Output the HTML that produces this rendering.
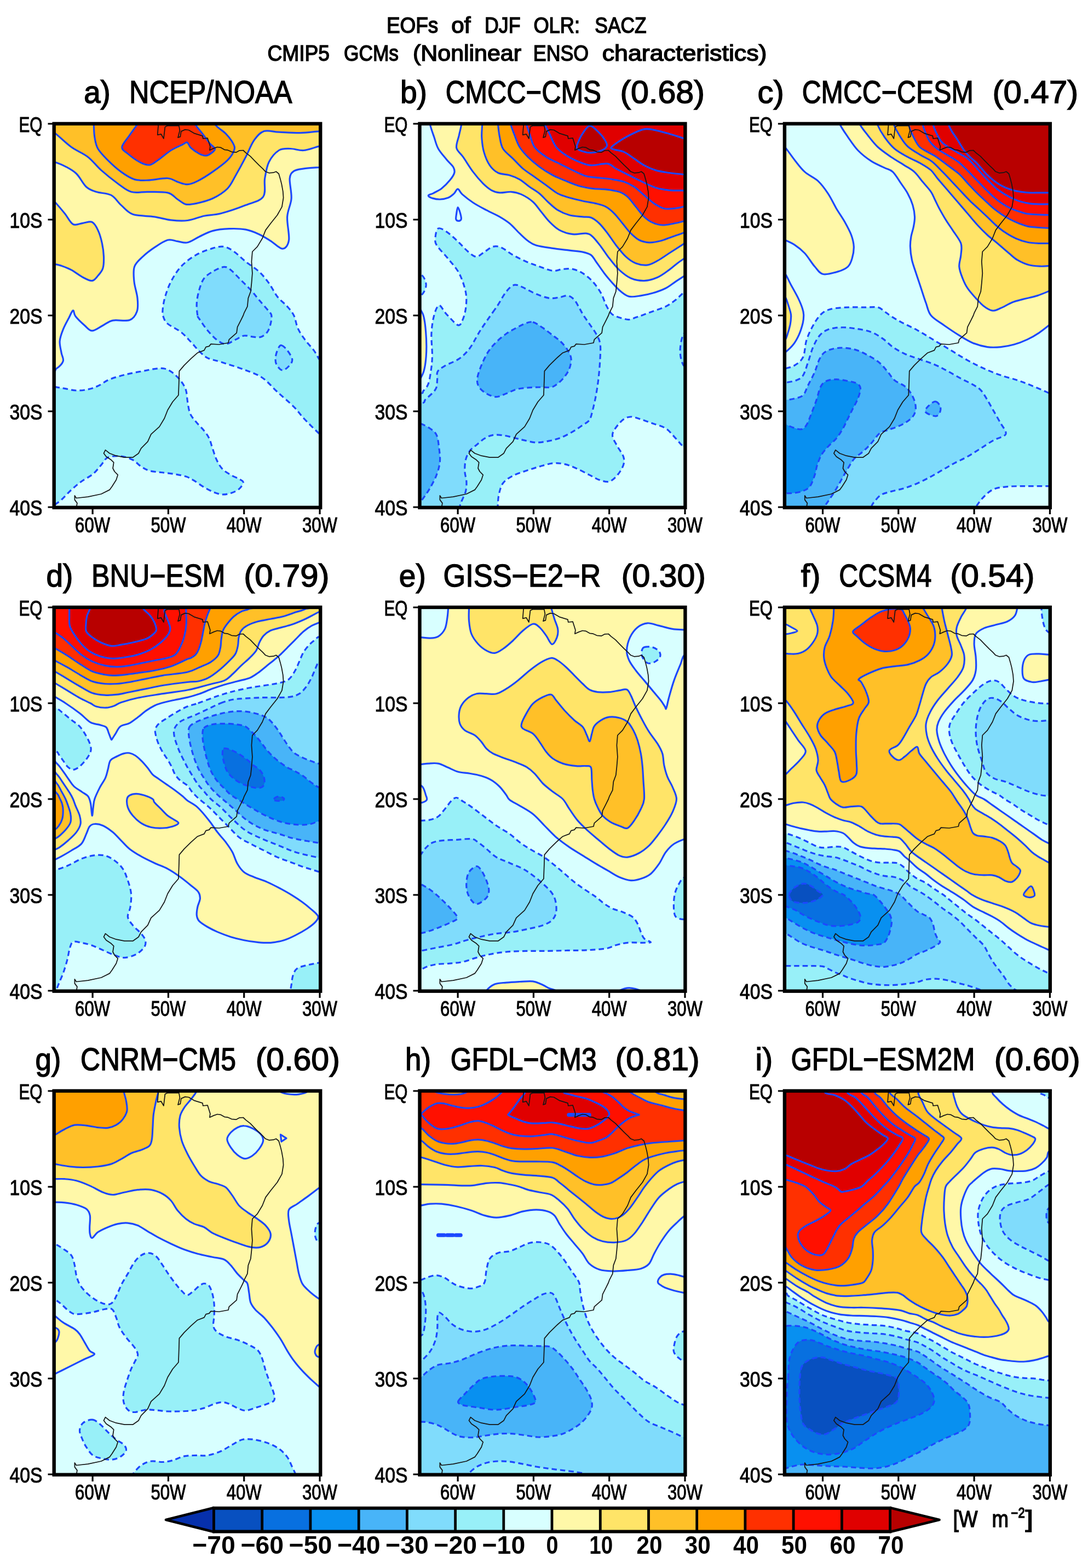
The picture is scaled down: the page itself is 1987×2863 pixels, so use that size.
<!DOCTYPE html>
<html><head><meta charset="utf-8"><title>EOFs of DJF OLR: SACZ</title>
<style>html,body{margin:0;padding:0;background:#fff}svg{display:block}text{font-family:"Liberation Sans",sans-serif;fill:#000}</style></head>
<body>
<svg width="1987" height="2863" viewBox="0 0 1987 2863">
<rect width="1987" height="2863" fill="#fff"/>
<g id="panel-a">
<clipPath id="c0"><rect x="98.5" y="225.5" width="487" height="701.5"/></clipPath>
<rect x="98.5" y="225.5" width="487" height="701.5" fill="#d8ffff"/>
<g clip-path="url(#c0)" stroke-linejoin="round">
<path d="M615.5 303.3C605.2 326.7 594.1 304.7 584 305.5C573.9 306.2 562.8 306.7 554.9 307.9C547 309 541 309.4 536.7 312.4C532.4 315.5 529.9 317.7 529.1 326.1C528.4 334.4 532.9 350.8 532.1 362.5C531.4 374.1 525.3 383.2 524.6 395.8C523.8 408.5 529 428.6 527.6 438.3C526.2 448 521.6 453.8 516.1 454.1C510.5 454.3 501.4 444.2 494.2 439.8C487.1 435.4 480.6 431.1 473 427.7C465.4 424.2 457.8 420.8 448.7 419.2C439.7 417.5 428.5 417.3 418.4 417.7C408.3 418.1 397.2 419.2 388.1 421.6C379 424 371.4 428.7 363.8 432.2C356.3 435.8 349.2 441.4 342.6 442.8C336 444.2 330.5 441.5 324.4 440.7C318.3 439.9 313.3 436.4 306.2 438.3C299.1 440.2 289.5 446.9 282 451.9C274.4 457 266.8 462.8 260.7 468.6C254.7 474.4 248.2 479.2 245.6 486.8C242.9 494.4 244 504.5 245 514.1C245.9 523.7 250.2 535.3 251 544.4C251.9 553.5 252.5 562 250.1 568.7C247.7 575.4 243.8 581.7 236.5 584.5C229.1 587.2 214.2 583.4 206.1 585.1C198.1 586.7 194.3 591 187.9 594.2C181.6 597.3 173.8 603.9 168.2 603.9C162.7 603.9 159.6 598.6 154.6 594.2C149.5 589.8 141.4 582 137.9 577.5C134.4 572.9 135.4 566.4 133.4 566.9C131.3 567.4 128.8 574.7 125.8 580.5C122.7 586.3 117.9 594.7 115.2 601.7C112.4 608.8 109.6 615.9 109.1 623C108.6 630 111.1 638.1 112.1 644.2C113.1 650.3 116.7 654.6 115.2 659.4C113.6 664.2 108.6 669.2 103 673C97.5 676.8 92.4 726.3 81.8 682.1C71.2 637.9 46.4 494.1 39.3 408C32.3 321.8 -61.7 205.8 39.3 165.3C140.4 124.9 549.8 142.4 645.9 165.3C741.9 188.3 625.9 280 615.5 303.3Z" fill="#fff8a8" stroke="#1c48ff" stroke-width="3.2"/>
<path d="M615.5 262.4C605.2 279.3 594.1 264.9 584 266.9C573.9 269 563.8 273.8 554.9 274.5C546 275.3 538.2 271.5 530.6 271.5C523 271.5 516 270.5 509.4 274.5C502.8 278.6 495.5 287.2 491.2 295.7C486.9 304.3 485.4 315.5 483.6 326.1C481.9 336.7 486.4 351.3 480.6 359.4C474.8 367.5 461.6 369.5 448.7 374.6C435.9 379.7 415.9 386.5 403.3 389.8C390.6 393 383 392.2 372.9 394.3C362.8 396.4 352.7 401.2 342.6 402.5C332.5 403.8 322.4 403 312.3 401.9C302.2 400.8 293.6 397.6 282 395.8C270.3 394.1 252.6 394.8 242.5 391.3C232.4 387.7 227.9 380.4 221.3 374.6C214.7 368.8 210.7 360.4 203.1 356.4C195.5 352.4 183.4 352.9 175.8 350.3C168.2 347.8 163.7 346.8 157.6 341.2C151.6 335.7 146 323.3 139.4 317C132.9 310.7 124.8 306.9 118.2 303.3C111.6 299.8 107.1 298.5 100 295.7C92.9 293 85.8 308.4 75.7 286.7C65.6 264.9 -55.7 185.6 39.3 165.3C134.4 145.1 549.8 149.2 645.9 165.3C741.9 181.5 625.9 245.5 615.5 262.4Z" fill="#ffe468" stroke="#1c48ff" stroke-width="3.2"/>
<path d="M81.8 350.3C91.9 341.7 93.9 362 100 368.5C106.1 375.1 112.6 382.9 118.2 389.8C123.8 396.6 127.8 406.5 133.4 409.5C138.9 412.4 145.7 408 151.6 407.3C157.4 406.7 163.7 403.4 168.2 405.5C172.8 407.7 175.8 413.6 178.8 420.1C181.9 426.6 184.7 436.3 186.4 444.3C188.2 452.4 189.2 461 189.5 468.6C189.7 476.2 189.7 484 187.9 489.8C186.2 495.6 182.1 499.7 178.8 503.5C175.6 507.3 172.8 512.1 168.2 512.6C163.7 513.1 157.9 509.8 151.6 506.5C145.2 503.2 136.9 496.4 130.3 492.9C123.8 489.3 117.2 487.1 112.1 485.3C107.1 483.5 106.1 483 100 482.3C93.9 481.5 85.8 491.1 75.7 480.7C65.6 470.4 38.3 441.8 39.3 420.1C40.4 398.4 71.7 358.9 81.8 350.3Z" fill="#ffe468" stroke="#1c48ff" stroke-width="3.2"/>
<path d="M615.5 238.1C605.2 250.5 595.1 238.9 584 239.6C572.9 240.4 561.3 242.4 548.8 242.7C536.4 242.9 520.5 241.7 509.4 241.2C498.3 240.7 489.7 237.1 482.1 239.6C474.5 242.2 469.5 248.5 463.9 256.3C458.4 264.2 454.3 276 448.7 286.7C443.2 297.3 436.1 310.4 430.6 320C425 329.6 422.5 337.2 415.4 344.3C408.3 351.3 397.7 357.9 388.1 362.5C378.5 367 365.9 369.8 357.8 371.6C349.7 373.3 345.1 374.3 339.6 373.1C334 371.8 330 367.5 324.4 364C318.9 360.4 315.3 354.1 306.2 351.9C297.1 349.6 280.9 350.6 269.8 350.3C258.7 350.1 248.6 352.9 239.5 350.3C230.4 347.8 224.3 341.7 215.2 335.2C206.1 328.6 194 319 184.9 310.9C175.8 302.8 169.7 293.7 160.7 286.7C151.6 279.6 140.4 275.8 130.3 268.5C120.2 261.1 109.1 249.8 100 242.7C90.9 235.6 85.8 238.9 75.7 226C65.6 213.1 -55.7 175.5 39.3 165.3C134.4 155.2 549.8 153.2 645.9 165.3C741.9 177.5 625.9 225.7 615.5 238.1Z" fill="#ffc028" stroke="#1c48ff" stroke-width="3.2"/>
<path d="M171.3 207.8C152.8 217.9 171 218.9 171.3 226C171.5 233.1 171.5 242.7 172.8 250.3C174 257.8 174.8 264.4 178.8 271.5C182.9 278.6 190 285.6 197 292.7C204.1 299.8 213.2 308.1 221.3 313.9C229.4 319.8 237.5 325.1 245.6 327.6C253.7 330.1 259.7 329.5 269.8 329.1C279.9 328.8 297.1 325 306.2 325.5C315.3 326 318.3 330.3 324.4 332.1C330.5 334 336.5 336.9 342.6 336.7C348.7 336.4 353.2 334.4 360.8 330.6C368.4 326.8 379 320.3 388.1 313.9C397.2 307.6 408.8 299.3 415.4 292.7C422 286.1 425.8 279.6 427.5 274.5C429.3 269.5 428.5 267.4 426 262.4C423.5 257.3 417.7 249.8 412.4 244.2C407.1 238.6 399.7 235.1 394.2 229C388.6 223 397.7 218.4 379 207.8C360.3 197.2 316.6 165.3 282 165.3C247.3 165.3 189.7 197.7 171.3 207.8Z" fill="#ffa000" stroke="#1c48ff" stroke-width="3.2"/>
<path d="M263.8 207.8C254.7 217.9 256.2 219.4 251.6 226C247.1 232.6 241.3 240.2 236.5 247.2C231.7 254.3 223.3 262.9 222.8 268.5C222.3 274 228.1 276 233.4 280.6C238.7 285.1 248.1 292.3 254.7 295.7C261.2 299.2 267.3 301.7 272.9 301.2C278.4 300.7 281.5 297.2 288 292.7C294.6 288.3 304.7 279.3 312.3 274.5C319.9 269.7 328.6 266.3 333.5 263.9C338.4 261.5 339.2 259 341.7 260C344.2 261 345 266.5 348.7 270C352.4 273.4 359.3 278.2 363.8 280.6C368.4 283 372.2 284.5 376 284.2C379.8 284 383.8 281.2 386.6 279.1C389.4 276.9 393.2 274.3 392.6 271.5C392.1 268.7 387.3 266.9 383.5 262.4C379.8 257.8 374.2 249.8 369.9 244.2C365.6 238.6 361.8 235.1 357.8 229C353.7 223 354.2 218.4 345.6 207.8C337 197.2 319.9 165.3 306.2 165.3C292.6 165.3 272.9 197.7 263.8 207.8Z" fill="#ff3000" stroke="#1c48ff" stroke-width="3.2"/>
<path d="M615.5 711.2C610.3 684.1 591.1 669.8 584 657.8C576.9 645.9 577.4 645.7 573.1 639.6C568.7 633.6 562.7 628 557.9 621.5C553.1 614.9 547.8 607.8 544.3 600.2C540.7 592.6 540 582.7 536.7 576C533.4 569.2 529.6 565.3 524.6 559.6C519.5 553.8 511.9 548.5 506.4 541.4C500.8 534.3 496.8 524.7 491.2 517.1C485.6 509.5 480.1 502.5 473 495.9C465.9 489.3 456.3 483.8 448.7 477.7C441.2 471.6 434.1 464.1 427.5 459.5C421 455 415.9 451.4 409.3 450.4C402.8 449.4 396.7 450.9 388.1 453.4C379.5 456 367.4 460 357.8 465.6C348.2 471.1 338.1 478.7 330.5 486.8C322.9 494.9 317.1 505 312.3 514.1C307.5 523.2 304.2 532.8 301.7 541.4C299.1 550 297.6 559.3 297.1 565.7C296.6 572 297.1 575.1 298.6 579.3C300.2 583.5 300.9 586.6 306.2 591.1C311.5 595.6 323.4 600.7 330.5 606.3C337.6 611.8 343.1 618.7 348.7 624.5C354.2 630.3 358.8 636.3 363.8 641.2C368.9 646 372.4 650.3 379 653.6C385.6 656.9 391.6 657.1 403.3 660.9C414.9 664.6 436.1 671.2 448.7 676C461.4 680.8 469.5 683.1 479.1 689.7C488.7 696.3 496.8 706.6 506.4 715.5C516 724.3 528.6 734.7 536.7 742.8C544.8 750.8 547 755.6 554.9 764C562.8 772.3 573.9 783.4 584 792.8C594.1 802.2 610.3 834 615.5 820.4C620.8 806.8 620.8 738.3 615.5 711.2Z" fill="#98f0f8" stroke="#1c48ff" stroke-width="3.2" stroke-dasharray="9.5 6"/>
<path d="M360.8 576C360 571.2 358.8 561.3 359.3 553.5C359.8 545.7 361.6 536.8 363.8 529.3C366.1 521.7 368.4 513.8 372.9 508C377.5 502.2 385.1 497.8 391.1 494.4C397.2 490.9 404.3 487.7 409.3 487.4C414.4 487.2 416.4 488.9 421.5 492.9C426.5 496.8 433.6 505 439.7 511.1C445.7 517.1 452.3 523.2 457.8 529.3C463.4 535.3 467.5 540.9 473 547.5C478.6 554 487.4 563.9 491.2 568.7C495 573.4 495.2 572.2 495.8 576C496.3 579.7 495.5 586.1 494.2 591.1C493 596.2 491.2 602.2 488.2 606.3C485.1 610.3 480.6 614 476 615.4C471.5 616.8 465.9 615.2 460.9 614.8C455.8 614.4 450.8 612.1 445.7 613C440.7 613.8 436.1 617.4 430.6 619.9C425 622.5 417.9 627.9 412.4 628.1C406.8 628.4 402.8 625.6 397.2 621.5C391.6 617.3 384.6 609.8 379 603.3C373.4 596.7 366.9 586.6 363.8 582C360.8 577.5 361.6 580.7 360.8 576Z" fill="#80dcfc" stroke="#1c48ff" stroke-width="3.2" stroke-dasharray="9.5 6"/>
<path d="M513.9 630.5C516.7 631.1 521.3 635.4 524.6 639.6C527.8 643.9 533.2 651.5 533.7 656.3C534.2 661.1 530.6 665.2 527.6 668.5C524.6 671.7 519.3 676.5 515.5 676C511.7 675.5 506.9 669.5 504.9 665.4C502.8 661.4 502.8 656.6 503.3 651.8C503.8 647 506.1 640.2 507.9 636.6C509.7 633.1 511.2 630 513.9 630.5Z" fill="#80dcfc" stroke="#1c48ff" stroke-width="3.2" stroke-dasharray="9.5 6"/>
<path d="M75.7 703.3C85.8 684.6 92.9 705.4 100 706.4C107.1 707.4 111.6 708.3 118.2 709.4C124.8 710.5 132.3 712.8 139.4 713C146.5 713.3 154.1 712.3 160.7 710.9C167.2 709.5 172.3 707.9 178.8 704.8C185.4 701.8 191.5 696.3 200.1 692.7C208.7 689.2 220.3 686.1 230.4 683.6C240.5 681.1 252.1 679.2 260.7 677.6C269.3 675.9 275.4 674.4 282 673.6C288.5 672.9 294.6 671.8 300.2 673C305.7 674.2 310.3 676.8 315.3 680.6C320.4 684.4 326.4 690.4 330.5 695.7C334.5 701.1 337.6 706.1 339.6 712.4C341.6 718.7 341.3 726.6 342.6 733.7C343.9 740.7 344.6 748.8 347.2 754.9C349.7 761 353.5 764.7 357.8 770C362.1 775.4 368.9 781.7 372.9 786.7C377 791.8 379.5 795.1 382 800.4C384.6 805.7 385.8 812 388.1 818.6C390.4 825.1 392.6 833.5 395.7 839.8C398.7 846.1 402 851.9 406.3 856.5C410.6 861 416.4 864.1 421.5 867.1C426.5 870.1 432.8 872.4 436.6 874.7C440.4 876.9 444.2 877.7 444.2 880.7C444.2 883.8 440.4 889.6 436.6 892.9C432.8 896.2 426.5 898.8 421.5 900.5C416.4 902.1 411.3 903.1 406.3 902.9C401.2 902.6 396.7 901.1 391.1 898.9C385.6 896.8 379 893.4 372.9 889.8C366.9 886.3 360.3 881 354.7 877.7C349.2 874.4 345.6 872.1 339.6 870.1C333.5 868.1 325.9 866.8 318.3 865.6C310.8 864.3 301.7 863.6 294.1 862.5C286.5 861.5 278.9 861.3 272.9 859.5C266.8 857.7 262.7 855.2 257.7 851.9C252.6 848.6 248.6 842.9 242.5 839.8C236.5 836.7 228.9 833.9 221.3 833.1C213.7 832.4 203.1 832.6 197 835.2C191 837.9 189.5 843.8 184.9 848.9C180.4 854 175.8 860.5 169.7 865.6C163.7 870.6 155.1 874.4 148.5 879.2C142 884 136.4 888.8 130.3 894.4C124.3 899.9 117.2 908 112.1 912.6C107.1 917.1 106.1 917.1 100 921.7C93.9 926.2 85.8 957.1 75.7 939.9C65.6 922.7 39.3 858 39.3 818.6C39.3 779.1 65.6 722 75.7 703.3Z" fill="#98f0f8" stroke="#1c48ff" stroke-width="3.2" stroke-dasharray="9.5 6"/>
<path d="M289.2 227.5L287.7 246.3L294.1 244.8L298.9 253L301.4 231.8L305.6 229.6L326.8 229.6L328.4 238.1L325 251.2L329.3 249.7L330.8 239.9L338.1 236.6L344.7 237.5L354.4 243.3L364.1 246.3L369.9 248.1L370.8 253L379 252.1L381.4 259.4L383.9 267.5L382.9 274.2L390.2 270.9L396.9 268.5L403.3 269.4L409.9 273.3L416.3 274.2L423 277.3L431.2 278.2L437.5 274.8L444.2 274.5L449.1 279.1L457.2 285.4L465.1 293.6L473.3 301.8L480 308.2L484.8 313.3L491.2 315.8L499.4 315.2L504.2 313.3L509.1 317.3L511.8 326.4L514.3 336.1L516.7 349.1L517.6 361L514.9 377.6L506.4 392.8L494.2 408L485.1 420.1L479.1 435.2L470 450.4L460.9 459.5L459.4 477.7L460.9 498.9L459.4 517.1L457.8 532.3L453.3 544.4L451.8 559.6L445.7 571.7L444.2 576L439.7 585.1L433.6 597.2L432.1 607.8L418.4 619.9L416.9 626L400.2 629L385.1 628.1L382 632.1L376 633.6L372.9 639.6L360.8 644.2L348.7 654.8L336.5 666.9L327.4 677.6L326.8 697.3L325.9 721.5L315.3 733.7L306.2 748.8L300.2 764L291.1 779.1L275.9 792.8L269.8 806.4L257.7 818.6L253.1 827.7L242.5 835.2L227.4 835.2L212.2 832.2L200.1 827.7L192.5 821.6L189.5 827.7L194 833.7L203.1 839.8L207.7 844.3L206.1 855L209.2 861L215.2 867.1L212.2 876.2L204.6 888.3L200.1 894.4L184.9 902L160.7 907.1L139.4 909.5L136.4 905L136.4 912.6L140.9 918.6L139.4 927.7" fill="none" stroke="#161616" stroke-width="1.75" stroke-linejoin="round"/>
</g>
<rect x="98.7" y="225.9" width="486.5" height="700.8" fill="none" stroke="#000" stroke-width="6.4"/>
<path d="M87.5 226H100" stroke="#000" stroke-width="3" fill="none"/>
<text y="241" font-size="39" font-weight="normal" stroke="#000" stroke-width="1.0"><tspan x="34.5" textLength="43" lengthAdjust="spacingAndGlyphs">EQ</tspan></text>
<path d="M87.5 401H100" stroke="#000" stroke-width="3" fill="none"/>
<text y="416" font-size="39" font-weight="normal" stroke="#000" stroke-width="1.0"><tspan x="17.5" textLength="60" lengthAdjust="spacingAndGlyphs">10S</tspan></text>
<path d="M87.5 576H100" stroke="#000" stroke-width="3" fill="none"/>
<text y="591" font-size="39" font-weight="normal" stroke="#000" stroke-width="1.0"><tspan x="17.5" textLength="60" lengthAdjust="spacingAndGlyphs">20S</tspan></text>
<path d="M87.5 751H100" stroke="#000" stroke-width="3" fill="none"/>
<text y="766" font-size="39" font-weight="normal" stroke="#000" stroke-width="1.0"><tspan x="17.5" textLength="60" lengthAdjust="spacingAndGlyphs">30S</tspan></text>
<path d="M87.5 926H100" stroke="#000" stroke-width="3" fill="none"/>
<text y="941" font-size="39" font-weight="normal" stroke="#000" stroke-width="1.0"><tspan x="17.5" textLength="60" lengthAdjust="spacingAndGlyphs">40S</tspan></text>
<path d="M169.1 926V939" stroke="#000" stroke-width="3.2" fill="none"/>
<text y="972.3" font-size="39" font-weight="normal" stroke="#000" stroke-width="1.0"><tspan x="137.1" textLength="64" lengthAdjust="spacingAndGlyphs">60W</tspan></text>
<path d="M307.4 926V939" stroke="#000" stroke-width="3.2" fill="none"/>
<text y="972.3" font-size="39" font-weight="normal" stroke="#000" stroke-width="1.0"><tspan x="275.4" textLength="64" lengthAdjust="spacingAndGlyphs">50W</tspan></text>
<path d="M445.7 926V939" stroke="#000" stroke-width="3.2" fill="none"/>
<text y="972.3" font-size="39" font-weight="normal" stroke="#000" stroke-width="1.0"><tspan x="413.7" textLength="64" lengthAdjust="spacingAndGlyphs">40W</tspan></text>
<path d="M584 926V939" stroke="#000" stroke-width="3.2" fill="none"/>
<text y="972.3" font-size="39" font-weight="normal" stroke="#000" stroke-width="1.0"><tspan x="552" textLength="64" lengthAdjust="spacingAndGlyphs">30W</tspan></text>
</g>
<g id="panel-b">
<clipPath id="c1"><rect x="765.5" y="225.5" width="487" height="701.5"/></clipPath>
<rect x="765.5" y="225.5" width="487" height="701.5" fill="#d8ffff"/>
<g clip-path="url(#c1)" stroke-linejoin="round">
<path d="M800.4 417.1C803.7 415.5 809.5 419.1 815.5 423.1C821.6 427.2 830.2 435.2 836.7 441.3C843.3 447.4 849.4 455 854.9 459.5C860.5 464.1 865.1 468.6 870.1 468.6C875.2 468.6 880.2 462.5 885.3 459.5C890.3 456.5 895.4 451.7 900.4 450.4C905.5 449.1 909.5 449.4 915.6 451.9C921.7 454.5 929.2 461.3 936.8 465.6C944.4 469.9 953 474.2 961.1 477.7C969.2 481.2 977.3 484 985.3 486.8C993.4 489.6 1002.5 493.6 1009.6 494.4C1016.7 495.1 1021.7 491.9 1027.8 491.4C1033.9 490.8 1039.9 490.1 1046 491.4C1052.1 492.6 1058.1 495.1 1064.2 498.9C1070.3 502.7 1076.8 508 1082.4 514.1C1088 520.2 1093.5 528.2 1097.6 535.3C1101.6 542.4 1103.6 550.5 1106.7 556.6C1109.7 562.6 1112.7 568.2 1115.7 571.7C1118.8 575.2 1121.3 575.9 1124.8 577.5C1128.4 579.1 1132.9 580.4 1137 581.4C1141 582.4 1145.1 583.8 1149.1 583.5C1153.2 583.2 1157.2 581 1161.2 579.6C1165.3 578.2 1168.3 577.2 1173.4 575.4C1178.4 573.5 1184.5 571.3 1191.6 568.7C1198.6 566.1 1208.7 563.1 1215.8 559.6C1222.9 556 1228.2 552 1234 547.5C1239.9 542.9 1242.9 538.4 1251 532.3C1259.1 526.2 1277.3 459.3 1282.5 511.1C1287.8 562.8 1287.8 791.6 1282.5 842.8C1277.3 894.1 1259.1 825.6 1251 818.6C1242.9 811.5 1239.9 806.4 1234 800.4C1228.2 794.3 1222.9 786.7 1215.8 782.2C1208.7 777.6 1199.1 775.9 1191.6 773.1C1184 770.3 1176.9 767.5 1170.3 765.5C1163.8 763.5 1157.7 760.7 1152.1 761C1146.6 761.2 1142 763 1137 767C1131.9 771.1 1124.8 780.2 1121.8 785.2C1118.8 790.3 1117.8 792.3 1118.8 797.3C1119.8 802.4 1124.6 809.5 1127.9 815.5C1131.2 821.6 1136.7 828.2 1138.5 833.7C1140.3 839.3 1140.3 843.3 1138.5 848.9C1136.7 854.5 1132.2 862 1127.9 867.1C1123.6 872.1 1118.3 877.7 1112.7 879.2C1107.2 880.7 1100.6 878.2 1094.5 876.2C1088.5 874.2 1083.4 870.6 1076.3 867.1C1069.2 863.6 1059.6 858.2 1052.1 855C1044.5 851.7 1037.9 848.9 1030.8 847.4C1023.8 845.9 1017.2 845.1 1009.6 845.9C1002 846.6 993.4 849.7 985.3 851.9C977.3 854.2 969.2 856.7 961.1 859.5C953 862.3 943.9 864.8 936.8 868.6C929.7 872.4 922.9 876.4 918.6 882.3C914.3 888.1 912.7 896.2 911 903.5C909.4 910.8 909.7 916.8 908.9 925.9C908.2 935 937.7 950.7 906.5 958.1C875.3 965.4 752.3 1009.6 721.5 970.2C690.7 930.8 713.9 763.5 721.5 721.5C729.1 679.6 758.4 719.8 767 718.5C775.6 717.2 770.5 716.9 773.1 713.9C775.6 711 779.8 707.4 782.2 700.9C784.5 694.4 786.1 683.5 787.3 674.8C788.5 666.1 789.3 659.6 789.4 648.7C789.5 637.9 787.4 621.6 787.9 609.6C788.4 597.6 790.2 585.6 792.5 576.9C794.7 568.2 798.2 558.6 801.6 557.5C804.9 556.4 809.7 567 812.5 570.2C815.3 573.4 814.5 572.9 818.6 576.9C822.6 580.8 832.5 593.2 837.1 593.9C841.7 594.5 843.8 586.9 846.2 580.8C848.5 574.7 850.6 565.7 851.3 557.5C852 549.2 852.3 541.2 850.1 531.4C847.9 521.6 843.5 508.4 838.3 498.6C833 488.8 825.4 481.1 818.6 472.6C811.7 464 801.2 454.1 797.3 447.4C793.4 440.7 794.7 437.3 795.2 432.2C795.7 427.2 797 418.6 800.4 417.1Z" fill="#98f0f8" stroke="#1c48ff" stroke-width="3.2" stroke-dasharray="9.5 6"/>
<path d="M757.9 498.9C760.2 492.6 768.2 499.9 771.5 503.5C774.9 507 778.2 514.6 778.2 520.2C778.2 525.7 774.9 533.3 771.5 536.8C768.2 540.4 760.2 547.7 757.9 541.4C755.6 535.1 755.6 505.3 757.9 498.9Z" fill="#98f0f8" stroke="#1c48ff" stroke-width="3.2" stroke-dasharray="9.5 6"/>
<path d="M899.8 570.5C905.2 562.8 905.4 562.9 909.5 556.6C913.7 550.2 919.6 538.4 924.7 532.3C929.7 526.2 934.3 521.2 939.9 520.2C945.4 519.2 951.5 523.4 958.1 526.2C964.6 529 971.7 533.8 979.3 536.8C986.9 539.9 996.5 543.4 1003.5 544.4C1010.6 545.4 1016.2 543.7 1021.7 542.9C1027.3 542.1 1032.4 539.1 1036.9 539.9C1041.5 540.6 1045.5 543.7 1049 547.5C1052.6 551.2 1055.3 557.9 1058.1 562.6C1060.9 567.4 1062.7 571.2 1065.7 576C1068.7 580.7 1072.5 585.6 1076.3 591.1C1080.1 596.7 1085.2 603.3 1088.5 609.3C1091.7 615.4 1094.8 619.9 1096 627.5C1097.3 635.1 1096.5 644.2 1096 654.8C1095.5 665.4 1094.3 680.1 1093 691.2C1091.7 702.3 1090.2 711.9 1088.5 721.5C1086.7 731.1 1084.4 741.2 1082.4 748.8C1080.4 756.4 1079.4 762.5 1076.3 767C1073.3 771.6 1069.2 772.6 1064.2 776.1C1059.1 779.7 1052.6 784.5 1046 788.2C1039.4 792 1031.8 796.1 1024.8 798.9C1017.7 801.6 1011.1 803.4 1003.5 804.9C996 806.4 987.4 808.2 979.3 808C971.2 807.7 962.1 804.9 955 803.4C947.9 801.9 942.9 800.3 936.8 798.9C930.8 797.4 924.7 795.7 918.6 794.9C912.6 794.2 906 793.4 900.4 794.3C894.9 795.2 890.3 797.3 885.3 800.4C880.2 803.4 874.7 808.7 870.1 812.5C865.6 816.3 861.3 818.6 858 823.1C854.7 827.7 851.9 833.5 850.4 839.8C848.9 846.1 848.6 854.5 848.9 861C849.1 867.6 851.7 873.2 851.9 879.2C852.2 885.3 851.9 891.4 850.4 897.4C848.9 903.5 844.6 910.9 842.8 915.6C841 920.4 840.8 918.8 839.8 925.9C838.8 933 856.5 952.7 836.7 958.1C817 963.4 740.7 994.5 721.5 958.1C702.3 921.7 713.5 776.7 721.5 739.7C729.5 702.7 760.5 737.8 769.7 736.1C779 734.4 772.8 733.6 777 729.4C781.3 725.3 791.6 717.1 795.2 711.2C798.8 705.4 797.9 699.6 798.5 694.2C799.2 688.8 796.9 683.1 799.1 678.8C801.4 674.4 805.7 672.1 812.2 668.2C818.7 664.2 830.6 660.5 838.3 655.1C845.9 649.7 851.5 644.4 858 635.7C864.5 627 870.4 613.8 877.4 603C884.4 592.1 894.5 578.2 899.8 570.5Z" fill="#80dcfc" stroke="#1c48ff" stroke-width="3.2" stroke-dasharray="9.5 6"/>
<path d="M1267.4 603.3C1264.3 592.6 1253.3 604.3 1249.2 609.3C1245 614.4 1243.4 626 1242.5 633.6C1241.6 641.2 1242.3 648.7 1243.7 654.8C1245.1 660.9 1247.1 666.9 1251 670C1254.9 673 1264.6 684.1 1267.4 673C1270.1 661.9 1270.4 613.9 1267.4 603.3Z" fill="#80dcfc" stroke="#1c48ff" stroke-width="3.2" stroke-dasharray="9.5 6"/>
<path d="M973.2 588.1C978.8 589.4 985.3 594.7 991.4 598.7C997.5 602.8 1004 608.1 1009.6 612.4C1015.2 616.6 1020.2 619.9 1024.8 624.5C1029.3 629 1033.9 634.6 1036.9 639.6C1039.9 644.7 1042.5 649.2 1043 654.8C1043.5 660.4 1042 667.4 1039.9 673C1037.9 678.6 1034.4 683.6 1030.8 688.2C1027.3 692.7 1022.7 697.2 1018.7 700.3C1014.7 703.4 1012.1 705.9 1006.6 707C1001 708.1 992.4 706.8 985.3 707C978.3 707.1 971.2 707.2 964.1 707.9C957 708.5 949.5 709.1 942.9 710.9C936.3 712.7 930.8 716.2 924.7 718.5C918.6 720.8 912.6 724.6 906.5 724.6C900.4 724.6 893.6 721.5 888.3 718.5C883 715.5 877.4 710.9 874.7 706.4C871.9 701.8 870.9 697.8 871.6 691.2C872.4 684.6 875.9 675 879.2 666.9C882.5 658.9 886.8 649.8 891.3 642.7C895.9 635.6 900.9 630 906.5 624.5C912.1 618.9 918.6 613.6 924.7 609.3C930.8 605 937.3 601.7 942.9 598.7C948.5 595.7 953 592.9 958.1 591.1C963.1 589.4 967.7 586.8 973.2 588.1Z" fill="#48b4f8" stroke="#1c48ff" stroke-width="3.2" stroke-dasharray="9.5 6"/>
<path d="M751.8 770C754.4 744.8 761.4 771.1 767 773.1C772.6 775.1 780.1 778.6 785.2 782.2C790.2 785.7 794.5 788.2 797.3 794.3C800.1 800.4 800.9 810.5 801.9 818.6C802.9 826.7 804.1 834.7 803.4 842.8C802.6 850.9 800.4 859 797.3 867.1C794.3 875.2 789.2 884.3 785.2 891.4C781.2 898.4 776.1 905.5 773.1 909.5C770 913.6 770.5 913.1 767 915.6C763.5 918.1 754.4 949 751.8 924.7C749.3 900.5 749.3 795.3 751.8 770Z" fill="#48b4f8" stroke="#1c48ff" stroke-width="3.2" stroke-dasharray="9.5 6"/>
<path d="M785.2 207.8C788.2 217.9 783.9 218.9 785.2 226C786.5 233.1 790.2 242.7 792.8 250.3C795.3 257.8 796.6 264.7 800.4 271.5C804.1 278.3 811 285.6 815.5 291.2C820.1 296.8 825.3 300.8 827.7 304.8C830 308.9 830.8 311.4 829.8 315.5C828.8 319.5 825.5 324.3 821.6 329.1C817.7 333.9 811.5 340.3 806.4 344.3C801.4 348.2 795.3 350.6 791.3 352.8C787.2 354.9 782.4 355.5 782.2 357C781.9 358.5 786.2 360.7 789.7 361.9C793.3 363 798.6 364.1 803.4 364C808.2 363.8 814.3 362.7 818.6 361C822.9 359.2 826.2 356 829.2 353.4C832.1 350.7 833.6 344.9 836.1 345.2C838.7 345.4 839.7 350.7 844.3 354.9C849 359 856.7 365.2 864 370C871.4 374.9 880.2 379.4 888.3 383.7C896.4 388 905.5 391.8 912.6 395.8C919.6 399.9 924.7 402.9 930.8 408C936.8 413 943.4 420.8 949 426.2C954.5 431.5 959.1 436.2 964.1 439.8C969.2 443.4 971.7 445.7 979.3 448C986.9 450.3 999.5 451.9 1009.6 453.4C1019.7 455 1030.8 456 1039.9 457.1C1049 458.2 1057.6 458.7 1064.2 460.1C1070.8 461.5 1075.3 462.6 1079.4 465.6C1083.4 468.5 1084.4 472.1 1088.5 477.7C1092.5 483.3 1098.6 492.4 1103.6 498.9C1108.7 505.5 1113.7 511.6 1118.8 517.1C1123.8 522.7 1128.9 528.2 1133.9 532.3C1139 536.3 1143 540.1 1149.1 541.4C1155.2 542.7 1163.3 540.9 1170.3 539.9C1177.4 538.9 1184 537.6 1191.6 535.3C1199.1 533.1 1208.7 529.8 1215.8 526.2C1222.9 522.7 1228.2 517.9 1234 514.1C1239.9 510.3 1242.9 508.2 1251 503.2C1259.1 498.1 1274.8 540.1 1282.5 483.8C1290.3 427.5 1383.6 218.4 1297.7 165.3C1211.8 112.3 852.4 158.3 767 165.3C681.6 172.4 782.2 197.7 785.2 207.8Z" fill="#fff8a8" stroke="#1c48ff" stroke-width="3.2"/>
<path d="M757.9 568.7C760.2 549 768.3 565.7 771.5 571.7C774.8 577.8 776.5 591.9 777.6 605.1C778.7 618.2 779.2 637.4 778.2 650.6C777.2 663.7 774.9 677.4 771.5 683.9C768.2 690.5 760.2 709.2 757.9 690C755.6 670.8 755.6 588.4 757.9 568.7Z" fill="#fff8a8" stroke="#1c48ff" stroke-width="3.2"/>
<path d="M836.1 378.5C837.3 378.5 839.7 386.1 840.7 389.8C841.7 393.4 842.8 398.1 842.2 400.4C841.7 402.6 838.9 403.4 837.4 403.4C835.8 403.4 833.4 402.6 832.8 400.4C832.2 398.1 833.2 393.4 833.7 389.8C834.3 386.1 835 378.5 836.1 378.5Z" fill="none" stroke="#1c48ff" stroke-width="3.2"/>
<path d="M842.8 207.8C842.8 217.9 843.6 219.4 842.8 226C842.1 232.6 839.8 239.9 838.3 247.2C836.7 254.6 832.5 263.4 833.7 270C835 276.5 840.8 279.3 845.8 286.7C850.9 294 858 305.9 864 313.9C870.1 322 876.7 329.6 882.2 335.2C887.8 340.7 892.3 344.5 897.4 347.3C902.5 350.1 906.5 351.3 912.6 351.9C918.6 352.4 927.2 349.8 933.8 350.3C940.4 350.8 945.4 351.9 952 354.9C958.6 357.9 967.2 363.2 973.2 368.5C979.3 373.8 983.3 380.7 988.4 386.7C993.4 392.8 998 399.4 1003.5 404.9C1009.1 410.5 1014.7 416.3 1021.7 420.1C1028.8 423.9 1037.9 426.7 1046 427.7C1054.1 428.7 1064.2 425.4 1070.3 426.2C1076.3 426.9 1077.8 428.2 1082.4 432.2C1086.9 436.3 1092.5 443.8 1097.6 450.4C1102.6 457 1107.2 464.6 1112.7 471.6C1118.3 478.7 1124.3 486.8 1130.9 492.9C1137.5 498.9 1144.6 504.7 1152.1 508C1159.7 511.3 1168.3 512.8 1176.4 512.6C1184.5 512.3 1193.1 509.8 1200.7 506.5C1208.2 503.2 1215.8 497.2 1221.9 492.9C1228 488.6 1232.2 484.4 1237.1 480.7C1241.9 477.1 1243.4 476.1 1251 471C1258.6 466 1274.8 501.4 1282.5 450.4C1290.3 399.5 1371 212.9 1297.7 165.3C1224.4 117.8 918.6 158.3 842.8 165.3C767 172.4 842.8 197.7 842.8 207.8Z" fill="#ffe468" stroke="#1c48ff" stroke-width="3.2"/>
<path d="M880.7 207.8C880.7 217.9 880.9 218.9 880.7 226C880.6 233.1 879.3 241.7 879.8 250.3C880.3 258.9 881.3 269 883.8 277.6C886.2 286.1 890.1 295.5 894.4 301.8C898.7 308.1 903.5 312.4 909.5 315.5C915.6 318.5 924.2 318 930.8 320C937.3 322 942.9 324.1 949 327.6C955 331.1 961.1 336.9 967.2 341.2C973.2 345.5 979.8 348.8 985.3 353.4C990.9 357.9 995 363.5 1000.5 368.5C1006.1 373.6 1012.1 379.7 1018.7 383.7C1025.3 387.7 1032.4 390.8 1039.9 392.8C1047.5 394.8 1057.6 395.1 1064.2 395.8C1070.8 396.6 1074.3 395.3 1079.4 397.3C1084.4 399.4 1089.5 403.2 1094.5 408C1099.6 412.8 1104.6 419.6 1109.7 426.2C1114.7 432.7 1119.3 440.3 1124.8 447.4C1130.4 454.5 1137 463 1143 468.6C1149.1 474.2 1154.7 478.2 1161.2 480.7C1167.8 483.3 1175.9 484.5 1182.5 483.8C1189 483 1194.1 479.7 1200.7 476.2C1207.2 472.7 1213.5 468 1221.9 462.5C1230.3 457.1 1240.9 450.3 1251 443.7C1261.1 437.2 1274.8 469.5 1282.5 423.1C1290.3 376.7 1364.7 208.3 1297.7 165.3C1230.7 122.4 950.2 158.3 880.7 165.3C811.2 172.4 880.7 197.7 880.7 207.8Z" fill="#ffc028" stroke="#1c48ff" stroke-width="3.2"/>
<path d="M909.5 207.8C909.5 217.9 909 218.9 909.5 226C910 233.1 911 242.7 912.6 250.3C914.1 257.8 914.6 264.9 918.6 271.5C922.7 278.1 930.8 283.6 936.8 289.7C942.9 295.7 948.5 302.3 955 307.9C961.6 313.4 969.2 318 976.2 323C983.3 328.1 990.4 333.2 997.5 338.2C1004.6 343.3 1011.6 349.6 1018.7 353.4C1025.8 357.2 1032.4 358.7 1039.9 361C1047.5 363.2 1056.1 365.2 1064.2 367C1072.3 368.8 1081.4 369.8 1088.5 371.6C1095.5 373.3 1101.1 374.6 1106.7 377.6C1112.2 380.7 1116.8 384.7 1121.8 389.8C1126.9 394.8 1131.9 401.9 1137 408C1142 414 1147.1 421.1 1152.1 426.2C1157.2 431.2 1161.7 435.5 1167.3 438.3C1172.9 441.1 1178.9 442.6 1185.5 442.8C1192.1 443.1 1199.7 441.6 1206.7 439.8C1213.8 438 1220.6 434.8 1228 432.2C1235.3 429.6 1241.9 427.6 1251 424C1260.1 420.5 1274.8 454.1 1282.5 411C1290.3 367.9 1359.9 206.3 1297.7 165.3C1235.5 124.4 974.2 158.3 909.5 165.3C844.8 172.4 909.5 197.7 909.5 207.8Z" fill="#ffa000" stroke="#1c48ff" stroke-width="3.2"/>
<path d="M927.7 207.8C928.5 217.9 930.3 219.4 932.3 226C934.3 232.6 937.1 240.2 939.9 247.2C942.6 254.3 944.9 261.9 949 268.5C953 275 958.1 280.6 964.1 286.7C970.2 292.7 977.8 299.3 985.3 304.8C992.9 310.4 1001.5 315.7 1009.6 320C1017.7 324.3 1025.8 327.3 1033.9 330.6C1042 333.9 1050 337.4 1058.1 339.7C1066.2 342 1074.3 343.3 1082.4 344.3C1090.5 345.3 1098.6 344.8 1106.7 345.8C1114.7 346.8 1124.3 348.1 1130.9 350.3C1137.5 352.6 1141 354.9 1146.1 359.4C1151.1 364 1156.2 371.6 1161.2 377.6C1166.3 383.7 1171.3 391 1176.4 395.8C1181.5 400.6 1186 403.9 1191.6 406.4C1197.1 409 1203.2 410.7 1209.8 411C1216.3 411.2 1224.1 409.2 1231 408C1237.9 406.7 1242.4 405.4 1251 403.4C1259.6 401.4 1274.8 435.5 1282.5 395.8C1290.3 356.1 1356.8 203.8 1297.7 165.3C1238.6 126.9 989.4 158.3 927.7 165.3C866.1 172.4 927 197.7 927.7 207.8Z" fill="#ff3000" stroke="#1c48ff" stroke-width="3.2"/>
<path d="M956.5 207.8C957.3 217.9 959.3 219.9 961.1 226C962.9 232.1 964.6 237.1 967.2 244.2C969.7 251.3 971.2 261.4 976.2 268.5C981.3 275.5 989.9 281.6 997.5 286.7C1005.1 291.7 1013.7 294.7 1021.7 298.8C1029.8 302.8 1037.9 307.1 1046 310.9C1054.1 314.7 1062.2 319.3 1070.3 321.5C1078.3 323.8 1086.4 323.5 1094.5 324.6C1102.6 325.6 1111.2 326.3 1118.8 327.6C1126.4 328.9 1133.4 329.9 1140 332.1C1146.6 334.4 1152.1 337.2 1158.2 341.2C1164.3 345.3 1170.3 351.3 1176.4 356.4C1182.5 361.5 1188.5 367.5 1194.6 371.6C1200.7 375.6 1206.7 379.1 1212.8 380.7C1218.9 382.2 1224.6 381.3 1231 380.7C1237.4 380 1242.4 378.7 1251 376.7C1259.6 374.7 1274.8 403.8 1282.5 368.5C1290.3 333.3 1352 199.2 1297.7 165.3C1243.4 131.5 1013.4 158.3 956.5 165.3C899.7 172.4 955.8 197.7 956.5 207.8Z" fill="#ff1000" stroke="#1c48ff" stroke-width="3.2"/>
<path d="M988.4 207.8C989.4 217.9 991.9 219.9 994.4 226C997 232.1 1000 237.1 1003.5 244.2C1007.1 251.3 1010.6 261.9 1015.7 268.5C1020.7 275 1026.8 279.1 1033.9 283.6C1040.9 288.2 1050.5 292.7 1058.1 295.7C1065.7 298.8 1070.8 301.3 1079.4 301.8C1088 302.3 1102.1 297.8 1109.7 298.8C1117.3 299.8 1118.3 304.3 1124.8 307.9C1131.4 311.4 1141 316 1149.1 320C1157.2 324.1 1165.3 328.4 1173.4 332.1C1181.5 335.9 1189.5 340.2 1197.6 342.8C1205.7 345.3 1213 346.4 1221.9 347.3C1230.8 348.2 1240.9 347.9 1251 347.9C1261.1 347.9 1274.8 377.7 1282.5 347.3C1290.3 316.9 1346.7 195.7 1297.7 165.3C1248.7 135 1039.9 158.3 988.4 165.3C936.8 172.4 987.4 197.7 988.4 207.8Z" fill="#e00000" stroke="#1c48ff" stroke-width="3.2"/>
<path d="M1282.5 262.4C1277.3 251 1261.1 256.3 1251 253.3C1240.9 250.3 1231.8 247 1221.9 244.2C1212 241.4 1199.7 237.9 1191.6 236.6C1183.5 235.4 1180.4 234.8 1173.4 236.6C1166.3 238.4 1156.2 243.7 1149.1 247.2C1142 250.8 1136.4 254.2 1130.9 257.8C1125.5 261.5 1117.9 266.5 1116.4 269.1C1114.8 271.6 1117.9 271.6 1121.8 273C1125.8 274.4 1133.9 274.8 1140 277.6C1146.1 280.3 1152.1 285.6 1158.2 289.7C1164.3 293.7 1169.8 298.3 1176.4 301.8C1183 305.4 1190 308.6 1197.6 310.9C1205.2 313.2 1213 314.1 1221.9 315.5C1230.8 316.8 1240.9 317.8 1251 318.8C1261.1 319.8 1277.3 330.9 1282.5 321.5C1287.8 312.1 1287.8 273.8 1282.5 262.4Z" fill="#b80000" stroke="#1c48ff" stroke-width="3.2"/>
<path d="M1077.5 229.6C1082.1 229.6 1088.4 236.7 1093 241.2C1097.6 245.6 1102.6 252 1105.1 256.3C1107.7 260.6 1109.4 263.8 1108.2 266.9C1106.9 270.1 1102.4 273.2 1097.6 275.1C1092.8 277.1 1085.2 278.6 1079.4 278.8C1073.5 278.9 1067 277.5 1062.7 276C1058.4 274.6 1054.6 273 1053.6 270C1052.6 266.9 1054.6 262.6 1056.6 257.8C1058.6 253 1062.2 245.9 1065.7 241.2C1069.2 236.5 1073 229.6 1077.5 229.6Z" fill="#b80000" stroke="#1c48ff" stroke-width="3.2"/>
<path d="M956.2 227.5L954.7 246.3L961.1 244.8L965.9 253L968.4 231.8L972.6 229.6L993.8 229.6L995.4 238.1L992 251.2L996.3 249.7L997.8 239.9L1005.1 236.6L1011.7 237.5L1021.4 243.3L1031.1 246.3L1036.9 248.1L1037.8 253L1046 252.1L1048.4 259.4L1050.9 267.5L1049.9 274.2L1057.2 270.9L1063.9 268.5L1070.3 269.4L1076.9 273.3L1083.3 274.2L1090 277.3L1098.2 278.2L1104.5 274.8L1111.2 274.5L1116.1 279.1L1124.2 285.4L1132.1 293.6L1140.3 301.8L1147 308.2L1151.8 313.3L1158.2 315.8L1166.4 315.2L1171.2 313.3L1176.1 317.3L1178.8 326.4L1181.3 336.1L1183.7 349.1L1184.6 361L1181.9 377.6L1173.4 392.8L1161.2 408L1152.1 420.1L1146.1 435.2L1137 450.4L1127.9 459.5L1126.4 477.7L1127.9 498.9L1126.4 517.1L1124.8 532.3L1120.3 544.4L1118.8 559.6L1112.7 571.7L1111.2 576L1106.7 585.1L1100.6 597.2L1099.1 607.8L1085.4 619.9L1083.9 626L1067.2 629L1052.1 628.1L1049 632.1L1043 633.6L1039.9 639.6L1027.8 644.2L1015.7 654.8L1003.5 666.9L994.4 677.6L993.8 697.3L992.9 721.5L982.3 733.7L973.2 748.8L967.2 764L958.1 779.1L942.9 792.8L936.8 806.4L924.7 818.6L920.1 827.7L909.5 835.2L894.4 835.2L879.2 832.2L867.1 827.7L859.5 821.6L856.5 827.7L861 833.7L870.1 839.8L874.7 844.3L873.1 855L876.2 861L882.2 867.1L879.2 876.2L871.6 888.3L867.1 894.4L851.9 902L827.7 907.1L806.4 909.5L803.4 905L803.4 912.6L807.9 918.6L806.4 927.7" fill="none" stroke="#161616" stroke-width="1.75" stroke-linejoin="round"/>
</g>
<rect x="766.5" y="225.9" width="484.9" height="700.8" fill="none" stroke="#000" stroke-width="6.4"/>
<path d="M754.5 226H767" stroke="#000" stroke-width="3" fill="none"/>
<text y="241" font-size="39" font-weight="normal" stroke="#000" stroke-width="1.0"><tspan x="701.5" textLength="43" lengthAdjust="spacingAndGlyphs">EQ</tspan></text>
<path d="M754.5 401H767" stroke="#000" stroke-width="3" fill="none"/>
<text y="416" font-size="39" font-weight="normal" stroke="#000" stroke-width="1.0"><tspan x="684.5" textLength="60" lengthAdjust="spacingAndGlyphs">10S</tspan></text>
<path d="M754.5 576H767" stroke="#000" stroke-width="3" fill="none"/>
<text y="591" font-size="39" font-weight="normal" stroke="#000" stroke-width="1.0"><tspan x="684.5" textLength="60" lengthAdjust="spacingAndGlyphs">20S</tspan></text>
<path d="M754.5 751H767" stroke="#000" stroke-width="3" fill="none"/>
<text y="766" font-size="39" font-weight="normal" stroke="#000" stroke-width="1.0"><tspan x="684.5" textLength="60" lengthAdjust="spacingAndGlyphs">30S</tspan></text>
<path d="M754.5 926H767" stroke="#000" stroke-width="3" fill="none"/>
<text y="941" font-size="39" font-weight="normal" stroke="#000" stroke-width="1.0"><tspan x="684.5" textLength="60" lengthAdjust="spacingAndGlyphs">40S</tspan></text>
<path d="M836.1 926V939" stroke="#000" stroke-width="3.2" fill="none"/>
<text y="972.3" font-size="39" font-weight="normal" stroke="#000" stroke-width="1.0"><tspan x="804.1" textLength="64" lengthAdjust="spacingAndGlyphs">60W</tspan></text>
<path d="M974.4 926V939" stroke="#000" stroke-width="3.2" fill="none"/>
<text y="972.3" font-size="39" font-weight="normal" stroke="#000" stroke-width="1.0"><tspan x="942.4" textLength="64" lengthAdjust="spacingAndGlyphs">50W</tspan></text>
<path d="M1112.7 926V939" stroke="#000" stroke-width="3.2" fill="none"/>
<text y="972.3" font-size="39" font-weight="normal" stroke="#000" stroke-width="1.0"><tspan x="1080.7" textLength="64" lengthAdjust="spacingAndGlyphs">40W</tspan></text>
<path d="M1251 926V939" stroke="#000" stroke-width="3.2" fill="none"/>
<text y="972.3" font-size="39" font-weight="normal" stroke="#000" stroke-width="1.0"><tspan x="1219" textLength="64" lengthAdjust="spacingAndGlyphs">30W</tspan></text>
</g>
<g id="panel-c">
<clipPath id="c2"><rect x="1431.9" y="225.5" width="487" height="701.5"/></clipPath>
<rect x="1431.9" y="225.5" width="487" height="701.5" fill="#d8ffff"/>
<g clip-path="url(#c2)" stroke-linejoin="round">
<path d="M1415.2 250.3C1425.3 237.1 1427.3 261.4 1433.4 268.5C1439.5 275.5 1445.5 285.1 1451.6 292.7C1457.7 300.3 1462.7 307.6 1469.8 313.9C1476.9 320.3 1487 324.1 1494.1 330.6C1501.1 337.2 1506.7 345 1512.2 353.4C1517.8 361.7 1522.4 372.1 1527.4 380.7C1532.5 389.3 1538 396.8 1542.6 404.9C1547.1 413 1551.9 421.6 1554.7 429.2C1557.5 436.8 1559 443.3 1559.3 450.4C1559.5 457.5 1558 465.6 1556.2 471.6C1554.5 477.7 1552.9 482.8 1548.6 486.8C1544.3 490.8 1538 493.6 1530.4 495.9C1522.9 498.2 1510.2 502 1503.1 500.5C1496.1 498.9 1493.5 493.1 1488 486.8C1482.4 480.5 1475.9 469.1 1469.8 462.5C1463.7 456 1457.7 451.4 1451.6 447.4C1445.5 443.3 1439.5 440.8 1433.4 438.3C1427.3 435.8 1425.3 447.4 1415.2 432.2C1405.1 417.1 1372.7 377.6 1372.7 347.3C1372.7 317 1405.1 263.4 1415.2 250.3Z" fill="#fff8a8" stroke="#1c48ff" stroke-width="3.2"/>
<path d="M1418.2 480.7C1428.3 470.6 1429 492.4 1433.4 498.9C1437.8 505.5 1440.6 512.6 1444.6 520.2C1448.7 527.7 1454.2 537.3 1457.7 544.4C1461.1 551.5 1463.6 557.6 1465.2 562.6C1466.9 567.7 1467.5 570.2 1467.7 574.7C1467.8 579.3 1467.6 583.8 1466.2 589.9C1464.7 596 1462.1 604.6 1459.2 611.1C1456.2 617.7 1452.9 623.9 1448.6 629.3C1444.3 634.8 1438.5 639.8 1433.4 643.9C1428.3 647.9 1428.3 667.6 1418.2 653.6C1408.1 639.5 1372.7 588.4 1372.7 559.6C1372.7 530.8 1408.1 490.8 1418.2 480.7Z" fill="#fff8a8" stroke="#1c48ff" stroke-width="3.2"/>
<path d="M1418.2 526.2C1428.3 519.6 1429.9 536 1433.4 541.1C1436.9 546.1 1437.7 551.4 1439.5 556.6C1441.2 561.7 1443.2 567.9 1444 571.7C1444.9 575.5 1444.8 575.8 1444.6 579.3C1444.5 582.8 1444.1 588.1 1443.1 592.9C1442.1 597.7 1440.5 603.3 1438.9 608.1C1437.2 612.9 1436.8 617.2 1433.4 621.8C1430 626.3 1428.3 642.2 1418.2 635.4C1408.1 628.6 1372.7 599 1372.7 580.8C1372.7 562.6 1408.1 532.8 1418.2 526.2Z" fill="#ffe468" stroke="#1c48ff" stroke-width="3.2"/>
<path d="M1530.4 207.8C1530.9 217.9 1530.4 218.9 1533.5 226C1536.5 233.1 1543.1 242.2 1548.6 250.3C1554.2 258.3 1559.8 267.2 1566.8 274.5C1573.9 281.9 1583 288.9 1591.1 294.2C1599.2 299.5 1608.8 303.1 1615.4 306.4C1621.9 309.6 1625.5 309.1 1630.5 313.9C1635.6 318.7 1641.1 328.6 1645.7 335.2C1650.2 341.7 1654.3 346.8 1657.8 353.4C1661.4 359.9 1664.8 367.5 1666.9 374.6C1669 381.7 1670.3 389.3 1670.5 395.8C1670.8 402.4 1669.5 408 1668.4 414C1667.3 420.1 1664.9 426.2 1663.9 432.2C1662.9 438.3 1662.1 443.3 1662.4 450.4C1662.6 457.5 1663.6 466.6 1665.4 474.7C1667.2 482.8 1670.2 490.3 1673 498.9C1675.8 507.5 1679 517.1 1682.1 526.2C1685.1 535.3 1688.1 545.2 1691.2 553.5C1694.2 561.8 1694.7 569.2 1700.3 576C1705.8 582.7 1715.9 588.1 1724.5 594.2C1733.1 600.2 1743.2 607 1751.8 612.4C1760.4 617.7 1767.5 622.5 1776.1 626C1784.7 629.5 1794.8 632.3 1803.4 633.6C1812 634.8 1819.6 634.3 1827.6 633.6C1835.7 632.8 1843.8 631.3 1851.9 629C1860 626.8 1868.6 623.5 1876.2 619.9C1883.7 616.4 1890.5 612.4 1897.4 607.8C1904.3 603.3 1908.8 599.5 1917.4 592.6C1926 585.8 1941.2 638.1 1948.9 566.9C1956.7 495.6 2033.9 232.3 1964.1 165.3C1894.4 98.4 1602.7 158.3 1530.4 165.3C1458.2 172.4 1529.9 197.7 1530.4 207.8Z" fill="#fff8a8" stroke="#1c48ff" stroke-width="3.2"/>
<path d="M1566.8 207.8C1567.3 217.9 1566.8 219.4 1569.9 226C1572.9 232.6 1579.5 240.2 1585 247.2C1590.6 254.3 1596.1 261.9 1603.2 268.5C1610.3 275 1619.4 281.1 1627.5 286.7C1635.6 292.2 1644.7 297.3 1651.7 301.8C1658.8 306.4 1664.4 308.9 1669.9 313.9C1675.5 319 1680.1 326.1 1685.1 332.1C1690.2 338.2 1696.5 344.8 1700.3 350.3C1704.1 355.9 1705.3 360.4 1707.9 365.5C1710.4 370.6 1712.1 374.6 1715.4 380.7C1718.7 386.7 1723.5 395.3 1727.6 401.9C1731.6 408.5 1735.1 413 1739.7 420.1C1744.2 427.2 1752.3 436.8 1754.9 444.3C1757.4 451.9 1755.4 458.5 1754.9 465.6C1754.4 472.7 1751.3 479.7 1751.8 486.8C1752.3 493.9 1755.4 501.5 1757.9 508C1760.4 514.6 1762.9 520.2 1767 526.2C1771 532.3 1777.1 538.9 1782.1 544.4C1787.2 550 1792.3 555.8 1797.3 559.6C1802.4 563.4 1807.4 566.7 1812.5 567.2C1817.5 567.7 1821.6 565.1 1827.6 562.6C1833.7 560.1 1841.8 554.8 1848.9 552C1855.9 549.2 1862.5 548 1870.1 545.9C1877.7 543.9 1886.5 542.4 1894.4 539.9C1902.2 537.3 1908.3 534.6 1917.4 530.8C1926.5 527 1941.2 578 1948.9 517.1C1956.7 456.2 2027.8 224 1964.1 165.3C1900.4 106.7 1633 158.3 1566.8 165.3C1500.6 172.4 1566.3 197.7 1566.8 207.8Z" fill="#ffe468" stroke="#1c48ff" stroke-width="3.2"/>
<path d="M1597.2 207.8C1597.9 217.9 1598.7 218.9 1601.7 226C1604.7 233.1 1610 242.7 1615.4 250.3C1620.7 257.8 1626.5 265.4 1633.6 271.5C1640.6 277.6 1649.7 282.1 1657.8 286.7C1665.9 291.2 1675 294.7 1682.1 298.8C1689.1 302.8 1695.2 306.4 1700.3 310.9C1705.3 315.5 1707.3 320 1712.4 326.1C1717.5 332.1 1724.5 340.2 1730.6 347.3C1736.7 354.4 1742.7 361.5 1748.8 368.5C1754.9 375.6 1760.9 382.7 1767 389.8C1773.1 396.8 1779.1 404.4 1785.2 411C1791.2 417.6 1797.3 423.6 1803.4 429.2C1809.4 434.7 1815 438.8 1821.6 444.3C1828.1 449.9 1836.7 457.5 1842.8 462.5C1848.9 467.6 1851.9 471.1 1858 474.7C1864 478.2 1872.1 481.9 1879.2 483.8C1886.3 485.7 1894.1 485.9 1900.4 486.2C1906.8 486.4 1909.3 485.7 1917.4 485.3C1925.5 484.9 1941.2 537.1 1948.9 483.8C1956.7 430.4 2022.7 218.4 1964.1 165.3C1905.5 112.3 1658.3 158.3 1597.2 165.3C1536 172.4 1596.4 197.7 1597.2 207.8Z" fill="#ffc028" stroke="#1c48ff" stroke-width="3.2"/>
<path d="M1627.5 207.8C1628.2 217.9 1629.2 219.4 1631.7 226C1634.3 232.6 1638.3 240.3 1642.6 247.2C1647 254.2 1651.2 261.5 1657.8 267.5C1664.4 273.6 1674.8 279.1 1682.1 283.6C1689.4 288.1 1694.9 289.5 1701.5 294.5C1708.1 299.6 1714.9 307.3 1721.5 313.9C1728.1 320.6 1735.1 328.1 1740.9 334.3C1746.7 340.4 1751.2 345.4 1756.4 350.9C1761.6 356.5 1766.8 362.1 1772.1 367.3C1777.4 372.5 1783 377.3 1788.2 382.2C1793.4 387 1798.3 391.6 1803.4 396.4C1808.4 401.2 1813.3 406.4 1818.5 411C1823.7 415.5 1828.5 419.7 1834.6 423.7C1840.7 427.8 1848 432.2 1854.9 435.2C1861.9 438.3 1869.1 440.7 1876.2 442.2C1883.2 443.7 1890.5 444 1897.4 444.3C1904.3 444.7 1908.8 444.3 1917.4 444.3C1926 444.3 1941.2 490.8 1948.9 444.3C1956.7 397.8 2017.7 211.8 1964.1 165.3C1910.5 118.8 1683.6 158.3 1627.5 165.3C1571.4 172.4 1626.8 197.7 1627.5 207.8Z" fill="#ffa000" stroke="#1c48ff" stroke-width="3.2"/>
<path d="M1654.8 207.8C1655.4 217.9 1656.7 219.4 1658.7 226C1660.7 232.6 1663.6 240.3 1666.9 247.2C1670.2 254.2 1674.2 262.5 1678.7 267.5C1683.3 272.6 1689 274.4 1694.2 277.6C1699.4 280.7 1703.9 282.3 1710 286.3C1716 290.4 1723.7 296.6 1730.6 301.8C1737.5 307 1745.5 312.2 1751.5 317.6C1757.6 323 1761.8 328.7 1767 334.3C1772.2 339.8 1777.4 345.6 1782.8 350.9C1788.1 356.3 1793.6 361.3 1798.8 366.1C1804 371 1808.9 375.9 1814 380.1C1819 384.3 1824 387.8 1829.2 391.3C1834.3 394.7 1839.6 397.9 1844.9 400.7C1850.2 403.5 1855.8 405.9 1861 408C1866.2 410 1870.1 411.8 1876.2 413.1C1882.2 414.4 1890.5 415 1897.4 415.5C1904.3 416.1 1908.8 416.2 1917.4 416.4C1926 416.7 1941.2 458.9 1948.9 417.1C1956.7 375.2 2013.1 207.3 1964.1 165.3C1915.1 123.4 1706.3 158.3 1654.8 165.3C1603.2 172.4 1654.1 197.7 1654.8 207.8Z" fill="#ff3000" stroke="#1c48ff" stroke-width="3.2"/>
<path d="M1680.6 207.8C1681.3 217.9 1683.3 220.4 1684.8 226C1686.3 231.6 1687.6 236 1689.7 241.2C1691.7 246.4 1694.5 252.8 1697.2 257.2C1700 261.6 1702.8 264.4 1706.3 267.5C1709.8 270.7 1713.4 273 1718.2 276C1723 279.1 1729.6 282.6 1735.1 286C1740.7 289.5 1746.2 292.4 1751.5 296.7C1756.8 300.9 1761.8 306.3 1767 311.5C1772.2 316.7 1777.4 322.4 1782.8 327.9C1788.1 333.4 1793.6 339.1 1798.8 344.3C1804 349.5 1808.9 354.7 1814 359.1C1819 363.6 1824 367.5 1829.2 371C1834.3 374.4 1839.6 377.5 1844.9 380.1C1850.2 382.6 1855.8 384.4 1861 386.1C1866.2 387.8 1870.1 389.4 1876.2 390.4C1882.2 391.3 1890.5 391.5 1897.4 391.9C1904.3 392.2 1908.8 392.3 1917.4 392.5C1926 392.6 1941.2 430.6 1948.9 392.8C1956.7 354.9 2008.8 203.3 1964.1 165.3C1919.4 127.4 1727.8 158.3 1680.6 165.3C1633.3 172.4 1679.8 197.7 1680.6 207.8Z" fill="#ff1000" stroke="#1c48ff" stroke-width="3.2"/>
<path d="M1700.3 207.8C1700.8 217.9 1702.1 220.4 1703.6 226C1705.1 231.6 1706.9 236 1709.4 241.2C1711.8 246.4 1714.9 252.9 1718.2 257.2C1721.4 261.5 1725.3 264.2 1729.1 266.9C1732.9 269.7 1736.6 271.4 1740.9 273.9C1745.2 276.4 1750.3 279.3 1754.9 282.1C1759.4 284.9 1763.9 287.1 1768.2 290.6C1772.5 294.1 1776.5 298.8 1780.6 303.3C1784.8 307.8 1788.8 312.9 1793.1 317.6C1797.4 322.3 1801.9 327 1806.4 331.5C1810.9 336 1815.3 340.7 1820.1 344.6C1824.9 348.5 1830 351.8 1835.2 354.9C1840.4 358 1846.2 361.1 1851.3 363.4C1856.3 365.7 1860.7 367.2 1865.5 368.5C1870.4 369.9 1875.1 370.9 1880.4 371.6C1885.7 372.3 1891.2 372.6 1897.4 372.8C1903.6 373 1908.8 372.8 1917.4 372.8C1926 372.8 1941.2 407.3 1948.9 372.8C1956.7 338.2 2005.6 199.9 1964.1 165.3C1922.7 130.8 1744.2 158.3 1700.3 165.3C1656.3 172.4 1699.7 197.7 1700.3 207.8Z" fill="#e00000" stroke="#1c48ff" stroke-width="3.2"/>
<path d="M1727.6 207.8C1728.3 217.9 1730 220.7 1731.8 226C1733.6 231.3 1735.6 235.1 1738.2 239.6C1740.8 244.1 1744.5 248.7 1747.3 253C1750.1 257.3 1752.4 261.6 1754.9 265.4C1757.3 269.3 1759.1 272.5 1761.8 276C1764.6 279.6 1768 283.2 1771.5 286.7C1775 290.1 1779.2 293.1 1782.8 296.7C1786.3 300.2 1789.3 304 1792.8 307.9C1796.2 311.7 1799.8 316.2 1803.4 319.7C1806.9 323.2 1810.5 326.3 1814 329.1C1817.5 331.9 1820.5 334.1 1824.3 336.4C1828.1 338.7 1832.2 340.9 1836.7 342.8C1841.2 344.6 1846.5 346.3 1851.3 347.6C1856.1 348.9 1860.7 349.6 1865.5 350.3C1870.4 351 1875.1 351.6 1880.4 351.9C1885.7 352.1 1891.2 351.9 1897.4 351.9C1903.6 351.9 1908.8 351.9 1917.4 351.9C1926 351.9 1941.2 382.9 1948.9 351.9C1956.7 320.8 2001 196.4 1964.1 165.3C1927.2 134.3 1767 158.3 1727.6 165.3C1688.1 172.4 1726.9 197.7 1727.6 207.8Z" fill="#b80000" stroke="#1c48ff" stroke-width="3.2"/>
<path d="M1415.2 676C1425.3 629 1427.3 674.5 1433.4 673C1439.5 671.5 1446 670.5 1451.6 666.9C1457.2 663.4 1463.2 659.4 1466.8 651.8C1470.3 644.2 1469.8 631.1 1472.8 621.5C1475.9 611.8 1480.4 602.2 1485 594.2C1489.5 586.1 1494.6 578.2 1500.1 573.2C1505.7 568.2 1510.2 566.2 1518.3 564.1C1526.4 562.1 1538.5 561.6 1548.6 561.1C1558.7 560.6 1569.9 561.1 1579 561.1C1588.1 561.1 1597.2 559.8 1603.2 561.1C1609.3 562.4 1611.3 566 1615.4 568.7C1619.4 571.4 1622.4 574.2 1627.5 577.5C1632.5 580.7 1637.6 583.8 1645.7 588.1C1653.8 592.4 1665.9 597.7 1676 603.3C1686.1 608.8 1696.2 615.4 1706.3 621.5C1716.4 627.5 1726.6 633.6 1736.7 639.6C1746.8 645.7 1756.9 652.3 1767 657.8C1777.1 663.4 1787.2 668.5 1797.3 673C1807.4 677.6 1817.5 681.6 1827.6 685.1C1837.7 688.7 1848.9 691.2 1858 694.2C1867.1 697.3 1872.3 699.3 1882.2 703.3C1892.1 707.4 1906.3 713.4 1917.4 718.5C1928.5 723.5 1943.7 705.5 1948.9 733.7C1954.2 761.9 1954.2 862 1948.9 887.7C1943.7 913.4 1930 887.7 1917.4 887.7C1904.8 887.7 1885.6 887.6 1873.1 887.7C1860.7 887.8 1852.4 887.5 1842.8 888.3C1833.2 889.2 1823.1 889.8 1815.5 892.9C1807.9 895.9 1802.9 901 1797.3 906.5C1791.8 912 1787.2 917.8 1782.1 925.9C1777.1 934 1835.2 950.2 1767 955C1698.8 959.9 1431.4 1001.5 1372.7 955C1314.1 908.5 1405.1 723 1415.2 676Z" fill="#98f0f8" stroke="#1c48ff" stroke-width="3.2" stroke-dasharray="9.5 6"/>
<path d="M1415.2 700.3C1425.3 657.6 1426.8 699.8 1433.4 698.8C1440 697.8 1449.1 696.5 1454.6 694.2C1460.2 692 1463.2 690.7 1466.8 685.1C1470.3 679.6 1472.8 669.5 1475.9 660.9C1478.9 652.3 1481.4 641.7 1485 633.6C1488.5 625.5 1492.5 617.7 1497.1 612.4C1501.6 607 1505.7 604.2 1512.2 601.7C1518.8 599.3 1527.9 598 1536.5 597.8C1545.1 597.5 1554.7 598.8 1563.8 600.2C1572.9 601.6 1583 603.3 1591.1 606.3C1599.2 609.3 1605.8 613.9 1612.3 618.4C1618.9 623 1623.9 629 1630.5 633.6C1637.1 638.1 1644.2 642.2 1651.7 645.7C1659.3 649.2 1666.9 651.5 1676 654.8C1685.1 658.1 1697.2 661.6 1706.3 665.4C1715.4 669.2 1722.5 673.3 1730.6 677.6C1738.7 681.9 1747.3 687.2 1754.9 691.2C1762.4 695.2 1770 698.3 1776.1 701.8C1782.1 705.4 1786.7 707.6 1791.2 712.4C1795.8 717.2 1799.3 724.1 1803.4 730.6C1807.4 737.2 1811.5 744.8 1815.5 751.9C1819.6 758.9 1824.1 767 1827.6 773.1C1831.2 779.1 1835.7 784.5 1836.7 788.2C1837.7 792 1837.2 793.3 1833.7 795.8C1830.2 798.4 1822.6 799.6 1815.5 803.4C1808.4 807.2 1799.3 813.5 1791.2 818.6C1783.2 823.6 1775.1 829.2 1767 833.7C1758.9 838.3 1750.3 841.8 1742.7 845.9C1735.1 849.9 1728.6 854 1721.5 858C1714.4 862 1707.9 866.1 1700.3 870.1C1692.7 874.2 1684.1 878.7 1676 882.3C1667.9 885.8 1659.8 888.8 1651.7 891.4C1643.7 893.9 1634.6 895.4 1627.5 897.4C1620.4 899.4 1614.3 900.5 1609.3 903.5C1604.2 906.5 1600.2 911.9 1597.2 915.6C1594.1 919.4 1593.1 919.4 1591.1 925.9C1589.1 932.5 1621.4 950.2 1585 955C1548.6 959.9 1401.1 997.5 1372.7 955C1344.4 912.6 1405.1 743 1415.2 700.3Z" fill="#80dcfc" stroke="#1c48ff" stroke-width="3.2" stroke-dasharray="9.5 6"/>
<path d="M1415.2 732.1C1425.3 694.7 1427.3 731.4 1433.4 730.6C1439.5 729.9 1446 729.1 1451.6 727.6C1457.2 726.1 1462.7 725.6 1466.8 721.5C1470.8 717.5 1472.3 710.4 1475.9 703.3C1479.4 696.3 1484.4 687.2 1488 679.1C1491.5 671 1493.5 661.1 1497.1 654.8C1500.6 648.5 1503.1 644.4 1509.2 641.2C1515.3 637.9 1524.9 635.6 1533.5 635.1C1542.1 634.6 1552.2 635.9 1560.8 638.1C1569.4 640.4 1577.4 644.7 1585 648.7C1592.6 652.8 1600.2 657.3 1606.3 662.4C1612.3 667.4 1616.9 673.8 1621.4 679.1C1626 684.4 1628.5 689.9 1633.6 694.2C1638.6 698.5 1646.7 700.8 1651.7 704.8C1656.8 708.9 1660.6 713.2 1663.9 718.5C1667.2 723.8 1670.2 731.1 1671.5 736.7C1672.7 742.2 1672.7 747.3 1671.5 751.9C1670.2 756.4 1668.2 759.9 1663.9 764C1659.6 768 1652.8 772.6 1645.7 776.1C1638.6 779.7 1628 782.7 1621.4 785.2C1614.9 787.7 1611.3 787.2 1606.3 791.3C1601.2 795.3 1596.1 803.9 1591.1 809.5C1586 815 1581 820.1 1575.9 824.6C1570.9 829.2 1565.3 831.7 1560.8 836.8C1556.2 841.8 1552.7 848.4 1548.6 855C1544.6 861.5 1540.6 869.1 1536.5 876.2C1532.5 883.3 1528.4 890.8 1524.4 897.4C1520.3 904 1515.3 910.9 1512.2 915.6C1509.2 920.4 1508.7 919.4 1506.2 925.9C1503.7 932.5 1519.3 950.2 1497.1 955C1474.8 959.9 1386.4 992.2 1372.7 955C1359.1 917.9 1405.1 769.5 1415.2 732.1Z" fill="#48b4f8" stroke="#1c48ff" stroke-width="3.2" stroke-dasharray="9.5 6"/>
<path d="M1707.9 733.1C1711.4 733.1 1715.4 738.1 1716.9 741.2C1718.5 744.4 1718 748.8 1716.9 751.9C1715.9 754.9 1713.7 758.4 1710.9 759.4C1708.1 760.4 1703.8 759.3 1700.3 757.9C1696.7 756.6 1690.4 754 1689.7 751.2C1688.9 748.5 1692.7 744.3 1695.7 741.2C1698.8 738.2 1704.3 733.1 1707.9 733.1Z" fill="#48b4f8" stroke="#1c48ff" stroke-width="3.2" stroke-dasharray="9.5 6"/>
<path d="M1415.2 770C1425.3 760.2 1427.8 772.8 1433.4 774.6C1439 776.4 1443.5 779.1 1448.6 780.7C1453.6 782.2 1459.7 784.5 1463.7 783.7C1467.8 782.9 1469.8 780.9 1472.8 776.1C1475.9 771.3 1478.9 762.5 1481.9 754.9C1485 747.3 1488.2 738.7 1491 730.6C1493.8 722.5 1495.6 712.2 1498.6 706.4C1501.6 700.6 1504.4 698 1509.2 695.7C1514 693.5 1520.8 692.7 1527.4 692.7C1534 692.7 1542.3 694.5 1548.6 695.7C1555 697 1561.5 698 1565.3 700.3C1569.1 702.6 1571.1 704.8 1571.4 709.4C1571.6 713.9 1569.1 721.5 1566.8 727.6C1564.6 733.7 1560.8 739.7 1557.7 745.8C1554.7 751.9 1551.7 757.9 1548.6 764C1545.6 770 1543.1 776.1 1539.5 782.2C1536 788.2 1532 794.8 1527.4 800.4C1522.9 805.9 1516.8 810.5 1512.2 815.5C1507.7 820.6 1503.4 825.1 1500.1 830.7C1496.8 836.3 1494.6 842.8 1492.5 848.9C1490.5 855 1490.3 860.5 1488 867.1C1485.7 873.7 1482.9 883.3 1478.9 888.3C1474.8 893.4 1469.3 895.4 1463.7 897.4C1458.2 899.4 1450.6 899.9 1445.5 900.5C1440.5 901 1438.5 900.5 1433.4 900.5C1428.3 900.5 1425.3 911.6 1415.2 900.5C1405.1 889.3 1372.7 855.5 1372.7 833.7C1372.7 812 1405.1 779.9 1415.2 770Z" fill="#0890f0" stroke="#1c48ff" stroke-width="3.2" stroke-dasharray="9.5 6"/>
<path d="M1622.6 227.5L1621.1 246.3L1627.5 244.8L1632.3 253L1634.8 231.8L1639 229.6L1660.2 229.6L1661.8 238.1L1658.4 251.2L1662.7 249.7L1664.2 239.9L1671.5 236.6L1678.1 237.5L1687.8 243.3L1697.5 246.3L1703.3 248.1L1704.2 253L1712.4 252.1L1714.8 259.4L1717.3 267.5L1716.3 274.2L1723.6 270.9L1730.3 268.5L1736.7 269.4L1743.3 273.3L1749.7 274.2L1756.4 277.3L1764.6 278.2L1770.9 274.8L1777.6 274.5L1782.5 279.1L1790.6 285.4L1798.5 293.6L1806.7 301.8L1813.4 308.2L1818.2 313.3L1824.6 315.8L1832.8 315.2L1837.6 313.3L1842.5 317.3L1845.2 326.4L1847.7 336.1L1850.1 349.1L1851 361L1848.3 377.6L1839.8 392.8L1827.6 408L1818.5 420.1L1812.5 435.2L1803.4 450.4L1794.3 459.5L1792.8 477.7L1794.3 498.9L1792.8 517.1L1791.2 532.3L1786.7 544.4L1785.2 559.6L1779.1 571.7L1777.6 576L1773.1 585.1L1767 597.2L1765.5 607.8L1751.8 619.9L1750.3 626L1733.6 629L1718.5 628.1L1715.4 632.1L1709.4 633.6L1706.3 639.6L1694.2 644.2L1682.1 654.8L1669.9 666.9L1660.8 677.6L1660.2 697.3L1659.3 721.5L1648.7 733.7L1639.6 748.8L1633.6 764L1624.5 779.1L1609.3 792.8L1603.2 806.4L1591.1 818.6L1586.5 827.7L1575.9 835.2L1560.8 835.2L1545.6 832.2L1533.5 827.7L1525.9 821.6L1522.9 827.7L1527.4 833.7L1536.5 839.8L1541.1 844.3L1539.5 855L1542.6 861L1548.6 867.1L1545.6 876.2L1538 888.3L1533.5 894.4L1518.3 902L1494.1 907.1L1472.8 909.5L1469.8 905L1469.8 912.6L1474.3 918.6L1472.8 927.7" fill="none" stroke="#161616" stroke-width="1.75" stroke-linejoin="round"/>
</g>
<rect x="1432.9" y="225.9" width="484.9" height="700.8" fill="none" stroke="#000" stroke-width="6.4"/>
<path d="M1420.9 226H1433.4" stroke="#000" stroke-width="3" fill="none"/>
<text y="241" font-size="39" font-weight="normal" stroke="#000" stroke-width="1.0"><tspan x="1367.9" textLength="43" lengthAdjust="spacingAndGlyphs">EQ</tspan></text>
<path d="M1420.9 401H1433.4" stroke="#000" stroke-width="3" fill="none"/>
<text y="416" font-size="39" font-weight="normal" stroke="#000" stroke-width="1.0"><tspan x="1350.9" textLength="60" lengthAdjust="spacingAndGlyphs">10S</tspan></text>
<path d="M1420.9 576H1433.4" stroke="#000" stroke-width="3" fill="none"/>
<text y="591" font-size="39" font-weight="normal" stroke="#000" stroke-width="1.0"><tspan x="1350.9" textLength="60" lengthAdjust="spacingAndGlyphs">20S</tspan></text>
<path d="M1420.9 751H1433.4" stroke="#000" stroke-width="3" fill="none"/>
<text y="766" font-size="39" font-weight="normal" stroke="#000" stroke-width="1.0"><tspan x="1350.9" textLength="60" lengthAdjust="spacingAndGlyphs">30S</tspan></text>
<path d="M1420.9 926H1433.4" stroke="#000" stroke-width="3" fill="none"/>
<text y="941" font-size="39" font-weight="normal" stroke="#000" stroke-width="1.0"><tspan x="1350.9" textLength="60" lengthAdjust="spacingAndGlyphs">40S</tspan></text>
<path d="M1502.5 926V939" stroke="#000" stroke-width="3.2" fill="none"/>
<text y="972.3" font-size="39" font-weight="normal" stroke="#000" stroke-width="1.0"><tspan x="1470.5" textLength="64" lengthAdjust="spacingAndGlyphs">60W</tspan></text>
<path d="M1640.8 926V939" stroke="#000" stroke-width="3.2" fill="none"/>
<text y="972.3" font-size="39" font-weight="normal" stroke="#000" stroke-width="1.0"><tspan x="1608.8" textLength="64" lengthAdjust="spacingAndGlyphs">50W</tspan></text>
<path d="M1779.1 926V939" stroke="#000" stroke-width="3.2" fill="none"/>
<text y="972.3" font-size="39" font-weight="normal" stroke="#000" stroke-width="1.0"><tspan x="1747.1" textLength="64" lengthAdjust="spacingAndGlyphs">40W</tspan></text>
<path d="M1917.4 926V939" stroke="#000" stroke-width="3.2" fill="none"/>
<text y="972.3" font-size="39" font-weight="normal" stroke="#000" stroke-width="1.0"><tspan x="1885.4" textLength="64" lengthAdjust="spacingAndGlyphs">30W</tspan></text>
</g>
<g id="panel-d">
<clipPath id="c3"><rect x="98.5" y="1108.5" width="487" height="701.5"/></clipPath>
<rect x="98.5" y="1108.5" width="487" height="701.5" fill="#d8ffff"/>
<g clip-path="url(#c3)" stroke-linejoin="round">
<path d="M81.8 1260.6C91.9 1297.9 93.7 1268.3 100 1272.2C106.3 1276 112.1 1279 119.7 1284C127.3 1289 137.9 1296.4 145.5 1302.2C153.1 1308 159.1 1315.3 165.2 1318.9C171.3 1322.4 177.1 1321.9 181.9 1323.4C186.7 1324.9 191.2 1325.4 194 1328C196.8 1330.5 197.1 1335.1 198.6 1338.6C200 1342 201.6 1346.6 202.5 1348.6C203.4 1350.6 203.3 1350.7 203.7 1350.7C204.2 1350.7 204.1 1350.3 205.2 1348.6C206.4 1346.8 208.3 1343.8 210.7 1340.1C213.1 1336.4 215.5 1329.7 219.8 1326.4C224.1 1323.2 231.2 1323.2 236.5 1320.4C241.8 1317.6 246.6 1313.5 251.6 1309.8C256.7 1306 261.7 1301.2 266.8 1297.6C271.8 1294.1 277.4 1290.8 282 1288.5C286.5 1286.3 288 1285.7 294.1 1284C300.2 1282.3 310.4 1280 318.3 1278.2C326.3 1276.5 334.3 1275.3 342 1273.4C349.7 1271.4 357.2 1269.3 364.7 1266.7C372.3 1264.1 379.9 1260.4 387.5 1257.6C395.1 1254.8 402.7 1252.3 410.2 1250C417.8 1247.7 425.4 1246 433 1244C440.6 1241.9 449.4 1240.4 455.7 1237.9C462 1235.4 465.8 1232.3 470.9 1228.8C475.9 1225.2 481 1220.7 486.1 1216.7C491.1 1212.6 496.9 1208.1 501.2 1204.5C505.5 1201 508 1199 511.8 1195.4C515.6 1191.9 519.4 1187.8 524 1183.3C528.5 1178.7 534.1 1173.2 539.1 1168.1C544.2 1163.1 549.2 1157.3 554.3 1153C559.3 1148.7 564.5 1145.1 569.4 1142.4C574.4 1139.6 576.3 1139.3 584 1136.3C591.7 1133.3 607.8 1138.8 615.5 1124.2C623.3 1109.5 726.7 1061 630.7 1048.3C534.7 1035.7 130.8 1013 39.3 1048.3C-52.1 1083.7 71.7 1223.3 81.8 1260.6Z" fill="#fff8a8" stroke="#1c48ff" stroke-width="3.2"/>
<path d="M168.2 1489.3C169 1490.3 169.6 1478 170.4 1472.9C171.1 1467.9 170.9 1464.7 172.8 1459C174.7 1453.3 178.6 1445.1 181.9 1438.6C185.2 1432.2 190 1426 192.5 1420.4C195 1414.9 195.5 1410.6 197 1405.3C198.6 1400 198.8 1392.6 201.6 1388.6C204.4 1384.6 209.7 1383.1 213.7 1381C217.8 1378.9 222.1 1376.9 225.9 1375.9C229.6 1374.9 232.9 1374.4 236.5 1375C240 1375.6 243.3 1377 247.1 1379.5C250.9 1382 255.4 1386.3 259.2 1390.1C263 1393.9 266.5 1398.2 269.8 1402.3C273.1 1406.3 275.6 1411.1 278.9 1414.4C282.2 1417.7 285.2 1418.9 289.5 1422C293.8 1425 299.6 1429 304.7 1432.6C309.8 1436.1 315.1 1439.7 319.9 1443.2C324.7 1446.7 329.7 1450.7 333.5 1453.8C337.3 1456.9 338.1 1458.6 342.6 1462C347.2 1465.4 354.2 1468.1 360.8 1474.1C367.4 1480.2 376 1490.8 382 1498.4C388.1 1506 392.1 1513 397.2 1519.6C402.2 1526.2 407.8 1531.7 412.4 1537.8C416.9 1543.9 421 1549.4 424.5 1556C428 1562.6 430 1571.2 433.6 1577.2C437.1 1583.3 440.7 1588.4 445.7 1592.4C450.8 1596.4 456.8 1598.5 463.9 1601.5C471 1604.5 480.1 1607.1 488.2 1610.6C496.3 1614.1 504.9 1618.7 512.4 1622.7C520 1626.8 527.1 1630.8 533.7 1634.9C540.2 1638.9 546.3 1642.9 551.9 1647C557.4 1651 562.2 1654.8 567 1659.1C571.8 1663.4 579.2 1668.7 580.7 1672.8C582.2 1676.8 579.4 1679.6 576.1 1683.4C572.8 1687.2 567 1691.5 561 1695.5C554.9 1699.5 546.8 1704.1 539.7 1707.6C532.7 1711.2 526.1 1714.5 518.5 1716.7C510.9 1719 502.3 1720.7 494.2 1721.3C486.2 1721.9 478.1 1721.1 470 1720.4C461.9 1719.6 453.8 1718.4 445.7 1716.7C437.6 1715.1 429.5 1713.2 421.5 1710.7C413.4 1708.1 404.3 1704.6 397.2 1701.6C390.1 1698.5 384.6 1695.8 379 1692.5C373.4 1689.2 367.1 1685.4 363.8 1681.9C360.6 1678.3 359.8 1675.5 359.3 1671.2C358.8 1666.9 359.8 1661.1 360.8 1656.1C361.8 1651 365.1 1645.5 365.4 1640.9C365.6 1636.4 365.1 1632.8 362.3 1628.8C359.5 1624.7 354.5 1621.5 348.7 1616.7C342.9 1611.9 334.5 1605 327.4 1600C320.4 1594.9 313.8 1590.4 306.2 1586.3C298.6 1582.3 290 1579.5 282 1575.7C273.9 1571.9 265.3 1567.9 257.7 1563.6C250.1 1559.3 242.5 1554.7 236.5 1549.9C230.4 1545.1 226.4 1539.8 221.3 1534.8C216.2 1529.7 211.7 1524.2 206.1 1519.6C200.6 1515.1 193.5 1510 187.9 1507.5C182.4 1505 176.8 1504.2 172.8 1504.5C168.7 1504.7 166.2 1506 163.7 1509C161.2 1512 160.1 1517.3 157.6 1522.6C155.1 1528 153.1 1535.8 148.5 1540.8C144 1545.9 136.4 1549.2 130.3 1553C124.3 1556.8 117.2 1560.8 112.1 1563.6C107.1 1566.4 105.1 1567.4 100 1569.7C94.9 1571.9 91.9 1588.3 81.8 1577.2C71.7 1566.2 39.3 1536.3 39.3 1503.2C39.3 1470.2 71.2 1397.2 81.8 1378.9C92.4 1360.6 97.5 1388.3 103 1393.2C108.6 1398.1 111.4 1403.3 115.2 1408.3C119 1413.4 122.5 1418.9 125.8 1423.5C129.1 1428 130.8 1431.8 134.9 1435.6C138.9 1439.4 145.7 1443.2 150 1446.2C154.3 1449.3 158.1 1450.4 160.7 1453.8C163.2 1457.2 164.2 1460.9 165.5 1466.8C166.8 1472.8 167.4 1488.3 168.2 1489.3Z" fill="#fff8a8" stroke="#1c48ff" stroke-width="3.2"/>
<path d="M81.8 1397.1C92.4 1382 97.5 1407.5 103 1412.9C108.6 1418.3 111.1 1423.7 115.2 1429.5C119.2 1435.4 124.3 1442.8 127.3 1447.7C130.3 1452.6 131.6 1455.1 133.4 1459C135.1 1462.9 135.9 1466 137.9 1471.1C139.9 1476.1 144 1483.7 145.5 1489.3C147 1494.8 148 1499.4 147 1504.5C146 1509.5 143.2 1514.6 139.4 1519.6C135.6 1524.7 129.3 1530.2 124.3 1534.8C119.2 1539.3 113.1 1544.1 109.1 1546.9C105.1 1549.7 104.5 1549.4 100 1551.5C95.5 1553.5 91.9 1567.1 81.8 1559C71.7 1551 39.3 1530.2 39.3 1503.2C39.3 1476.2 71.2 1412.2 81.8 1397.1Z" fill="#ffe468" stroke="#1c48ff" stroke-width="3.2"/>
<path d="M81.8 1412.3C92.4 1400 98 1424.1 103 1429.5C108.1 1435 109.4 1439.8 112.1 1444.7C114.9 1449.6 117.7 1454.6 119.7 1459C121.7 1463.4 122.7 1466.5 124.3 1471.1C125.8 1475.6 128.1 1481.2 128.8 1486.3C129.6 1491.3 130.1 1496.9 128.8 1501.4C127.5 1506 124.5 1509.5 121.2 1513.5C117.9 1517.6 112.6 1522.6 109.1 1525.7C105.6 1528.7 104.5 1529.2 100 1531.7C95.5 1534.3 91.9 1545.6 81.8 1540.8C71.7 1536.1 39.3 1524.7 39.3 1503.2C39.3 1481.8 71.2 1424.5 81.8 1412.3Z" fill="#ffc028" stroke="#1c48ff" stroke-width="3.2"/>
<path d="M81.8 1433.5C92.4 1424.2 98.5 1443.7 103 1447.7C107.6 1451.8 107.3 1454.4 109.1 1457.7C110.9 1461.1 112.6 1464.3 113.6 1468.1C114.7 1471.8 115.2 1475.6 115.2 1480.2C115.2 1484.7 114.9 1490.8 113.6 1495.4C112.4 1499.9 109.9 1504.2 107.6 1507.5C105.3 1510.8 104.3 1512.5 100 1515.1C95.7 1517.6 91.9 1524.6 81.8 1522.6C71.7 1520.7 39.3 1518.1 39.3 1503.2C39.3 1488.4 71.2 1442.7 81.8 1433.5Z" fill="#ffa000" stroke="#1c48ff" stroke-width="3.2"/>
<path d="M231.9 1459C232.4 1455.3 233.7 1453.9 236.5 1452.3C239.2 1450.7 244 1449.3 248.6 1449.3C253.1 1449.3 258.7 1450.7 263.8 1452.3C268.8 1453.9 275.9 1456.8 278.9 1459C282 1461.1 279.4 1462 282 1465C284.5 1468.1 290 1473.1 294.1 1477.2C298.1 1481.2 302.2 1486 306.2 1489.3C310.3 1492.6 315.1 1494.6 318.3 1496.9C321.6 1499.1 326.4 1500.9 325.9 1502.9C325.4 1505 320.1 1507.5 315.3 1509C310.5 1510.5 303.7 1511.8 297.1 1512C290.5 1512.3 282.5 1512 275.9 1510.5C269.3 1509 263.3 1506.5 257.7 1502.9C252.1 1499.4 246.6 1494.1 242.5 1489.3C238.5 1484.5 235.2 1479.2 233.4 1474.1C231.7 1469.1 231.4 1462.6 231.9 1459Z" fill="#ffe468" stroke="#1c48ff" stroke-width="3.2"/>
<path d="M81.8 1236.4C91.9 1269.5 93.2 1242.9 100 1247C106.8 1251 115.2 1256.1 122.7 1260.6C130.3 1265.2 138.4 1270.4 145.5 1274.3C152.6 1278.2 160.1 1281.4 165.2 1284C170.3 1286.6 171 1288.7 175.8 1290C180.6 1291.4 188.5 1292.4 194 1292.2C199.6 1291.9 204.6 1290.1 209.2 1288.5C213.7 1286.9 214.2 1284.8 221.3 1282.5C228.4 1280.1 239 1276.9 251.6 1274.3C264.3 1271.6 282.1 1269.1 297.1 1266.7C312.2 1264.3 330.7 1262 342 1260C353.3 1258 357.2 1256.5 364.7 1254.6C372.3 1252.6 379.9 1250.5 387.5 1248.5C395.1 1246.5 403.9 1245.5 410.2 1242.4C416.6 1239.4 420.3 1234.9 425.4 1230.3C430.5 1225.8 435.5 1219.9 440.6 1215.1C445.6 1210.3 451.2 1206 455.7 1201.5C460.3 1196.9 464.8 1192.6 467.9 1187.8C470.9 1183 471.6 1177.2 473.9 1172.7C476.2 1168.1 478.2 1164.1 481.5 1160.6C484.8 1157 489.1 1153.7 493.6 1151.5C498.2 1149.2 502.5 1148.7 508.8 1146.9C515.1 1145.1 524 1143.4 531.5 1140.8C539.1 1138.3 548 1134.5 554.3 1131.7C560.6 1129 564.5 1126.7 569.4 1124.2C574.4 1121.6 576.3 1120.1 584 1116.6C591.7 1113 607.8 1114.3 615.5 1102.9C623.3 1091.6 726.7 1057.4 630.7 1048.3C534.7 1039.3 130.8 1017 39.3 1048.3C-52.1 1079.7 71.7 1203.3 81.8 1236.4Z" fill="#ffe468" stroke="#1c48ff" stroke-width="3.2"/>
<path d="M81.8 1215.1C91.9 1244.7 93.2 1221.7 100 1225.8C106.8 1229.8 115.2 1234.9 122.7 1239.4C130.3 1244 137.9 1248.8 145.5 1253C153.1 1257.3 160.7 1262.5 168.2 1265.2C175.8 1267.9 183.4 1268.6 191 1269.1C198.6 1269.6 206.1 1269.1 213.7 1268.2C221.3 1267.3 227.6 1265.4 236.5 1263.7C245.3 1261.9 256.7 1259.6 266.8 1257.6C276.9 1255.6 284.6 1253.6 297.1 1251.5C309.7 1249.5 331.2 1246.7 342 1245.5C352.8 1244.2 355.4 1245.2 361.7 1244C368 1242.7 373.6 1241.2 379.9 1237.9C386.2 1234.6 393.3 1229.3 399.6 1224.2C405.9 1219.2 412.8 1212.6 417.8 1207.6C422.9 1202.5 427.2 1198.7 429.9 1193.9C432.7 1189.1 433.5 1183.8 434.5 1178.7C435.5 1173.7 435 1168.1 436 1163.6C437 1159 438 1155 440.6 1151.5C443.1 1147.9 446.1 1145.1 451.2 1142.4C456.2 1139.6 463.8 1136.8 470.9 1134.8C478 1132.8 486.1 1131.7 493.6 1130.2C501.2 1128.7 508.8 1127.7 516.4 1125.7C524 1123.7 532.3 1120.4 539.1 1118.1C545.9 1115.8 551.7 1115.1 557.3 1112C563 1109 598.8 1110.5 573.1 1099.9C547.4 1089.3 492.2 1056.9 403.3 1048.3C314.3 1039.8 92.9 1020.5 39.3 1048.3C-14.2 1076.1 71.7 1185.6 81.8 1215.1Z" fill="#ffc028" stroke="#1c48ff" stroke-width="3.2"/>
<path d="M81.8 1196.9C91.9 1223.2 93.2 1202.5 100 1206C106.8 1209.6 115.2 1213.9 122.7 1218.2C130.3 1222.5 137.9 1227.5 145.5 1231.8C153.1 1236.1 160.7 1241.2 168.2 1244C175.8 1246.7 183.4 1247.7 191 1248.5C198.6 1249.3 206.1 1249 213.7 1248.5C221.3 1248 227.6 1247 236.5 1245.5C245.3 1244 256.7 1241.4 266.8 1239.4C276.9 1237.4 284.6 1235.4 297.1 1233.3C309.7 1231.3 330.7 1229.8 342 1227.3C353.3 1224.7 357.7 1221.2 364.7 1218.2C371.8 1215.1 378.9 1212.6 384.5 1209.1C390 1205.5 395.1 1201.5 398.1 1196.9C401.1 1192.4 401.6 1186.8 402.7 1181.8C403.7 1176.7 403.4 1171.7 404.2 1166.6C404.9 1161.6 405.4 1156 407.2 1151.5C409 1146.9 411.5 1143.6 414.8 1139.3C418.1 1135 422.6 1129.5 426.9 1125.7C431.2 1121.9 436 1118.9 440.6 1116.6C445.1 1114.3 448.8 1114.8 454.2 1112C459.6 1109.3 491.6 1110.5 473 1099.9C454.4 1089.3 414.9 1056.9 342.6 1048.3C270.3 1039.8 82.8 1023.6 39.3 1048.3C-4.1 1073.1 71.7 1170.7 81.8 1196.9Z" fill="#ffa000" stroke="#1c48ff" stroke-width="3.2"/>
<path d="M81.8 1172.7C91.9 1195.2 93.2 1179.3 100 1183.3C106.8 1187.3 115.2 1192.1 122.7 1196.9C130.3 1201.7 137.9 1207.3 145.5 1212.1C153.1 1216.9 160.7 1222.5 168.2 1225.8C175.8 1229 184.7 1230.6 191 1231.8C197.3 1233.1 199.8 1233.3 206.1 1233.3C212.5 1233.3 221.3 1232.6 228.9 1231.8C236.5 1231.1 242.8 1230.1 251.6 1228.8C260.5 1227.5 271.8 1226.3 282 1224.2C292.1 1222.2 302.3 1220.1 312.3 1216.7C322.3 1213.2 336 1206.1 342 1203.6C348 1201.1 345.5 1202.9 348.1 1201.5C350.6 1200.1 354.6 1198.2 357.2 1195.4C359.7 1192.6 361.5 1189.1 363.2 1184.8C365 1180.5 366.5 1174.7 367.8 1169.7C369 1164.6 369.8 1159.5 370.8 1154.5C371.8 1149.4 372.6 1144.4 373.8 1139.3C375.1 1134.3 376.6 1129.2 378.4 1124.2C380.2 1119.1 382.6 1114.1 384.5 1109C386.3 1103.9 406.7 1103.9 389.6 1093.8C372.5 1083.7 340.3 1055.9 282 1048.3C223.6 1040.8 72.7 1027.6 39.3 1048.3C6 1069.1 71.7 1150.2 81.8 1172.7Z" fill="#ff3000" stroke="#1c48ff" stroke-width="3.2"/>
<path d="M81.8 1142.4C91.9 1160 94.4 1150.7 100 1154.5C105.6 1158.3 110.1 1161.1 115.2 1165.1C120.2 1169.1 124.8 1173.7 130.3 1178.7C135.9 1183.8 142.2 1190.6 148.5 1195.4C154.8 1200.2 161.2 1204.3 168.2 1207.6C175.3 1210.8 183.4 1213.5 191 1215.1C198.6 1216.8 206.1 1217.6 213.7 1217.6C221.3 1217.6 228.9 1216.3 236.5 1215.1C244 1214 251.6 1212.1 259.2 1210.6C266.8 1209.1 274.4 1207.6 282 1206C289.5 1204.5 298.4 1203.3 304.7 1201.5C311 1199.7 315.8 1198.7 319.9 1195.4C323.9 1192.1 326.2 1187.3 329 1181.8C331.7 1176.2 334.7 1169.1 336.5 1162.1C338.4 1155 339.7 1148.2 340.2 1139.3C340.7 1130.5 339.7 1116.6 339.6 1109C339.5 1101.4 354.2 1103.9 339.6 1093.8C324.9 1083.7 301.7 1055.9 251.6 1048.3C201.6 1040.8 67.7 1032.7 39.3 1048.3C11 1064 71.7 1124.7 81.8 1142.4Z" fill="#ff1000" stroke="#1c48ff" stroke-width="3.2"/>
<path d="M126.7 1093.8C110.9 1103.9 126.7 1103.9 126.7 1109C126.7 1114.1 126.6 1118.6 126.7 1124.2C126.8 1129.7 125.9 1136.8 127.3 1142.4C128.7 1147.9 131.3 1152 134.9 1157.5C138.4 1163.1 143.7 1170.4 148.5 1175.7C153.3 1181 157.9 1185.6 163.7 1189.4C169.5 1193.2 176.3 1196.3 183.4 1198.5C190.5 1200.6 198.6 1202.2 206.1 1202.4C213.7 1202.7 221.3 1201.1 228.9 1200C236.5 1198.8 244 1197.7 251.6 1195.4C259.2 1193.2 267.3 1190.1 274.4 1186.3C281.5 1182.5 288.5 1177.5 294.1 1172.7C299.6 1167.9 305 1161.8 307.7 1157.5C310.5 1153.2 311 1151.2 310.8 1146.9C310.5 1142.6 308 1136.8 306.2 1131.7C304.4 1126.7 301.8 1122.9 300.2 1116.6C298.5 1110.3 309.7 1105.2 296.5 1093.8C283.4 1082.5 249.6 1048.3 221.3 1048.3C193 1048.3 142.5 1083.7 126.7 1093.8Z" fill="#e00000" stroke="#1c48ff" stroke-width="3.2"/>
<path d="M167.3 1093.8C160.5 1103.9 166.6 1103.9 165.2 1109C163.8 1114.1 160.5 1119.1 159.1 1124.2C157.8 1129.2 157.3 1134.5 157 1139.3C156.8 1144.1 155.7 1148.9 157.6 1153C159.5 1157 163.9 1160.3 168.2 1163.6C172.5 1166.9 177.6 1170.1 183.4 1172.7C189.2 1175.3 196.8 1178.6 203.1 1179.4C209.4 1180.1 214.5 1178.3 221.3 1177.2C228.1 1176.1 236.5 1174.5 244 1172.7C251.6 1170.9 260.7 1169.1 266.8 1166.6C272.9 1164.1 277.3 1160.3 280.4 1157.5C283.6 1154.7 285.3 1153.5 285.6 1149.9C285.8 1146.4 283.8 1140.6 282 1136.3C280.1 1132 277.9 1128.5 274.4 1124.2C270.8 1119.9 264.5 1115.6 260.7 1110.5C256.9 1105.5 260.7 1104.2 251.6 1093.8C242.5 1083.5 220.2 1048.3 206.1 1048.3C192.1 1048.3 174.1 1083.7 167.3 1093.8Z" fill="#b80000" stroke="#1c48ff" stroke-width="3.2"/>
<path d="M361.7 1284C369.3 1281.4 379.4 1277.2 387.5 1274.3C395.6 1271.4 402.7 1269 410.2 1266.7C417.8 1264.4 424.1 1262.7 433 1260.6C441.8 1258.6 453.2 1256.3 463.3 1254.6C473.4 1252.8 484.8 1251.5 493.6 1250C502.5 1248.5 510.6 1247.2 516.4 1245.5C522.2 1243.7 524.7 1242.9 528.5 1239.4C532.3 1235.9 536.1 1229.5 539.1 1224.2C542.2 1218.9 544.2 1213.1 546.7 1207.6C549.2 1202 551.3 1195.9 554.3 1190.9C557.3 1185.8 561.4 1181 564.9 1177.2C568.4 1173.4 572.3 1170.7 575.5 1168.1C578.7 1165.6 577.3 1164.3 584 1162.1C590.7 1159.8 610.3 1080.7 615.5 1154.5C620.8 1228.2 620.8 1531.5 615.5 1604.5C610.3 1677.5 594.1 1595.9 584 1592.4C573.9 1588.9 563.8 1586.3 554.9 1583.3C546 1580.3 538.7 1577.2 530.6 1574.2C522.5 1571.2 514.5 1568.6 506.4 1565.1C498.3 1561.6 490.2 1557 482.1 1553C474 1548.9 465.4 1544.9 457.8 1540.8C450.3 1536.8 443.2 1533.8 436.6 1528.7C430 1523.7 424.5 1516.6 418.4 1510.5C412.4 1504.5 406.3 1498.4 400.2 1492.3C394.2 1486.3 388.1 1479.7 382 1474.1C376 1468.6 369 1463.6 363.8 1459C358.7 1454.3 354.7 1450.4 351.1 1446.2C347.5 1442.1 345.7 1437.6 342 1434.1C338.3 1430.6 332.7 1428.3 329 1425C325.3 1421.7 322.4 1418.4 319.9 1414.4C317.3 1410.3 316.1 1405.3 313.8 1400.7C311.5 1396.2 309 1391.6 306.2 1387.1C303.4 1382.5 299.9 1378.2 297.1 1373.4C294.3 1368.6 291.6 1363.1 289.5 1358.3C287.5 1353.5 286 1348.9 285 1344.6C284 1340.3 282.7 1336.3 283.5 1332.5C284.2 1328.7 286 1325.4 289.5 1321.9C293.1 1318.4 298.9 1315.1 304.7 1311.3C310.5 1307.5 318.2 1302.7 324.4 1299.1C330.6 1295.6 335.8 1292.6 342 1290C348.2 1287.5 354.1 1286.6 361.7 1284Z" fill="#98f0f8" stroke="#1c48ff" stroke-width="3.2" stroke-dasharray="9.5 6"/>
<path d="M402.7 1284C410.2 1281.1 417.8 1278.8 425.4 1277.3C433 1275.8 439.3 1275.8 448.1 1275.2C457 1274.6 468.4 1273.9 478.5 1273.7C488.6 1273.4 499.9 1273.9 508.8 1273.7C517.6 1273.4 525.2 1273.3 531.5 1272.2C537.9 1271 542.2 1269.6 546.7 1266.7C551.3 1263.8 555.3 1259.1 558.8 1254.6C562.4 1250 565.4 1244.2 567.9 1239.4C570.5 1234.6 572.2 1229.8 574 1225.8C575.8 1221.7 576.9 1218.2 578.5 1215.1C580.2 1212.1 577.8 1210.6 584 1207.6C590.2 1204.5 610.3 1135.8 615.5 1196.9C620.8 1258.1 620.8 1512.6 615.5 1574.2C610.3 1635.8 596.6 1569.7 584 1566.6C571.4 1563.6 552.2 1559.8 539.7 1556C527.3 1552.2 519.5 1547.9 509.4 1543.9C499.3 1539.8 489.2 1536.3 479.1 1531.7C469 1527.2 457.8 1522.6 448.7 1516.6C439.7 1510.5 432.1 1502.4 424.5 1495.4C416.9 1488.3 409.8 1480.2 403.3 1474.1C396.7 1468.1 390.2 1463.9 385.1 1459C379.9 1454.1 376.2 1449.1 372.3 1444.7C368.4 1440.3 365.3 1437.4 361.7 1432.6C358.2 1427.8 354.4 1421.2 351.1 1415.9C347.8 1410.6 344.4 1405 342 1400.7C339.6 1396.4 338.7 1394.4 336.5 1390.1C334.4 1385.8 331.2 1380 329 1375C326.7 1369.9 324.7 1364.9 322.9 1359.8C321.1 1354.7 319.1 1349.4 318.3 1344.6C317.6 1339.8 316.8 1335.3 318.3 1331C319.9 1326.7 323.5 1322.1 327.4 1318.9C331.4 1315.6 337 1313.5 342 1311.3C347 1309 350.8 1308 357.2 1305.2C363.5 1302.4 372.3 1298.1 379.9 1294.6C387.5 1291.1 395.1 1286.9 402.7 1284Z" fill="#80dcfc" stroke="#1c48ff" stroke-width="3.2" stroke-dasharray="9.5 6"/>
<path d="M345.6 1328C347.7 1323.7 351.5 1321.9 357.2 1318.9C362.9 1315.8 372.3 1312.4 379.9 1309.8C387.5 1307.1 395.1 1304.9 402.7 1303.1C410.2 1301.3 417.8 1299.8 425.4 1299.1C433 1298.5 440.6 1298.4 448.1 1299.1C455.7 1299.9 464.8 1302 470.9 1303.7C477 1305.4 480.7 1307.1 484.5 1309.2C488.3 1311.2 490.6 1312.9 493.6 1315.8C496.7 1318.7 499.9 1322.9 502.7 1326.4C505.5 1330 507.8 1333.3 510.3 1337.1C512.8 1340.8 515.1 1344.9 517.9 1349.2C520.7 1353.5 523.7 1358.5 527 1362.8C530.3 1367.1 533.1 1371.4 537.6 1375C542.2 1378.5 549 1381.5 554.3 1384.1C559.6 1386.6 564.5 1388.4 569.4 1390.1C574.4 1391.9 576.3 1393 584 1394.7C591.7 1396.3 610.3 1375.3 615.5 1400.1C620.8 1425 620.8 1520.7 615.5 1543.9C610.3 1567.1 596.6 1541.3 584 1539.3C571.4 1537.3 552.2 1534.5 539.7 1531.7C527.3 1529 519.5 1525.7 509.4 1522.6C499.3 1519.6 488.7 1517.6 479.1 1513.5C469.5 1509.5 460.4 1504.5 451.8 1498.4C443.2 1492.3 435.1 1483.7 427.5 1477.2C419.9 1470.6 412 1463.9 406.3 1459C400.6 1454.1 397.7 1451.9 393.6 1447.7C389.4 1443.6 385 1438.6 381.4 1434.1C377.9 1429.5 375.4 1425.2 372.3 1420.4C369.3 1415.6 366 1410.8 363.2 1405.3C360.4 1399.7 357.9 1393.4 355.6 1387.1C353.4 1380.8 351.4 1374.5 349.6 1367.4C347.8 1360.3 345.7 1351.2 345 1344.6C344.4 1338.1 343.6 1332.2 345.6 1328Z" fill="#48b4f8" stroke="#1c48ff" stroke-width="3.2" stroke-dasharray="9.5 6"/>
<path d="M372.3 1329.5C375.3 1325.8 381.2 1324.2 387.5 1322.8C393.8 1321.4 402.7 1321.3 410.2 1321.3C417.8 1321.3 426.7 1321.9 433 1322.8C439.3 1323.7 444.1 1324.6 448.1 1326.4C452.2 1328.3 454.2 1331.2 457.2 1334C460.3 1336.8 463.3 1339.8 466.3 1343.1C469.4 1346.4 472.4 1349.9 475.4 1353.7C478.5 1357.5 481.2 1361.8 484.5 1365.9C487.8 1369.9 491.1 1373.9 495.1 1378C499.2 1382 504 1386.3 508.8 1390.1C513.6 1393.9 518.9 1397.7 524 1400.7C529 1403.8 534.1 1405.5 539.1 1408.3C544.2 1411.1 549.2 1413.9 554.3 1417.4C559.3 1421 564.5 1426 569.4 1429.5C574.4 1433.1 576.3 1435 584 1438.6C591.7 1442.3 610.3 1443.2 615.5 1451.7C620.8 1460.1 620.8 1481.5 615.5 1489.3C610.3 1497.1 592.1 1495.9 584 1498.4C575.9 1500.9 573.4 1503.2 567 1504.5C560.7 1505.7 554.4 1506.5 545.8 1506C537.2 1505.5 525.6 1504.2 515.5 1501.4C505.4 1498.6 494.7 1493.8 485.1 1489.3C475.5 1484.7 466.4 1479.2 457.8 1474.1C449.3 1469.1 439.8 1462.9 433.6 1459C427.4 1455.1 424.7 1453.9 420.8 1450.8C417 1447.6 413.8 1443.7 410.2 1440.2C406.7 1436.6 402.9 1433.3 399.6 1429.5C396.3 1425.8 393.3 1422 390.5 1417.4C387.7 1412.9 385.2 1408.1 382.9 1402.3C380.7 1396.4 378.6 1389.1 376.9 1382.5C375.1 1376 373.5 1369.1 372.3 1362.8C371.2 1356.5 369.9 1350.2 369.9 1344.6C369.9 1339.1 369.4 1333.1 372.3 1329.5Z" fill="#0890f0" stroke="#1c48ff" stroke-width="3.2" stroke-dasharray="9.5 6"/>
<path d="M408.7 1366.8C411.1 1365.3 416.3 1367.3 420.8 1368.9C425.4 1370.5 431 1373.4 436 1376.5C441.1 1379.5 446.6 1383.6 451.2 1387.1C455.7 1390.6 459.5 1394.7 463.3 1397.7C467.1 1400.7 470.9 1402 473.9 1405.3C477 1408.6 480 1413.4 481.5 1417.4C483 1421.5 483.5 1426.3 483 1429.5C482.5 1432.8 481 1435.6 478.5 1437.1C475.9 1438.6 471.9 1438.9 467.9 1438.6C463.8 1438.4 459 1437.1 454.2 1435.6C449.4 1434.1 443.8 1432.1 439 1429.5C434.2 1427 429.4 1424 425.4 1420.4C421.4 1416.9 417.5 1412.9 414.8 1408.3C412.1 1403.8 410.7 1398.2 409.3 1393.2C407.9 1388.1 406.4 1382.4 406.3 1378C406.2 1373.6 406.3 1368.3 408.7 1366.8Z" fill="#0870e0" stroke="#1c48ff" stroke-width="3.2" stroke-dasharray="9.5 6"/>
<path d="M500.3 1459C500.8 1458 502.8 1456 504.9 1455.3C506.9 1454.6 510.2 1454.3 512.4 1454.7C514.7 1455.1 517.7 1456.6 518.5 1457.7C519.3 1458.9 518.5 1460.6 517 1461.4C515.5 1462.1 511.9 1462.3 509.4 1462.3C506.9 1462.3 503.3 1461.9 501.8 1461.4C500.3 1460.8 499.8 1460 500.3 1459Z" fill="#0870e0" stroke="#1c48ff" stroke-width="3.2" stroke-dasharray="9.5 6"/>
<path d="M81.8 1284.9C85.3 1273.6 97.5 1290.2 103 1293.1C108.6 1296 110.6 1298.6 115.2 1302.2C119.7 1305.7 125.3 1310.3 130.3 1314.3C135.4 1318.4 141.2 1321.9 145.5 1326.4C149.8 1331 153.1 1336.5 156.1 1341.6C159.1 1346.7 162 1352.2 163.7 1356.8C165.4 1361.3 166.4 1365.1 166.1 1368.9C165.9 1372.7 164.1 1376 162.2 1379.5C160.2 1383 157.6 1386.6 154.6 1390.1C151.6 1393.7 147.5 1398.2 144 1400.7C140.4 1403.3 136.6 1405.3 133.4 1405.3C130.1 1405.3 127.3 1403.5 124.3 1400.7C121.2 1398 117.9 1392.4 115.2 1388.6C112.4 1384.8 109.6 1380.8 107.6 1378C105.6 1375.2 107.3 1374.8 103 1371.9C98.7 1369 85.3 1375.2 81.8 1360.7C78.3 1346.2 78.3 1296.2 81.8 1284.9Z" fill="#98f0f8" stroke="#1c48ff" stroke-width="3.2" stroke-dasharray="9.5 6"/>
<path d="M81.8 1595.4C91.9 1554 92.9 1591.9 100 1589.4C107.1 1586.8 116.2 1583.8 124.3 1580.3C132.3 1576.7 140.9 1571.2 148.5 1568.1C156.1 1565.1 162.7 1563.1 169.7 1562.1C176.8 1561.1 184.4 1560.6 191 1562.1C197.5 1563.6 203.6 1567.1 209.2 1571.2C214.7 1575.2 220.3 1580.3 224.3 1586.3C228.4 1592.4 230.9 1600 233.4 1607.6C236 1615.1 238.7 1623.7 239.5 1631.8C240.3 1639.9 239 1649 238 1656.1C237 1663.2 232.7 1668.7 233.4 1674.3C234.2 1679.8 238.5 1684.4 242.5 1689.4C246.6 1694.5 253.9 1700.1 257.7 1704.6C261.5 1709.2 264.3 1712.7 265.3 1716.7C266.3 1720.8 266.5 1724.6 263.8 1728.9C261 1733.2 254.7 1739.2 248.6 1742.5C242.5 1745.8 233.9 1748.3 227.4 1748.6C220.8 1748.8 215.7 1746.3 209.2 1744C202.6 1741.8 195 1738 187.9 1734.9C180.9 1731.9 173.3 1728.1 166.7 1725.8C160.1 1723.6 154.1 1722.3 148.5 1721.3C143 1720.3 136.9 1718 133.4 1719.8C129.8 1721.5 129.1 1726.3 127.3 1731.9C125.5 1737.5 124.8 1745.5 122.7 1753.1C120.7 1760.7 117.7 1770.3 115.2 1777.4C112.6 1784.5 109.6 1790.3 107.6 1795.6C105.6 1800.8 104.8 1801.8 103 1808.9C101.3 1816 107.6 1833.2 97 1838C86.4 1842.9 41.9 1878.5 39.3 1838C36.8 1797.6 71.7 1636.9 81.8 1595.4Z" fill="#98f0f8" stroke="#1c48ff" stroke-width="3.2" stroke-dasharray="9.5 6"/>
<path d="M615.5 1753.1C610.3 1739.7 593.1 1756.2 584 1757.7C574.9 1759.2 567.8 1760.5 561 1762.2C554.1 1764 547.1 1765.3 542.8 1768.3C538.5 1771.3 536.9 1775.4 535.2 1780.4C533.4 1785.5 532.9 1793.9 532.1 1798.6C531.4 1803.4 531.1 1802.4 530.6 1808.9C530.1 1815.5 515 1833.2 529.1 1838C543.3 1842.9 601.1 1852.2 615.5 1838C629.9 1823.9 620.8 1766.5 615.5 1753.1Z" fill="#98f0f8" stroke="#1c48ff" stroke-width="3.2" stroke-dasharray="9.5 6"/>
<path d="M289.2 1110.5L287.7 1129.3L294.1 1127.8L298.9 1136L301.4 1114.8L305.6 1112.6L326.8 1112.6L328.4 1121.1L325 1134.2L329.3 1132.7L330.8 1122.9L338.1 1119.6L344.7 1120.5L354.4 1126.3L364.1 1129.3L369.9 1131.1L370.8 1136L379 1135.1L381.4 1142.4L383.9 1150.5L382.9 1157.2L390.2 1153.9L396.9 1151.5L403.3 1152.4L409.9 1156.3L416.3 1157.2L423 1160.3L431.2 1161.2L437.5 1157.8L444.2 1157.5L449.1 1162.1L457.2 1168.4L465.1 1176.6L473.3 1184.8L480 1191.2L484.8 1196.3L491.2 1198.8L499.4 1198.2L504.2 1196.3L509.1 1200.3L511.8 1209.4L514.3 1219.1L516.7 1232.1L517.6 1244L514.9 1260.6L506.4 1275.8L494.2 1291L485.1 1303.1L479.1 1318.2L470 1333.4L460.9 1342.5L459.4 1360.7L460.9 1381.9L459.4 1400.1L457.8 1415.3L453.3 1427.4L451.8 1442.6L445.7 1454.7L444.2 1459L439.7 1468.1L433.6 1480.2L432.1 1490.8L418.4 1502.9L416.9 1509L400.2 1512L385.1 1511.1L382 1515.1L376 1516.6L372.9 1522.6L360.8 1527.2L348.7 1537.8L336.5 1549.9L327.4 1560.6L326.8 1580.3L325.9 1604.5L315.3 1616.7L306.2 1631.8L300.2 1647L291.1 1662.1L275.9 1675.8L269.8 1689.4L257.7 1701.6L253.1 1710.7L242.5 1718.2L227.4 1718.2L212.2 1715.2L200.1 1710.7L192.5 1704.6L189.5 1710.7L194 1716.7L203.1 1722.8L207.7 1727.3L206.1 1738L209.2 1744L215.2 1750.1L212.2 1759.2L204.6 1771.3L200.1 1777.4L184.9 1785L160.7 1790.1L139.4 1792.5L136.4 1788L136.4 1795.6L140.9 1801.6L139.4 1810.7" fill="none" stroke="#161616" stroke-width="1.75" stroke-linejoin="round"/>
</g>
<rect x="98.7" y="1108.9" width="486.5" height="700.8" fill="none" stroke="#000" stroke-width="6.4"/>
<path d="M87.5 1109H100" stroke="#000" stroke-width="3" fill="none"/>
<text y="1124" font-size="39" font-weight="normal" stroke="#000" stroke-width="1.0"><tspan x="34.5" textLength="43" lengthAdjust="spacingAndGlyphs">EQ</tspan></text>
<path d="M87.5 1284H100" stroke="#000" stroke-width="3" fill="none"/>
<text y="1299" font-size="39" font-weight="normal" stroke="#000" stroke-width="1.0"><tspan x="17.5" textLength="60" lengthAdjust="spacingAndGlyphs">10S</tspan></text>
<path d="M87.5 1459H100" stroke="#000" stroke-width="3" fill="none"/>
<text y="1474" font-size="39" font-weight="normal" stroke="#000" stroke-width="1.0"><tspan x="17.5" textLength="60" lengthAdjust="spacingAndGlyphs">20S</tspan></text>
<path d="M87.5 1634H100" stroke="#000" stroke-width="3" fill="none"/>
<text y="1649" font-size="39" font-weight="normal" stroke="#000" stroke-width="1.0"><tspan x="17.5" textLength="60" lengthAdjust="spacingAndGlyphs">30S</tspan></text>
<path d="M87.5 1809H100" stroke="#000" stroke-width="3" fill="none"/>
<text y="1824" font-size="39" font-weight="normal" stroke="#000" stroke-width="1.0"><tspan x="17.5" textLength="60" lengthAdjust="spacingAndGlyphs">40S</tspan></text>
<path d="M169.1 1809V1822" stroke="#000" stroke-width="3.2" fill="none"/>
<text y="1855.3" font-size="39" font-weight="normal" stroke="#000" stroke-width="1.0"><tspan x="137.1" textLength="64" lengthAdjust="spacingAndGlyphs">60W</tspan></text>
<path d="M307.4 1809V1822" stroke="#000" stroke-width="3.2" fill="none"/>
<text y="1855.3" font-size="39" font-weight="normal" stroke="#000" stroke-width="1.0"><tspan x="275.4" textLength="64" lengthAdjust="spacingAndGlyphs">50W</tspan></text>
<path d="M445.7 1809V1822" stroke="#000" stroke-width="3.2" fill="none"/>
<text y="1855.3" font-size="39" font-weight="normal" stroke="#000" stroke-width="1.0"><tspan x="413.7" textLength="64" lengthAdjust="spacingAndGlyphs">40W</tspan></text>
<path d="M584 1809V1822" stroke="#000" stroke-width="3.2" fill="none"/>
<text y="1855.3" font-size="39" font-weight="normal" stroke="#000" stroke-width="1.0"><tspan x="552" textLength="64" lengthAdjust="spacingAndGlyphs">30W</tspan></text>
</g>
<g id="panel-e">
<clipPath id="c4"><rect x="765.5" y="1108.5" width="487" height="701.5"/></clipPath>
<rect x="765.5" y="1108.5" width="487" height="701.5" fill="#fff8a8"/>
<g clip-path="url(#c4)" stroke-linejoin="round">
<path d="M818.6 1090.8C837.3 1100.9 818.8 1102.9 818.6 1109C818.3 1115.1 818 1120.6 817 1127.2C816 1133.8 815.3 1142.6 812.5 1148.4C809.7 1154.2 804.9 1159.3 800.4 1162.1C795.8 1164.9 790.8 1164.9 785.2 1165.1C779.6 1165.4 773.1 1163.9 767 1163.6C760.9 1163.2 758.9 1182.2 748.8 1163C738.7 1143.8 694.7 1060.4 706.3 1048.3C718 1036.3 799.9 1080.7 818.6 1090.8Z" fill="#d8ffff" stroke="#1c48ff" stroke-width="3.2"/>
<path d="M1282.5 1151.5C1277.3 1149.2 1260.1 1150.4 1251 1149.9C1241.9 1149.4 1235.8 1149.7 1228 1148.4C1220.1 1147.2 1211.3 1144.1 1203.7 1142.4C1196.1 1140.6 1189 1137.3 1182.5 1137.8C1175.9 1138.3 1169.6 1141.1 1164.3 1145.4C1159 1149.7 1153.9 1156.5 1150.6 1163.6C1147.3 1170.7 1144.8 1180.8 1144.6 1187.8C1144.3 1194.9 1146.3 1200 1149.1 1206C1151.9 1212.1 1156.7 1218.2 1161.2 1224.2C1165.8 1230.3 1171.3 1236.4 1176.4 1242.4C1181.5 1248.5 1186.5 1254.6 1191.6 1260.6C1196.6 1266.7 1202.9 1273.9 1206.7 1278.8C1210.5 1283.8 1212.7 1287.7 1214.3 1290.3C1215.9 1293 1215.5 1294.7 1216.1 1294.6C1216.7 1294.4 1217 1293.1 1217.9 1289.4C1218.9 1285.8 1219.7 1280.6 1221.9 1272.8C1224.1 1264.9 1227.4 1252.5 1231 1242.4C1234.5 1232.3 1239.8 1220.2 1243.1 1212.1C1246.5 1204 1244.4 1202 1251 1193.9C1257.6 1185.8 1277.3 1170.7 1282.5 1163.6C1287.8 1156.5 1287.8 1153.7 1282.5 1151.5Z" fill="#d8ffff" stroke="#1c48ff" stroke-width="3.2"/>
<path d="M1176.4 1181.8C1179.7 1180.5 1187 1180.5 1191.6 1181.8C1196.1 1183 1201.4 1186.3 1203.7 1189.4C1206 1192.4 1206.7 1196.7 1205.2 1200C1203.7 1203.3 1198.4 1207.3 1194.6 1209.1C1190.8 1210.8 1186 1212.1 1182.5 1210.6C1178.9 1209.1 1175.1 1203.5 1173.4 1200C1171.6 1196.4 1171.3 1192.4 1171.9 1189.4C1172.4 1186.3 1173.1 1183 1176.4 1181.8Z" fill="#98f0f8" stroke="#1c48ff" stroke-width="3.2" stroke-dasharray="9.5 6"/>
<path d="M748.8 1395.6C758.9 1319.3 761.4 1395.8 767 1395.6C772.6 1395.3 776.6 1394.3 782.2 1394.1C787.7 1393.8 794.3 1392.8 800.4 1394.1C806.4 1395.3 812.5 1399.1 818.6 1401.6C824.6 1404.2 830.2 1407.5 836.7 1409.2C843.3 1411 850.9 1411 858 1412.3C865.1 1413.5 872.6 1414.8 879.2 1416.8C885.8 1418.8 891.8 1421.1 897.4 1424.4C903 1427.7 908 1432 912.6 1436.5C917.1 1441.1 921.7 1447.7 924.7 1451.7C927.7 1455.7 926.7 1457.2 930.8 1460.5C934.8 1463.7 941.9 1466.8 949 1471.1C956 1475.4 965.6 1480.2 973.2 1486.3C980.8 1492.3 987.4 1500.4 994.4 1507.5C1001.5 1514.6 1008.1 1522.1 1015.7 1528.7C1023.3 1535.3 1031.8 1541.3 1039.9 1546.9C1048 1552.5 1056.1 1557 1064.2 1562.1C1072.3 1567.1 1080.9 1572.7 1088.5 1577.2C1096 1581.8 1102.6 1585.3 1109.7 1589.4C1116.8 1593.4 1123.8 1598.5 1130.9 1601.5C1138 1604.5 1145.6 1607.1 1152.1 1607.6C1158.7 1608.1 1164.3 1606.5 1170.3 1604.5C1176.4 1602.5 1183 1600 1188.5 1595.4C1194.1 1590.9 1199.1 1583.8 1203.7 1577.2C1208.2 1570.7 1211.3 1562.1 1215.8 1556C1220.4 1549.9 1225.1 1544.9 1231 1540.8C1236.9 1536.8 1242.4 1534.8 1251 1531.7C1259.6 1528.7 1277.3 1469.1 1282.5 1522.6C1287.8 1576.2 1378.6 1798.1 1282.5 1853.2C1186.5 1908.3 795.3 1929.5 706.3 1853.2C617.4 1776.9 738.7 1471.9 748.8 1395.6Z" fill="#d8ffff" stroke="#1c48ff" stroke-width="3.2"/>
<path d="M748.8 1430.5C752.3 1425.1 765.2 1431.5 770 1435C774.8 1438.5 776.1 1447.4 777.6 1451.7C779.1 1456 780.9 1458.4 779.1 1460.8C777.4 1463.2 772.1 1465.2 767 1466.2C761.9 1467.3 751.8 1472.8 748.8 1466.8C745.8 1460.9 745.3 1435.8 748.8 1430.5Z" fill="#fff8a8" stroke="#1c48ff" stroke-width="3.2"/>
<path d="M882.2 1822.9C860 1820.5 884.8 1813.2 888.3 1808.9C891.8 1804.6 897.4 1799.6 903.5 1797.1C909.5 1794.6 917.1 1794.8 924.7 1794.1C932.3 1793.3 940.9 1792.9 949 1792.5C957 1792.2 966.6 1791.2 973.2 1791.9C979.8 1792.7 983.3 1795 988.4 1797.1C993.4 1799.2 999 1802.6 1003.5 1804.7C1008.1 1806.8 1012.6 1806.5 1015.7 1809.5C1018.7 1812.6 1044 1820.7 1021.7 1822.9C999.5 1825.1 904.5 1825.2 882.2 1822.9Z" fill="#fff8a8" stroke="#1c48ff" stroke-width="3.2"/>
<path d="M1124.8 1816.8C1117.3 1815.5 1126.9 1811.1 1130.9 1808.9C1135 1806.8 1142.5 1803.8 1149.1 1803.8C1155.7 1803.8 1165.8 1806.8 1170.3 1808.9C1174.9 1811.1 1184 1815.5 1176.4 1816.8C1168.8 1818.1 1132.4 1818.1 1124.8 1816.8Z" fill="#fff8a8" stroke="#1c48ff" stroke-width="3.2"/>
<path d="M856.5 1090.8C846.1 1100.9 856.5 1101.9 856.5 1109C856.5 1116.1 855.7 1125.2 856.5 1133.3C857.2 1141.3 858.2 1150.4 861 1157.5C863.8 1164.6 868.6 1170.7 873.1 1175.7C877.7 1180.8 883.2 1185.1 888.3 1187.8C893.4 1190.6 898.4 1192.9 903.5 1192.4C908.5 1191.9 913.1 1188.6 918.6 1184.8C924.2 1181 930.8 1175.2 936.8 1169.7C942.9 1164.1 949 1156.5 955 1151.5C961.1 1146.4 968.2 1140.3 973.2 1139.3C978.3 1138.3 981.3 1141.9 985.3 1145.4C989.4 1148.9 993.7 1155.4 997.5 1160.6C1001.3 1165.7 1004.8 1175.8 1008.1 1176.3C1011.4 1176.8 1015.4 1168.2 1017.2 1163.6C1019 1158.9 1019.5 1154 1018.7 1148.4C1017.9 1142.9 1014.7 1136.8 1012.6 1130.2C1010.6 1123.7 1008.1 1115.6 1006.6 1109C1005.1 1102.4 1018.2 1100.9 1003.5 1090.8C988.9 1080.7 943.1 1048.3 918.6 1048.3C894.1 1048.3 866.8 1080.7 856.5 1090.8Z" fill="#ffe468" stroke="#1c48ff" stroke-width="3.2"/>
<path d="M1006.6 1201.5C1011.6 1201 1014.2 1203.3 1018.7 1206C1023.3 1208.8 1028.8 1213.6 1033.9 1218.2C1038.9 1222.7 1044 1228.3 1049 1233.3C1054.1 1238.4 1059.6 1244.2 1064.2 1248.5C1068.7 1252.8 1071.8 1256.6 1076.3 1259.1C1080.9 1261.6 1085.4 1262.9 1091.5 1263.7C1097.6 1264.4 1106.1 1264.2 1112.7 1263.7C1119.3 1263.2 1125.6 1261.4 1130.9 1260.6C1136.2 1259.9 1141 1257.6 1144.6 1259.1C1148.1 1260.6 1149.4 1264.4 1152.1 1269.7C1154.9 1275 1157.7 1283.4 1161.2 1291C1164.8 1298.5 1169.3 1307.6 1173.4 1315.2C1177.4 1322.8 1180.9 1329.4 1185.5 1336.4C1190 1343.5 1196.6 1351.1 1200.7 1357.7C1204.7 1364.2 1207.7 1369.3 1209.8 1375.9C1211.8 1382.4 1211.3 1390 1212.8 1397.1C1214.3 1404.2 1216.3 1411.8 1218.9 1418.3C1221.4 1424.9 1225.2 1429.7 1228 1436.5C1230.7 1443.3 1235.5 1451.2 1235.5 1459C1235.5 1466.7 1231.2 1475.6 1228 1483.2C1224.7 1490.8 1220.4 1497.4 1215.8 1504.5C1211.3 1511.5 1205.7 1519.1 1200.7 1525.7C1195.6 1532.2 1191.1 1538.6 1185.5 1543.9C1179.9 1549.2 1173.9 1554 1167.3 1557.5C1160.7 1561.1 1152.1 1564.3 1146.1 1565.1C1140 1565.9 1136.5 1564.6 1130.9 1562.1C1125.4 1559.5 1118.8 1554.5 1112.7 1549.9C1106.7 1545.4 1101.1 1540.3 1094.5 1534.8C1088 1529.2 1079.9 1522.6 1073.3 1516.6C1066.7 1510.5 1060.7 1505 1055.1 1498.4C1049.5 1491.8 1044.5 1483.7 1039.9 1477.2C1035.4 1470.6 1032.9 1464.2 1027.8 1459C1022.7 1453.7 1015.7 1450.4 1009.6 1445.6C1003.5 1440.9 997 1436 991.4 1430.5C985.9 1424.9 981.3 1417.3 976.2 1412.3C971.2 1407.2 967.2 1403.7 961.1 1400.1C955 1396.6 946.9 1393.8 939.9 1391C932.8 1388.3 925.2 1386 918.6 1383.5C912.1 1380.9 905.5 1378.6 900.4 1375.9C895.4 1373.1 891.8 1370.3 888.3 1366.8C884.8 1363.2 882.7 1358.7 879.2 1354.6C875.7 1350.6 872.1 1346 867.1 1342.5C862 1339 853.4 1337 848.9 1333.4C844.3 1329.9 841.6 1326.3 839.8 1321.3C838 1316.2 837.8 1308.6 838.3 1303.1C838.8 1297.5 840 1292.7 842.8 1287.9C845.6 1283.1 850.4 1277.8 854.9 1274.3C859.5 1270.7 864.5 1268 870.1 1266.7C875.7 1265.4 882.2 1266.7 888.3 1266.7C894.4 1266.7 900.4 1268.2 906.5 1266.7C912.6 1265.2 918.1 1261.6 924.7 1257.6C931.3 1253.6 938.8 1248 945.9 1242.4C953 1236.9 960.1 1229.8 967.2 1224.2C974.2 1218.7 981.8 1212.9 988.4 1209.1C995 1205.3 1001.5 1202 1006.6 1201.5Z" fill="#ffe468" stroke="#1c48ff" stroke-width="3.2"/>
<path d="M1006.6 1268.2C1010.6 1269.2 1011.6 1274 1015.7 1278.8C1019.7 1283.6 1025.3 1291 1030.8 1297C1036.4 1303.1 1043.5 1310.2 1049 1315.2C1054.6 1320.3 1060.4 1322.8 1064.2 1327.3C1068 1331.9 1069.7 1338.1 1071.8 1342.5C1073.9 1346.9 1075.4 1354.2 1076.9 1353.7C1078.4 1353.2 1079.5 1344.1 1080.9 1339.5C1082.3 1334.8 1082.6 1329.9 1085.4 1325.8C1088.2 1321.8 1093 1318 1097.6 1315.2C1102.1 1312.4 1107.2 1309.9 1112.7 1309.2C1118.3 1308.4 1125.4 1309.2 1130.9 1310.7C1136.5 1312.2 1141.8 1314.5 1146.1 1318.2C1150.4 1322 1153.7 1327.9 1156.7 1333.4C1159.7 1339 1162 1344.5 1164.3 1351.6C1166.5 1358.7 1168.8 1367.8 1170.3 1375.9C1171.9 1384 1172.6 1392 1173.4 1400.1C1174.1 1408.2 1174.4 1414.6 1174.9 1424.4C1175.4 1434.2 1177.2 1450.2 1176.4 1459C1175.6 1467.8 1173.4 1470.6 1170.3 1477.2C1167.3 1483.7 1162.2 1492.6 1158.2 1498.4C1154.2 1504.2 1150.1 1510.3 1146.1 1512C1142 1513.8 1139 1510.8 1133.9 1509C1128.9 1507.2 1121.3 1504.7 1115.7 1501.4C1110.2 1498.1 1104.6 1493.8 1100.6 1489.3C1096.5 1484.7 1094 1479.2 1091.5 1474.1C1089 1469.1 1086.9 1464.2 1085.4 1459C1083.9 1453.7 1083.1 1448.3 1082.4 1442.6C1081.6 1436.8 1081.4 1431.2 1080.9 1424.4C1080.4 1417.6 1081.1 1405.9 1079.4 1401.6C1077.6 1397.3 1074.8 1399.1 1070.3 1398.6C1065.7 1398.1 1059.1 1399.4 1052.1 1398.6C1045 1397.9 1034.9 1396.3 1027.8 1394.1C1020.7 1391.8 1014.7 1388.5 1009.6 1385C1004.6 1381.4 1001.5 1377.9 997.5 1372.8C993.4 1367.8 989.4 1360.2 985.3 1354.6C981.3 1349.1 978.3 1343.5 973.2 1339.5C968.2 1335.4 958.5 1333.4 955 1330.4C951.6 1327.3 951.6 1325.8 952.6 1321.3C953.6 1316.7 957.6 1309.2 961.1 1303.1C964.5 1297 968.2 1289.9 973.2 1284.9C978.3 1279.8 985.9 1275.5 991.4 1272.8C997 1270 1002.5 1267.2 1006.6 1268.2Z" fill="#ffc028" stroke="#1c48ff" stroke-width="3.2"/>
<path d="M748.8 1499.9C751.8 1453.4 760.9 1498.9 767 1498.4C773.1 1497.9 779.6 1498.1 785.2 1496.9C790.8 1495.6 795.8 1494.1 800.4 1490.8C804.9 1487.5 808.4 1482 812.5 1477.2C816.5 1472.4 821.1 1465.4 824.6 1462C828.2 1458.6 830.2 1456.3 833.7 1456.5C837.3 1456.8 841.8 1461.1 845.8 1463.5C849.9 1465.9 851.9 1466.8 858 1471.1C864 1475.4 874.2 1483.2 882.2 1489.3C890.3 1495.4 898.4 1501.9 906.5 1507.5C914.6 1513 923.7 1517.6 930.8 1522.6C937.8 1527.7 942.9 1533.3 949 1537.8C955 1542.4 960.1 1545.6 967.2 1549.9C974.2 1554.2 984.3 1559 991.4 1563.6C998.5 1568.1 1003.5 1572.4 1009.6 1577.2C1015.7 1582 1021.2 1586.8 1027.8 1592.4C1034.4 1598 1042 1605 1049 1610.6C1056.1 1616.2 1063.7 1621.2 1070.3 1625.8C1076.8 1630.3 1082.9 1633.8 1088.5 1637.9C1094 1641.9 1098.6 1646.5 1103.6 1650C1108.7 1653.6 1113.2 1656.6 1118.8 1659.1C1124.3 1661.6 1130.9 1662.7 1137 1665.2C1143 1667.7 1150.6 1670.7 1155.2 1674.3C1159.7 1677.8 1161.7 1681.9 1164.3 1686.4C1166.8 1691 1168.3 1697 1170.3 1701.6C1172.4 1706.1 1173.4 1710.6 1176.4 1713.7C1179.4 1716.8 1189 1719.1 1188.5 1720.4C1188 1721.6 1180.4 1721.1 1173.4 1721.3C1166.3 1721.4 1154.2 1720.5 1146.1 1721.3C1138 1722 1131.4 1724.1 1124.8 1725.8C1118.3 1727.6 1115.7 1730.4 1106.7 1731.9C1097.6 1733.4 1082.4 1734.3 1070.3 1734.9C1058.1 1735.5 1046 1735.3 1033.9 1735.5C1021.7 1735.8 1009.6 1736.3 997.5 1736.4C985.3 1736.6 973.2 1736.2 961.1 1736.4C949 1736.7 935.8 1737 924.7 1738C913.6 1739 903.5 1740.7 894.4 1742.5C885.3 1744.3 878.2 1746.3 870.1 1748.6C862 1750.8 853.9 1754.4 845.8 1756.2C837.8 1757.9 829.7 1758.4 821.6 1759.2C813.5 1759.9 804.4 1759.7 797.3 1760.7C790.2 1761.7 784.2 1763.5 779.1 1765.3C774.1 1767 772.1 1769.3 767 1771.3C761.9 1773.3 751.8 1822.6 748.8 1777.4C745.8 1732.1 745.8 1546.4 748.8 1499.9Z" fill="#98f0f8" stroke="#1c48ff" stroke-width="3.2" stroke-dasharray="9.5 6"/>
<path d="M1282.5 1592.4C1277.3 1579.3 1258.1 1598 1251 1601.5C1243.9 1605 1243.2 1608.6 1240.1 1613.6C1237 1618.7 1234.1 1625.2 1232.5 1631.8C1230.9 1638.4 1230.4 1646.5 1230.4 1653C1230.4 1659.6 1230.9 1667.2 1232.5 1671.2C1234.1 1675.3 1237 1676 1240.1 1677.3C1243.2 1678.6 1243.9 1678.3 1251 1678.8C1258.1 1679.3 1277.3 1694.7 1282.5 1680.3C1287.8 1665.9 1287.8 1605.5 1282.5 1592.4Z" fill="#98f0f8" stroke="#1c48ff" stroke-width="3.2" stroke-dasharray="9.5 6"/>
<path d="M748.8 1580.3C751.8 1550.7 762.5 1567.1 767 1562.1C771.5 1557 772.6 1553.7 776.1 1549.9C779.6 1546.1 783.2 1541.9 788.2 1539.3C793.3 1536.8 798.8 1535.8 806.4 1534.8C814 1533.8 824.6 1533.8 833.7 1533.3C842.8 1532.8 854.4 1531 861 1531.7C867.6 1532.5 868.6 1534.8 873.1 1537.8C877.7 1540.8 882.7 1545.4 888.3 1549.9C893.9 1554.5 899.4 1560.8 906.5 1565.1C913.6 1569.4 922.7 1572.2 930.8 1575.7C938.8 1579.3 947.9 1582.5 955 1586.3C962.1 1590.1 967.2 1593.9 973.2 1598.5C979.3 1603 985.9 1608.6 991.4 1613.6C997 1618.7 1002.8 1623.7 1006.6 1628.8C1010.4 1633.8 1012.6 1637.9 1014.2 1644C1015.7 1650 1016.7 1659.1 1015.7 1665.2C1014.7 1671.2 1012.1 1676.3 1008.1 1680.3C1004 1684.4 998.2 1686.9 991.4 1689.4C984.6 1692 976.2 1693.5 967.2 1695.5C958.1 1697.5 946.9 1700.1 936.8 1701.6C926.7 1703.1 916.6 1703.1 906.5 1704.6C896.4 1706.1 885.3 1708.6 876.2 1710.7C867.1 1712.7 860 1714.5 851.9 1716.7C843.8 1719 836.7 1722 827.7 1724.3C818.6 1726.6 807.4 1728.4 797.3 1730.4C787.2 1732.4 775.1 1734.9 767 1736.4C758.9 1738 751.8 1765.5 748.8 1739.5C745.8 1713.4 745.8 1609.8 748.8 1580.3Z" fill="#80dcfc" stroke="#1c48ff" stroke-width="3.2" stroke-dasharray="9.5 6"/>
<path d="M870.1 1581.8C873.9 1581.3 876.2 1585.1 879.2 1589.4C882.2 1593.7 886 1601.5 888.3 1607.6C890.6 1613.6 892.9 1620.4 892.9 1625.8C892.9 1631.1 891.8 1635.3 888.3 1639.4C884.8 1643.5 876.2 1649.9 871.6 1650.6C867.1 1651.4 864 1647.6 861 1644C858 1640.3 854.9 1634.3 853.4 1628.8C851.9 1623.2 851.4 1616.7 851.9 1610.6C852.4 1604.5 853.4 1597.2 856.5 1592.4C859.5 1587.6 866.3 1582.3 870.1 1581.8Z" fill="#48b4f8" stroke="#1c48ff" stroke-width="3.2" stroke-dasharray="9.5 6"/>
<path d="M748.8 1604.5C751.8 1589.1 760.9 1610.3 767 1613.6C773.1 1616.9 779.1 1619.9 785.2 1624.2C791.3 1628.5 797.3 1633.8 803.4 1639.4C809.5 1645 816.3 1651.5 821.6 1657.6C826.9 1663.7 835.2 1671.2 835.2 1675.8C835.2 1680.3 827.4 1681.9 821.6 1684.9C815.8 1687.9 807.4 1691.2 800.4 1694C793.3 1696.8 784.7 1699.9 779.1 1701.6C773.6 1703.2 772.1 1703.2 767 1704C761.9 1704.8 751.8 1722.7 748.8 1706.1C745.8 1689.5 745.8 1619.9 748.8 1604.5Z" fill="#48b4f8" stroke="#1c48ff" stroke-width="3.2" stroke-dasharray="9.5 6"/>
<path d="M956.2 1110.5L954.7 1129.3L961.1 1127.8L965.9 1136L968.4 1114.8L972.6 1112.6L993.8 1112.6L995.4 1121.1L992 1134.2L996.3 1132.7L997.8 1122.9L1005.1 1119.6L1011.7 1120.5L1021.4 1126.3L1031.1 1129.3L1036.9 1131.1L1037.8 1136L1046 1135.1L1048.4 1142.4L1050.9 1150.5L1049.9 1157.2L1057.2 1153.9L1063.9 1151.5L1070.3 1152.4L1076.9 1156.3L1083.3 1157.2L1090 1160.3L1098.2 1161.2L1104.5 1157.8L1111.2 1157.5L1116.1 1162.1L1124.2 1168.4L1132.1 1176.6L1140.3 1184.8L1147 1191.2L1151.8 1196.3L1158.2 1198.8L1166.4 1198.2L1171.2 1196.3L1176.1 1200.3L1178.8 1209.4L1181.3 1219.1L1183.7 1232.1L1184.6 1244L1181.9 1260.6L1173.4 1275.8L1161.2 1291L1152.1 1303.1L1146.1 1318.2L1137 1333.4L1127.9 1342.5L1126.4 1360.7L1127.9 1381.9L1126.4 1400.1L1124.8 1415.3L1120.3 1427.4L1118.8 1442.6L1112.7 1454.7L1111.2 1459L1106.7 1468.1L1100.6 1480.2L1099.1 1490.8L1085.4 1502.9L1083.9 1509L1067.2 1512L1052.1 1511.1L1049 1515.1L1043 1516.6L1039.9 1522.6L1027.8 1527.2L1015.7 1537.8L1003.5 1549.9L994.4 1560.6L993.8 1580.3L992.9 1604.5L982.3 1616.7L973.2 1631.8L967.2 1647L958.1 1662.1L942.9 1675.8L936.8 1689.4L924.7 1701.6L920.1 1710.7L909.5 1718.2L894.4 1718.2L879.2 1715.2L867.1 1710.7L859.5 1704.6L856.5 1710.7L861 1716.7L870.1 1722.8L874.7 1727.3L873.1 1738L876.2 1744L882.2 1750.1L879.2 1759.2L871.6 1771.3L867.1 1777.4L851.9 1785L827.7 1790.1L806.4 1792.5L803.4 1788L803.4 1795.6L807.9 1801.6L806.4 1810.7" fill="none" stroke="#161616" stroke-width="1.75" stroke-linejoin="round"/>
</g>
<rect x="766.5" y="1108.9" width="484.9" height="700.8" fill="none" stroke="#000" stroke-width="6.4"/>
<path d="M754.5 1109H767" stroke="#000" stroke-width="3" fill="none"/>
<text y="1124" font-size="39" font-weight="normal" stroke="#000" stroke-width="1.0"><tspan x="701.5" textLength="43" lengthAdjust="spacingAndGlyphs">EQ</tspan></text>
<path d="M754.5 1284H767" stroke="#000" stroke-width="3" fill="none"/>
<text y="1299" font-size="39" font-weight="normal" stroke="#000" stroke-width="1.0"><tspan x="684.5" textLength="60" lengthAdjust="spacingAndGlyphs">10S</tspan></text>
<path d="M754.5 1459H767" stroke="#000" stroke-width="3" fill="none"/>
<text y="1474" font-size="39" font-weight="normal" stroke="#000" stroke-width="1.0"><tspan x="684.5" textLength="60" lengthAdjust="spacingAndGlyphs">20S</tspan></text>
<path d="M754.5 1634H767" stroke="#000" stroke-width="3" fill="none"/>
<text y="1649" font-size="39" font-weight="normal" stroke="#000" stroke-width="1.0"><tspan x="684.5" textLength="60" lengthAdjust="spacingAndGlyphs">30S</tspan></text>
<path d="M754.5 1809H767" stroke="#000" stroke-width="3" fill="none"/>
<text y="1824" font-size="39" font-weight="normal" stroke="#000" stroke-width="1.0"><tspan x="684.5" textLength="60" lengthAdjust="spacingAndGlyphs">40S</tspan></text>
<path d="M836.1 1809V1822" stroke="#000" stroke-width="3.2" fill="none"/>
<text y="1855.3" font-size="39" font-weight="normal" stroke="#000" stroke-width="1.0"><tspan x="804.1" textLength="64" lengthAdjust="spacingAndGlyphs">60W</tspan></text>
<path d="M974.4 1809V1822" stroke="#000" stroke-width="3.2" fill="none"/>
<text y="1855.3" font-size="39" font-weight="normal" stroke="#000" stroke-width="1.0"><tspan x="942.4" textLength="64" lengthAdjust="spacingAndGlyphs">50W</tspan></text>
<path d="M1112.7 1809V1822" stroke="#000" stroke-width="3.2" fill="none"/>
<text y="1855.3" font-size="39" font-weight="normal" stroke="#000" stroke-width="1.0"><tspan x="1080.7" textLength="64" lengthAdjust="spacingAndGlyphs">40W</tspan></text>
<path d="M1251 1809V1822" stroke="#000" stroke-width="3.2" fill="none"/>
<text y="1855.3" font-size="39" font-weight="normal" stroke="#000" stroke-width="1.0"><tspan x="1219" textLength="64" lengthAdjust="spacingAndGlyphs">30W</tspan></text>
</g>
<g id="panel-f">
<clipPath id="c5"><rect x="1431.9" y="1108.5" width="487" height="701.5"/></clipPath>
<rect x="1431.9" y="1108.5" width="487" height="701.5" fill="#ffe468"/>
<g clip-path="url(#c5)" stroke-linejoin="round">
<path d="M1478.9 1090.8C1439 1093.8 1477.9 1103.4 1478.9 1109C1479.9 1114.6 1482.7 1118.6 1485 1124.2C1487.2 1129.7 1491.3 1136.8 1492.5 1142.4C1493.8 1147.9 1493.8 1152.5 1492.5 1157.5C1491.3 1162.6 1488.2 1167.9 1485 1172.7C1481.7 1177.5 1477.4 1182.9 1472.8 1186.3C1468.3 1189.8 1462.7 1192 1457.7 1193.3C1452.6 1194.6 1446.5 1193.9 1442.5 1193.9C1438.5 1193.9 1437.9 1193.4 1433.4 1193.3C1428.9 1193.2 1418.2 1181.1 1415.2 1193.3C1412.2 1205.5 1412.2 1252.7 1415.2 1266.7C1418.2 1280.7 1427.8 1272.3 1433.4 1277.3C1439 1282.4 1443.5 1289.7 1448.6 1297C1453.6 1304.4 1458.7 1313.2 1463.7 1321.3C1468.8 1329.4 1474.6 1338 1478.9 1345.5C1483.2 1353.1 1487 1359.7 1489.5 1366.8C1492 1373.8 1493.8 1381.4 1494.1 1388C1494.3 1394.6 1490.5 1401.1 1491 1406.2C1491.5 1411.2 1494.6 1413.8 1497.1 1418.3C1499.6 1422.9 1503.7 1428.4 1506.2 1433.5C1508.7 1438.5 1510.5 1444.4 1512.2 1448.7C1514 1452.9 1514.3 1455.7 1516.8 1459C1519.3 1462.2 1523.6 1465.5 1527.4 1468.1C1531.2 1470.6 1535 1473.4 1539.5 1474.1C1544.1 1474.9 1549.6 1473 1554.7 1472.6C1559.8 1472.3 1566.1 1471.5 1569.9 1472C1573.7 1472.5 1574.2 1472.8 1577.4 1475.6C1580.7 1478.5 1585.8 1485.2 1589.6 1489.3C1593.4 1493.3 1597.2 1497.5 1600.2 1499.9C1603.2 1502.3 1604 1503.2 1607.8 1503.8C1611.6 1504.5 1617.4 1503.7 1622.9 1503.8C1628.5 1503.9 1636.6 1503.3 1641.1 1504.5C1645.7 1505.6 1646.9 1508 1650.2 1510.5C1653.5 1513 1656.6 1516.1 1660.8 1519.6C1665 1523.2 1670.4 1528.2 1675.4 1531.7C1680.4 1535.3 1685.5 1538.1 1690.6 1540.8C1695.6 1543.6 1700.7 1545.4 1705.7 1548.4C1710.8 1551.5 1715.8 1555.2 1720.9 1559C1725.9 1562.8 1731 1567.1 1736.1 1571.2C1741.1 1575.2 1746.7 1580 1751.2 1583.3C1755.8 1586.6 1758.8 1588.7 1763.3 1590.9C1767.9 1593.1 1773 1595.2 1778.5 1596.3C1784.1 1597.5 1791.1 1597.6 1796.7 1597.9C1802.3 1598.1 1807.3 1597.2 1811.9 1597.9C1816.4 1598.5 1820 1599.7 1824 1601.5C1828 1603.3 1832.3 1607 1836.1 1608.5C1839.9 1610 1843.7 1611 1846.7 1610.6C1849.8 1610.2 1852.1 1608.1 1854.3 1606C1856.6 1604 1858.9 1601.2 1860.4 1598.5C1861.9 1595.7 1863.9 1592 1863.4 1589.4C1862.9 1586.7 1859.9 1585 1857.4 1582.7C1854.8 1580.4 1850.4 1578.4 1848.3 1575.7C1846.1 1573 1845.5 1569.9 1844.3 1566.6C1843.2 1563.3 1842.6 1559.8 1841.3 1556C1839.9 1552.2 1838.5 1547.2 1836.1 1543.9C1833.8 1540.6 1831.1 1538.7 1827 1536.3C1823 1533.9 1816.9 1531.1 1811.9 1529.6C1806.8 1528.1 1801.3 1527.9 1796.7 1527.2C1792.2 1526.5 1787.9 1526.7 1784.6 1525.7C1781.3 1524.7 1779 1523.7 1777 1521.1C1775 1518.6 1773.9 1514.3 1772.4 1510.5C1771 1506.7 1770 1502.4 1768.5 1498.4C1767 1494.3 1765.5 1490.3 1763.3 1486.3C1761.2 1482.2 1758.3 1477.9 1755.8 1474.1C1753.2 1470.3 1751.4 1468.3 1748.2 1463.5C1745 1458.8 1741.1 1451.6 1736.7 1445.6C1732.2 1439.6 1726.6 1433.5 1721.5 1427.4C1716.4 1421.4 1711.4 1415.3 1706.3 1409.2C1701.3 1403.2 1695.7 1396.6 1691.2 1391C1686.6 1385.5 1681.7 1380.4 1679 1375.9C1676.4 1371.3 1677.6 1364.5 1675.1 1363.7C1672.6 1363 1667.8 1368.3 1663.9 1371.3C1660 1374.4 1655.5 1379.2 1651.7 1381.9C1648 1384.7 1644.9 1388.3 1641.1 1388C1637.3 1387.7 1631.8 1383.5 1629 1380.4C1626.2 1377.4 1622.7 1373.1 1624.5 1369.8C1626.2 1366.5 1635.6 1364.2 1639.6 1360.7C1643.7 1357.2 1645.2 1354.1 1648.7 1348.6C1652.3 1343 1656.8 1334.4 1660.8 1327.3C1664.9 1320.3 1669.9 1312.7 1673 1306.1C1676 1299.5 1677 1294.5 1679 1287.9C1681.1 1281.4 1683.1 1273.3 1685.1 1266.7C1687.1 1260.1 1688.6 1253.6 1691.2 1248.5C1693.7 1243.4 1696.2 1239.9 1700.3 1236.4C1704.3 1232.8 1710.4 1231.3 1715.4 1227.3C1720.5 1223.2 1726.8 1217.2 1730.6 1212.1C1734.4 1207.1 1737.2 1202 1738.2 1196.9C1739.2 1191.9 1737.9 1188.4 1736.7 1181.8C1735.4 1175.2 1732.6 1165.6 1730.6 1157.5C1728.6 1149.4 1726.3 1141.3 1724.5 1133.3C1722.8 1125.2 1721 1116.1 1720 1109C1719 1101.9 1758.6 1093.8 1718.5 1090.8C1678.3 1087.8 1518.8 1087.8 1478.9 1090.8Z" fill="#ffc028" stroke="#1c48ff" stroke-width="3.2"/>
<path d="M1869.5 1633.9C1868.9 1631.6 1873.3 1626.9 1875.6 1624.2C1877.8 1621.6 1881.1 1617.9 1883.1 1618.2C1885.2 1618.4 1886.7 1622.9 1887.7 1625.8C1888.7 1628.6 1890.6 1633.3 1889.2 1635.5C1887.8 1637.6 1882.5 1638.7 1879.2 1638.5C1875.9 1638.2 1870.1 1636.3 1869.5 1633.9Z" fill="#ffc028" stroke="#1c48ff" stroke-width="3.2"/>
<path d="M1415.2 1137.8C1418.2 1134.5 1428.3 1138.1 1433.4 1139.3C1438.5 1140.6 1441.7 1143.3 1445.5 1145.4C1449.3 1147.5 1456.1 1150.3 1456.1 1152.1C1456.1 1153.8 1449.3 1155 1445.5 1156C1441.7 1157 1438.5 1157.6 1433.4 1158.1C1428.3 1158.6 1418.2 1162.4 1415.2 1159C1412.2 1155.7 1412.2 1141.1 1415.2 1137.8Z" fill="#fff8a8" stroke="#1c48ff" stroke-width="3.2"/>
<path d="M1415.2 1291C1418.2 1271.7 1428.3 1308.1 1433.4 1315.2C1438.5 1322.3 1441.5 1327.3 1445.5 1333.4C1449.6 1339.5 1453.4 1345.3 1457.7 1351.6C1462 1357.9 1470.8 1365.3 1471.3 1371.3C1471.8 1377.4 1465 1382.7 1460.7 1388C1456.4 1393.3 1450.1 1398.6 1445.5 1403.2C1441 1407.7 1438.5 1410.7 1433.4 1415.3C1428.3 1419.8 1418.2 1451.2 1415.2 1430.5C1412.2 1409.7 1412.2 1310.2 1415.2 1291Z" fill="#fff8a8" stroke="#1c48ff" stroke-width="3.2"/>
<path d="M1522.9 1090.8C1497.3 1093.8 1523.1 1101.9 1522.9 1109C1522.6 1116.1 1522.6 1124.7 1521.3 1133.3C1520.1 1141.9 1517.8 1152.5 1515.3 1160.6C1512.8 1168.6 1508 1175.2 1506.2 1181.8C1504.4 1188.4 1504.2 1193.9 1504.7 1200C1505.2 1206 1506.9 1212.1 1509.2 1218.2C1511.5 1224.2 1514.3 1230.8 1518.3 1236.4C1522.4 1241.9 1528.4 1246.5 1533.5 1251.5C1538.5 1256.6 1544.5 1261.4 1548.6 1266.7C1552.8 1272 1558.8 1279.6 1558.3 1283.4C1557.8 1287.2 1551.3 1287.4 1545.6 1289.4C1539.9 1291.5 1530.9 1293.2 1524.4 1295.5C1517.8 1297.8 1511 1299.8 1506.2 1303.1C1501.4 1306.4 1497.8 1311.2 1495.6 1315.2C1493.3 1319.3 1492 1322.8 1492.5 1327.3C1493 1331.9 1495.3 1337.5 1498.6 1342.5C1501.9 1347.6 1508 1352.6 1512.2 1357.7C1516.5 1362.7 1521.6 1367.3 1524.4 1372.8C1527.2 1378.4 1527.7 1385 1528.9 1391C1530.2 1397.1 1530.7 1403.3 1532 1409.2C1533.2 1415.2 1533.2 1424.3 1536.5 1426.8C1539.8 1429.3 1547.1 1426.6 1551.7 1424.4C1556.2 1422.2 1561.7 1418.8 1563.8 1413.8C1565.9 1408.7 1564.5 1401.4 1564.4 1394.1C1564.3 1386.7 1563.3 1378.9 1563.2 1369.8C1563.1 1360.7 1562.9 1349.1 1563.8 1339.5C1564.7 1329.9 1565.8 1319.8 1568.4 1312.2C1570.9 1304.6 1575.9 1299 1579 1294C1582 1288.9 1586 1286.9 1586.5 1281.9C1587.1 1276.8 1584.3 1269.7 1582 1263.7C1579.7 1257.6 1575.2 1249.4 1572.9 1245.5C1570.6 1241.5 1566.3 1242.5 1568.4 1240C1570.4 1237.5 1578.2 1233.5 1585 1230.3C1591.9 1227.1 1601.2 1222.9 1609.3 1220.6C1617.4 1218.3 1625.5 1217.8 1633.6 1216.7C1641.6 1215.5 1650.2 1215.4 1657.8 1213.6C1665.4 1211.9 1673 1209.1 1679 1206C1685.1 1203 1689.9 1200 1694.2 1195.4C1698.5 1190.9 1702.5 1184.6 1704.8 1178.7C1707.1 1172.9 1707.9 1166.6 1707.9 1160.6C1707.9 1154.5 1707.1 1148.4 1704.8 1142.4C1702.5 1136.3 1697.5 1129.7 1694.2 1124.2C1690.9 1118.6 1688.1 1114.6 1685.1 1109C1682.1 1103.4 1703 1093.8 1676 1090.8C1649 1087.8 1548.4 1087.8 1522.9 1090.8Z" fill="#ffa000" stroke="#1c48ff" stroke-width="3.2"/>
<path d="M1557.7 1153C1559 1149.4 1567.3 1145.1 1572.9 1140.8C1578.5 1136.5 1585 1131.2 1591.1 1127.2C1597.2 1123.2 1603.2 1119.1 1609.3 1116.6C1615.4 1114.1 1621.4 1112.7 1627.5 1112C1633.6 1111.4 1641.6 1111.1 1645.7 1112.6C1649.7 1114.2 1649.5 1117.2 1651.7 1121.1C1654 1125.1 1657.6 1131.7 1659.3 1136.3C1661.1 1140.8 1662.4 1143.9 1662.4 1148.4C1662.4 1153 1661.6 1158.5 1659.3 1163.6C1657.1 1168.6 1653 1174.8 1648.7 1178.7C1644.4 1182.7 1639.1 1185.5 1633.6 1187.2C1628 1189 1621.4 1189.8 1615.4 1189.4C1609.3 1189 1603.2 1187.3 1597.2 1184.8C1591.1 1182.3 1584.3 1178 1579 1174.2C1573.7 1170.4 1568.9 1165.6 1565.3 1162.1C1561.8 1158.5 1556.5 1156.5 1557.7 1153Z" fill="#ff3000" stroke="#1c48ff" stroke-width="3.2"/>
<path d="M1770 1090.8C1739.4 1100.9 1768 1102.9 1765.5 1109C1762.9 1115.1 1757.9 1121.1 1754.9 1127.2C1751.8 1133.3 1748.5 1139.8 1747.3 1145.4C1746 1151 1746 1155 1747.3 1160.6C1748.5 1166.1 1752.6 1172.7 1754.9 1178.7C1757.1 1184.8 1760.2 1190.4 1760.9 1196.9C1761.7 1203.5 1761.4 1211.6 1759.4 1218.2C1757.4 1224.7 1753.6 1229.8 1748.8 1236.4C1744 1242.9 1736.7 1250.5 1730.6 1257.6C1724.5 1264.7 1717.7 1271.7 1712.4 1278.8C1707.1 1285.9 1702.3 1293 1698.8 1300.1C1695.2 1307.1 1692.2 1314.2 1691.2 1321.3C1690.2 1328.4 1691.2 1335.4 1692.7 1342.5C1694.2 1349.6 1697 1356.7 1700.3 1363.7C1703.6 1370.8 1707.9 1377.9 1712.4 1385C1716.9 1392 1722.5 1399.6 1727.6 1406.2C1732.6 1412.8 1737.7 1418.3 1742.7 1424.4C1747.8 1430.5 1753.4 1436.8 1757.9 1442.6C1762.3 1448.3 1766.7 1454.7 1769.4 1459C1772.1 1463.2 1771.9 1465 1774 1468.1C1776 1471.1 1777.8 1474.1 1781.5 1477.2C1785.3 1480.2 1791.7 1483.2 1796.7 1486.3C1801.8 1489.3 1806.8 1492.1 1811.9 1495.4C1816.9 1498.6 1822 1502.2 1827 1506C1832.1 1509.8 1837.1 1514.1 1842.2 1518.1C1847.2 1522.1 1852.3 1525.9 1857.4 1530.2C1862.4 1534.5 1868 1539.6 1872.5 1543.9C1877.1 1548.2 1880.9 1552.7 1884.7 1556C1888.4 1559.3 1891.7 1561.3 1895.3 1563.6C1898.8 1565.9 1902.2 1567.6 1905.9 1569.7C1909.6 1571.7 1910.2 1572.9 1917.4 1575.7C1924.6 1578.5 1943.7 1674.2 1948.9 1586.3C1954.2 1498.4 1978.8 1130.9 1948.9 1048.3C1919.1 965.8 1800.6 1080.7 1770 1090.8Z" fill="#fff8a8" stroke="#1c48ff" stroke-width="3.2"/>
<path d="M1859.5 1090.8C1844.3 1100.9 1859 1103.4 1858 1109C1857 1114.6 1856.4 1119.9 1853.4 1124.2C1850.4 1128.5 1845.6 1132 1839.8 1134.8C1834 1137.6 1825.6 1138.8 1818.5 1140.8C1811.5 1142.9 1803.4 1144.1 1797.3 1146.9C1791.2 1149.7 1785.2 1152.7 1782.1 1157.5C1779.1 1162.3 1779.1 1168.6 1779.1 1175.7C1779.1 1182.8 1781.6 1191.9 1782.1 1200C1782.7 1208.1 1783.2 1217.2 1782.1 1224.2C1781.1 1231.3 1779.6 1236.4 1776.1 1242.4C1772.5 1248.5 1766.5 1254.6 1760.9 1260.6C1755.4 1266.7 1748.8 1272.3 1742.7 1278.8C1736.7 1285.4 1729.3 1293.5 1724.5 1300.1C1719.7 1306.6 1716.2 1312.7 1713.9 1318.2C1711.6 1323.8 1710.6 1327.3 1710.9 1333.4C1711.1 1339.5 1713.2 1347.6 1715.4 1354.6C1717.7 1361.7 1721 1368.8 1724.5 1375.9C1728.1 1382.9 1732.1 1390 1736.7 1397.1C1741.2 1404.2 1746.8 1411.8 1751.8 1418.3C1756.9 1424.9 1761.9 1431 1767 1436.5C1772 1442.1 1777.2 1447.9 1782.1 1451.7C1787.1 1455.4 1791.8 1456 1796.7 1459C1801.7 1461.9 1806.8 1466 1811.9 1469.6C1816.9 1473.1 1822 1476.7 1827 1480.2C1832.1 1483.7 1837.1 1487.3 1842.2 1490.8C1847.2 1494.3 1852.3 1497.9 1857.4 1501.4C1862.4 1505 1867.5 1508.5 1872.5 1512C1877.6 1515.6 1882.6 1519.1 1887.7 1522.6C1892.7 1526.2 1897.9 1530.2 1902.8 1533.3C1907.8 1536.3 1909.7 1537.1 1917.4 1540.8C1925.1 1544.6 1943.7 1638.1 1948.9 1556C1954.2 1473.9 1963.9 1125.9 1948.9 1048.3C1934 970.8 1874.6 1080.7 1859.5 1090.8Z" fill="#d8ffff" stroke="#1c48ff" stroke-width="3.2"/>
<path d="M1948.9 1196.9C1943.7 1190.1 1926 1195.9 1917.4 1195.4C1908.8 1194.9 1903.8 1193.9 1897.4 1193.9C1891 1193.9 1883.7 1193.4 1879.2 1195.4C1874.6 1197.5 1872.1 1201.2 1870.1 1206C1868.1 1210.8 1867.1 1218.7 1867.1 1224.2C1867.1 1229.8 1867.1 1235.9 1870.1 1239.4C1873.1 1242.9 1880.2 1244.7 1885.3 1245.5C1890.3 1246.2 1895.1 1244.7 1900.4 1244C1905.8 1243.2 1909.3 1242.2 1917.4 1240.9C1925.5 1239.7 1943.7 1243.7 1948.9 1236.4C1954.2 1229 1954.2 1203.8 1948.9 1196.9Z" fill="#fff8a8" stroke="#1c48ff" stroke-width="3.2"/>
<path d="M1901.9 1090.8C1894.1 1100.9 1901.7 1102.9 1901.9 1109C1902.2 1115.1 1902.4 1121.1 1903.5 1127.2C1904.5 1133.3 1905.7 1140.6 1908 1145.4C1910.3 1150.2 1910.6 1152 1917.4 1156C1924.2 1160 1943.7 1187.6 1948.9 1169.7C1954.2 1151.7 1956.8 1061.5 1948.9 1048.3C1941.1 1035.2 1909.8 1080.7 1901.9 1090.8Z" fill="#98f0f8" stroke="#1c48ff" stroke-width="3.2" stroke-dasharray="9.5 6"/>
<path d="M1948.9 1286.4C1943.7 1246.8 1926.5 1285.4 1917.4 1284.9C1908.3 1284.4 1902.2 1284.4 1894.4 1283.4C1886.5 1282.4 1877.2 1280.8 1870.1 1278.8C1863 1276.8 1857.5 1274.8 1851.9 1271.2C1846.3 1267.7 1841.3 1261.9 1836.7 1257.6C1832.2 1253.3 1828.6 1248 1824.6 1245.5C1820.6 1242.9 1817 1241.9 1812.5 1242.4C1807.9 1242.9 1802.9 1245 1797.3 1248.5C1791.8 1252 1785.2 1258.1 1779.1 1263.7C1773.1 1269.2 1766.5 1275.3 1760.9 1281.9C1755.4 1288.4 1750.1 1296.5 1745.8 1303.1C1741.5 1309.7 1737.2 1315.7 1735.1 1321.3C1733.1 1326.8 1733.1 1330.9 1733.6 1336.4C1734.1 1342 1735.6 1348.1 1738.2 1354.6C1740.7 1361.2 1745 1368.8 1748.8 1375.9C1752.6 1382.9 1756.9 1390.5 1760.9 1397.1C1765 1403.7 1768.5 1409.7 1773.1 1415.3C1777.6 1420.9 1782.7 1425.9 1788.2 1430.5C1793.8 1435 1800.3 1439 1806.4 1442.6C1812.5 1446.1 1819.9 1449 1824.6 1451.7C1829.3 1454.4 1830.4 1456.2 1834.6 1459C1838.8 1461.7 1844.7 1464.8 1849.8 1468.1C1854.8 1471.3 1859.9 1475.4 1864.9 1478.7C1870 1482 1875 1484.7 1880.1 1487.8C1885.2 1490.8 1889 1493.6 1895.3 1496.9C1901.5 1500.2 1908.5 1503.2 1917.4 1507.5C1926.3 1511.8 1943.7 1559.5 1948.9 1522.6C1954.2 1485.8 1954.2 1326 1948.9 1286.4Z" fill="#98f0f8" stroke="#1c48ff" stroke-width="3.2" stroke-dasharray="9.5 6"/>
<path d="M1948.9 1315.2C1943.7 1292 1926.5 1315 1917.4 1315.2C1908.3 1315.5 1901.2 1317 1894.4 1316.7C1887.5 1316.5 1882.2 1315.5 1876.2 1313.7C1870.1 1311.9 1863.5 1309.4 1858 1306.1C1852.4 1302.8 1847.9 1298.3 1842.8 1294C1837.7 1289.7 1832.7 1283.6 1827.6 1280.3C1822.6 1277.1 1817 1274.5 1812.5 1274.3C1807.9 1274 1804.1 1275.5 1800.3 1278.8C1796.6 1282.1 1792.5 1287.9 1789.7 1294C1787 1300.1 1784.9 1307.6 1783.7 1315.2C1782.4 1322.8 1781.9 1331.4 1782.1 1339.5C1782.4 1347.6 1783.4 1355.7 1785.2 1363.7C1787 1371.8 1790.2 1380.4 1792.8 1388C1795.3 1395.6 1796.6 1403.7 1800.3 1409.2C1804.1 1414.8 1809.4 1418.3 1815.5 1421.4C1821.6 1424.4 1829.7 1424.9 1836.7 1427.4C1843.8 1430 1850.9 1433.5 1858 1436.5C1865 1439.6 1872.1 1443.1 1879.2 1445.6C1886.3 1448.1 1894.1 1450.4 1900.4 1451.7C1906.8 1452.9 1909.3 1452.7 1917.4 1453.2C1925.5 1453.7 1943.7 1477.7 1948.9 1454.7C1954.2 1431.7 1954.2 1338.5 1948.9 1315.2Z" fill="#80dcfc" stroke="#1c48ff" stroke-width="3.2" stroke-dasharray="9.5 6"/>
<path d="M1415.2 1477.2C1425.3 1413.5 1427.8 1472.9 1433.4 1471.1C1439 1469.3 1443 1467.6 1448.6 1466.5C1454.1 1465.5 1461.7 1464.8 1466.8 1465C1471.8 1465.3 1474.3 1466.3 1478.9 1468.1C1483.4 1469.8 1489 1472.9 1494.1 1475.6C1499.1 1478.4 1504.2 1482 1509.2 1484.7C1514.3 1487.5 1519.3 1490.1 1524.4 1492.3C1529.4 1494.5 1534.5 1496.3 1539.5 1497.8C1544.6 1499.3 1549.6 1499.5 1554.7 1501.4C1559.8 1503.3 1564.8 1506.2 1569.9 1509C1574.9 1511.8 1580 1515.6 1585 1518.1C1590.1 1520.6 1595.1 1522.6 1600.2 1524.2C1605.2 1525.7 1610.3 1526.5 1615.4 1527.2C1620.4 1527.9 1626 1527.6 1630.5 1528.1C1635.1 1528.6 1638.9 1528.1 1642.6 1530.2C1646.4 1532.4 1649.7 1536.8 1653.3 1540.8C1656.8 1544.9 1660.2 1550.7 1663.9 1554.5C1667.6 1558.3 1671 1560.3 1675.4 1563.6C1679.8 1566.9 1685.5 1570.7 1690.6 1574.2C1695.6 1577.7 1700.7 1581.3 1705.7 1584.8C1710.8 1588.4 1715.8 1591.9 1720.9 1595.4C1725.9 1599 1731 1602.5 1736.1 1606C1741.1 1609.6 1746.2 1613.1 1751.2 1616.7C1756.3 1620.2 1762.3 1624.4 1766.4 1627.3C1770.4 1630.2 1771.4 1631.6 1775.5 1633.9C1779.5 1636.3 1784.6 1639 1790.6 1641.5C1796.7 1644.1 1804.5 1646.6 1811.9 1649.1C1819.2 1651.6 1827.5 1653.9 1834.6 1656.7C1841.7 1659.5 1848.5 1662.5 1854.3 1665.8C1860.1 1669.1 1864.7 1673.1 1869.5 1676.4C1874.3 1679.7 1878.3 1683.2 1883.1 1685.5C1887.9 1687.8 1892.6 1688.9 1898.3 1690C1904 1691.2 1909 1691.8 1917.4 1692.5C1925.8 1693.1 1943.7 1667.2 1948.9 1694C1954.2 1720.8 2045 1826.7 1948.9 1853.2C1852.9 1879.7 1461.7 1915.9 1372.7 1853.2C1283.8 1790.5 1405.1 1540.8 1415.2 1477.2Z" fill="#fff8a8" stroke="#1c48ff" stroke-width="3.2"/>
<path d="M1415.2 1499.9C1425.3 1441.8 1427.8 1502.9 1433.4 1504.5C1439 1506 1443.5 1507.6 1448.6 1509C1453.6 1510.4 1458.7 1511.8 1463.7 1512.9C1468.8 1514.1 1473.8 1515.1 1478.9 1516C1483.9 1516.8 1489 1517.7 1494.1 1518.1C1499.1 1518.5 1504.2 1518.2 1509.2 1518.1C1514.3 1518 1519.3 1517 1524.4 1517.5C1529.4 1518 1535.5 1519.3 1539.5 1521.1C1543.6 1523 1545.4 1525.7 1548.6 1528.7C1551.9 1531.7 1555.7 1536.5 1559.3 1539.3C1562.8 1542.1 1565.6 1543.9 1569.9 1545.4C1574.2 1546.9 1580 1547.8 1585 1548.4C1590.1 1549.1 1595.1 1549.1 1600.2 1549.3C1605.2 1549.6 1610.3 1549.6 1615.4 1549.9C1620.4 1550.3 1626 1550.7 1630.5 1551.5C1635.1 1552.2 1639.1 1552.5 1642.6 1554.5C1646.2 1556.5 1648.7 1560.8 1651.7 1563.6C1654.8 1566.4 1656.9 1567.6 1660.8 1571.2C1664.8 1574.7 1670.4 1580.8 1675.4 1584.8C1680.4 1588.9 1685.5 1591.6 1690.6 1595.4C1695.6 1599.2 1700.7 1603.8 1705.7 1607.6C1710.8 1611.4 1715.8 1614.9 1720.9 1618.2C1725.9 1621.5 1731.8 1624.6 1736.1 1627.3C1740.3 1629.9 1742.6 1631.3 1746.7 1633.9C1750.7 1636.6 1755 1639.3 1760.3 1643C1765.6 1646.8 1772.4 1652.9 1778.5 1656.7C1784.6 1660.5 1791.1 1663 1796.7 1665.8C1802.3 1668.6 1806.8 1670.6 1811.9 1673.4C1816.9 1676.1 1822 1678.9 1827 1682.5C1832.1 1686 1837.1 1690.8 1842.2 1694.6C1847.2 1698.4 1852.3 1701.9 1857.4 1705.2C1862.4 1708.5 1867.5 1711.5 1872.5 1714.3C1877.6 1717.1 1882.6 1719.5 1887.7 1721.9C1892.7 1724.3 1897.9 1726.6 1902.8 1728.9C1907.8 1731.1 1909.7 1732 1917.4 1735.5C1925.1 1739.1 1943.7 1730.5 1948.9 1750.1C1954.2 1769.7 2045 1836 1948.9 1853.2C1852.9 1870.4 1461.7 1912.1 1372.7 1853.2C1283.8 1794.3 1405.1 1558 1415.2 1499.9Z" fill="#d8ffff" stroke="#1c48ff" stroke-width="3.2"/>
<path d="M1415.2 1516.6C1425.3 1461.2 1427.8 1519.6 1433.4 1521.1C1439 1522.6 1443.5 1523.9 1448.6 1525.7C1453.6 1527.4 1458.7 1529.5 1463.7 1531.7C1468.8 1534 1473.8 1536.9 1478.9 1539.3C1483.9 1541.8 1489.5 1544.9 1494.1 1546.3C1498.6 1547.7 1501.6 1547.8 1506.2 1547.8C1510.7 1547.8 1516.3 1546.6 1521.3 1546.3C1526.4 1546 1532 1545.4 1536.5 1546.3C1541.1 1547.2 1544.3 1549.3 1548.6 1551.5C1552.9 1553.6 1557.5 1556.5 1562.3 1559C1567.1 1561.6 1572.4 1564.3 1577.4 1566.6C1582.5 1568.9 1587.6 1571.3 1592.6 1572.7C1597.7 1574.1 1602.7 1574.7 1607.8 1575.1C1612.8 1575.5 1617.9 1575 1622.9 1575.1C1628 1575.2 1633.8 1574.6 1638.1 1575.7C1642.4 1576.8 1645.4 1579.3 1648.7 1581.8C1652 1584.3 1654.8 1588.1 1657.8 1590.9C1660.8 1593.7 1664 1596.2 1666.9 1598.5C1669.8 1600.7 1671.5 1602.3 1675.4 1604.5C1679.3 1606.8 1685.5 1609.1 1690.6 1612.1C1695.6 1615.1 1700.3 1619.1 1705.7 1622.7C1711.1 1626.4 1718 1630.3 1723 1633.9C1728.1 1637.6 1731.4 1640.8 1736.1 1644.6C1740.8 1648.3 1746.2 1652.6 1751.2 1656.7C1756.3 1660.7 1761.3 1665 1766.4 1668.8C1771.4 1672.6 1776.5 1675.6 1781.5 1679.4C1786.6 1683.2 1791.7 1687.5 1796.7 1691.6C1801.8 1695.6 1806.8 1699.6 1811.9 1703.7C1816.9 1707.7 1822 1711.5 1827 1715.8C1832.1 1720.1 1837.1 1724.9 1842.2 1729.5C1847.2 1734 1852.3 1739.1 1857.4 1743.1C1862.4 1747.2 1867.5 1750.4 1872.5 1753.7C1877.6 1757 1882.6 1759.9 1887.7 1762.8C1892.7 1765.8 1897.9 1768.8 1902.8 1771.3C1907.8 1773.8 1909.7 1774.5 1917.4 1778C1925.1 1781.5 1943.7 1780 1948.9 1792.5C1954.2 1805.1 2045 1843.1 1948.9 1853.2C1852.9 1863.3 1461.7 1909.3 1372.7 1853.2C1283.8 1797.1 1405.1 1571.9 1415.2 1516.6Z" fill="#98f0f8" stroke="#1c48ff" stroke-width="3.2" stroke-dasharray="9.5 6"/>
<path d="M1415.2 1531.7C1418.2 1494.1 1427.8 1535.8 1433.4 1537.8C1439 1539.8 1443.5 1541.9 1448.6 1543.9C1453.6 1545.9 1458.7 1547.9 1463.7 1549.9C1468.8 1552 1473.8 1554.2 1478.9 1556C1483.9 1557.8 1489 1559.3 1494.1 1560.6C1499.1 1561.8 1504.2 1562.8 1509.2 1563.6C1514.3 1564.3 1519.3 1564.1 1524.4 1565.1C1529.4 1566.1 1534.5 1567.9 1539.5 1569.7C1544.6 1571.4 1549.6 1573.7 1554.7 1575.7C1559.8 1577.7 1564.8 1579.5 1569.9 1581.8C1574.9 1584.1 1580 1587.1 1585 1589.4C1590.1 1591.6 1595.1 1593.8 1600.2 1595.4C1605.2 1597.1 1610.3 1598.5 1615.4 1599.4C1620.4 1600.3 1626 1600 1630.5 1600.9C1635.1 1601.7 1638.9 1602.9 1642.6 1604.5C1646.4 1606.1 1649.7 1608.1 1653.3 1610.6C1656.8 1613.1 1660.2 1617.2 1663.9 1619.7C1667.6 1622.2 1671.2 1623.4 1675.4 1625.8C1679.6 1628.1 1684 1630.6 1689 1633.9C1694.1 1637.3 1700.4 1642 1705.7 1646.1C1711 1650.1 1715.8 1654.4 1720.9 1658.2C1725.9 1662 1731 1665 1736.1 1668.8C1741.1 1672.6 1746.2 1676.4 1751.2 1680.9C1756.3 1685.5 1761.3 1691.1 1766.4 1696.1C1771.4 1701.2 1776.5 1706.2 1781.5 1711.3C1786.6 1716.3 1792.7 1721.1 1796.7 1726.4C1800.7 1731.7 1802.8 1737.8 1805.8 1743.1C1808.8 1748.4 1811.9 1753.7 1814.9 1758.3C1817.9 1762.8 1821 1766.4 1824 1770.4C1827 1774.5 1830.1 1778.2 1833.1 1782.5C1836.1 1786.8 1839.2 1792.4 1842.2 1796.2C1845.2 1800 1848.8 1803.1 1851.3 1805.3C1853.8 1807.5 1855.2 1806.6 1857.4 1809.5C1859.5 1812.5 1875.6 1820.7 1864 1822.9C1852.5 1825.1 1800.4 1825.2 1788.2 1822.9C1776 1820.5 1791.2 1811.9 1790.6 1808.9C1790 1806 1788.6 1806.9 1784.6 1805.3C1780.5 1803.7 1772.4 1801 1766.4 1799.2C1760.3 1797.5 1754.5 1796.3 1748.2 1794.7C1741.9 1793.1 1735 1790.8 1728.5 1789.5C1721.9 1788.3 1715.1 1787.2 1708.8 1787.1C1702.4 1786.9 1696.1 1787.6 1690.6 1788.6C1685 1789.6 1680.4 1792 1675.4 1793.2C1670.4 1794.3 1665.8 1794.8 1660.8 1795.6C1655.9 1796.3 1650.7 1797.2 1645.7 1797.7C1640.6 1798.2 1635.6 1798.5 1630.5 1798.6C1625.5 1798.8 1620.4 1798.8 1615.4 1798.6C1610.3 1798.5 1605.2 1798.2 1600.2 1797.7C1595.1 1797.2 1590.1 1796.6 1585 1795.6C1580 1794.6 1574.9 1793.1 1569.9 1791.6C1564.8 1790.2 1559.8 1788.9 1554.7 1787.1C1549.6 1785.3 1544.6 1783 1539.5 1781C1534.5 1779 1528.9 1777 1524.4 1775C1519.8 1772.9 1516 1770.7 1512.2 1768.9C1508.5 1767.1 1507.2 1765.2 1501.6 1764.3C1496.1 1763.5 1486.5 1763.8 1478.9 1763.7C1471.3 1763.6 1463.2 1763.7 1456.1 1763.7C1449.1 1763.7 1443.3 1763.7 1436.4 1763.7C1429.6 1763.7 1418.7 1802.4 1415.2 1763.7C1411.7 1725.1 1412.2 1569.4 1415.2 1531.7Z" fill="#80dcfc" stroke="#1c48ff" stroke-width="3.2" stroke-dasharray="9.5 6"/>
<path d="M1415.2 1548.4C1418.2 1524.7 1427.8 1551.5 1433.4 1553C1439 1554.5 1443.5 1555.8 1448.6 1557.5C1453.6 1559.3 1458.7 1561.6 1463.7 1563.6C1468.8 1565.6 1473.8 1567.4 1478.9 1569.7C1483.9 1571.9 1489 1575 1494.1 1577.2C1499.1 1579.5 1504.2 1581.5 1509.2 1583.3C1514.3 1585.1 1519.3 1586.1 1524.4 1587.8C1529.4 1589.6 1534.5 1591.9 1539.5 1593.9C1544.6 1595.9 1549.6 1598 1554.7 1600C1559.8 1602 1564.8 1604 1569.9 1606C1574.9 1608.1 1580 1610.1 1585 1612.1C1590.1 1614.1 1595.1 1616.4 1600.2 1618.2C1605.2 1619.9 1610.3 1621.2 1615.4 1622.7C1620.4 1624.2 1625.7 1625.4 1630.5 1627.3C1635.3 1629.1 1640.4 1631.3 1644.2 1633.9C1648 1636.6 1650 1639.8 1653.3 1643C1656.5 1646.3 1660.2 1650.1 1663.9 1653.7C1667.6 1657.2 1671.5 1661.5 1675.4 1664.3C1679.3 1667 1683.7 1668.3 1687.5 1670.3C1691.3 1672.4 1695.4 1673.4 1698.1 1676.4C1700.9 1679.4 1702.7 1684.2 1704.2 1688.5C1705.7 1692.8 1706 1698.1 1707.2 1702.2C1708.5 1706.2 1710.2 1709.9 1711.8 1712.8C1713.4 1715.7 1716.9 1717.7 1716.9 1719.8C1716.9 1721.8 1714.9 1722.8 1711.8 1724.9C1708.7 1727 1702.7 1730.2 1698.1 1732.5C1693.6 1734.8 1688.3 1737 1684.5 1738.6C1680.7 1740.1 1679.3 1739.9 1675.4 1741.9C1671.5 1743.9 1665.8 1748 1660.8 1750.7C1655.9 1753.4 1650.7 1756.3 1645.7 1758.3C1640.6 1760.3 1635.6 1761.7 1630.5 1762.8C1625.5 1764 1620.4 1765 1615.4 1765.3C1610.3 1765.5 1605.2 1765 1600.2 1764.3C1595.1 1763.7 1590.1 1762.6 1585 1761.3C1580 1760 1574.9 1758.4 1569.9 1756.8C1564.8 1755.1 1559.8 1753.2 1554.7 1751.6C1549.6 1750 1544.6 1748.6 1539.5 1747.1C1534.5 1745.5 1529.4 1744.2 1524.4 1742.5C1519.3 1740.8 1514.3 1738.7 1509.2 1737.1C1504.2 1735.4 1499.1 1734 1494.1 1732.5C1489 1731 1483.9 1729.7 1478.9 1728C1473.8 1726.2 1468.8 1724.4 1463.7 1721.9C1458.7 1719.4 1453.1 1715.6 1448.6 1712.8C1444 1710 1442 1708.1 1436.4 1705.2C1430.9 1702.3 1418.7 1721.6 1415.2 1695.5C1411.7 1669.4 1412.2 1572.2 1415.2 1548.4Z" fill="#48b4f8" stroke="#1c48ff" stroke-width="3.2" stroke-dasharray="9.5 6"/>
<path d="M1415.2 1563.6C1418.2 1547.2 1427.8 1565.6 1433.4 1566.6C1439 1567.6 1443.5 1568.4 1448.6 1569.7C1453.6 1570.9 1458.7 1572.2 1463.7 1574.2C1468.8 1576.2 1473.8 1579 1478.9 1581.8C1483.9 1584.6 1489 1587.8 1494.1 1590.9C1499.1 1593.9 1504.2 1596.9 1509.2 1600C1514.3 1603 1519.3 1606.3 1524.4 1609.1C1529.4 1611.9 1534.5 1614.4 1539.5 1616.7C1544.6 1618.9 1549.6 1621 1554.7 1622.7C1559.8 1624.5 1564.8 1625.8 1569.9 1627.3C1574.9 1628.8 1580.7 1630.7 1585 1631.8C1589.3 1632.9 1591.9 1631.6 1595.6 1633.9C1599.4 1636.3 1604 1641.8 1607.8 1646.1C1611.6 1650.4 1615.4 1655.4 1618.4 1659.7C1621.4 1664 1624.3 1667.8 1626 1671.9C1627.6 1675.9 1628.4 1679.7 1628.4 1684C1628.4 1688.3 1627.1 1693.1 1626 1697.6C1624.8 1702.2 1623.4 1707.2 1621.4 1711.3C1619.4 1715.3 1617.4 1719.6 1613.8 1721.9C1610.3 1724.2 1605 1724.2 1600.2 1724.9C1595.4 1725.7 1590.1 1726.3 1585 1726.4C1580 1726.6 1574.9 1726.3 1569.9 1725.8C1564.8 1725.3 1559.8 1724.4 1554.7 1723.4C1549.6 1722.4 1544.6 1721 1539.5 1719.8C1534.5 1718.5 1529.4 1717.2 1524.4 1715.8C1519.3 1714.4 1514.3 1712.8 1509.2 1711.3C1504.2 1709.8 1499.1 1708.5 1494.1 1706.7C1489 1705 1483.9 1702.9 1478.9 1700.7C1473.8 1698.4 1468.8 1695.9 1463.7 1693.1C1458.7 1690.3 1453.1 1686.8 1448.6 1684C1444 1681.2 1442 1679.5 1436.4 1676.4C1430.9 1673.3 1418.7 1684 1415.2 1665.2C1411.7 1646.4 1412.2 1580 1415.2 1563.6Z" fill="#0890f0" stroke="#1c48ff" stroke-width="3.2" stroke-dasharray="9.5 6"/>
<path d="M1415.2 1579.7C1418.2 1568.5 1427.8 1579.9 1433.4 1580.3C1439 1580.6 1443.5 1581 1448.6 1581.8C1453.6 1582.5 1458.7 1583 1463.7 1584.8C1468.8 1586.6 1473.8 1589.4 1478.9 1592.4C1483.9 1595.4 1489.5 1599.5 1494.1 1603C1498.6 1606.5 1502.1 1610.3 1506.2 1613.6C1510.2 1616.9 1514 1619.9 1518.3 1622.7C1522.6 1625.5 1528.2 1628.4 1532 1630.3C1535.8 1632.2 1537.3 1631.3 1541.1 1633.9C1544.8 1636.6 1550.7 1641.8 1554.7 1646.1C1558.7 1650.4 1562.5 1655.2 1565.3 1659.7C1568.1 1664.3 1570.9 1669.6 1571.4 1673.4C1571.9 1677.2 1570.6 1680.2 1568.4 1682.5C1566.1 1684.7 1562 1685.8 1557.7 1687C1553.4 1688.3 1547.6 1689.4 1542.6 1690C1537.5 1690.7 1532.5 1691.1 1527.4 1691C1522.4 1690.9 1517.3 1690.6 1512.2 1689.4C1507.2 1688.3 1502.1 1685.9 1497.1 1684C1492 1682.1 1487 1680.2 1481.9 1677.9C1476.9 1675.6 1471.8 1673.1 1466.8 1670.3C1461.7 1667.6 1456.6 1663.8 1451.6 1661.2C1446.5 1658.7 1442.5 1657.5 1436.4 1655.2C1430.4 1652.8 1418.7 1659.6 1415.2 1647C1411.7 1634.4 1412.2 1590.8 1415.2 1579.7Z" fill="#0870e0" stroke="#1c48ff" stroke-width="3.2" stroke-dasharray="9.5 6"/>
<path d="M1441 1633.9C1441 1630.1 1445.3 1625.9 1448.6 1622.7C1451.8 1619.6 1456.9 1616.7 1460.7 1615.1C1464.5 1613.6 1467.8 1613.1 1471.3 1613.6C1474.8 1614.1 1478.1 1615.9 1481.9 1618.2C1485.7 1620.4 1490.6 1624.6 1494.1 1627.3C1497.5 1629.9 1503 1631.3 1502.5 1633.9C1502 1636.6 1496.2 1640.6 1491 1643C1485.8 1645.5 1478.4 1648 1471.3 1648.5C1464.2 1649 1453.6 1648.5 1448.6 1646.1C1443.5 1643.6 1441 1637.8 1441 1633.9Z" fill="#0850c0" stroke="#1c48ff" stroke-width="3.2" stroke-dasharray="9.5 6"/>
<path d="M1622.6 1110.5L1621.1 1129.3L1627.5 1127.8L1632.3 1136L1634.8 1114.8L1639 1112.6L1660.2 1112.6L1661.8 1121.1L1658.4 1134.2L1662.7 1132.7L1664.2 1122.9L1671.5 1119.6L1678.1 1120.5L1687.8 1126.3L1697.5 1129.3L1703.3 1131.1L1704.2 1136L1712.4 1135.1L1714.8 1142.4L1717.3 1150.5L1716.3 1157.2L1723.6 1153.9L1730.3 1151.5L1736.7 1152.4L1743.3 1156.3L1749.7 1157.2L1756.4 1160.3L1764.6 1161.2L1770.9 1157.8L1777.6 1157.5L1782.5 1162.1L1790.6 1168.4L1798.5 1176.6L1806.7 1184.8L1813.4 1191.2L1818.2 1196.3L1824.6 1198.8L1832.8 1198.2L1837.6 1196.3L1842.5 1200.3L1845.2 1209.4L1847.7 1219.1L1850.1 1232.1L1851 1244L1848.3 1260.6L1839.8 1275.8L1827.6 1291L1818.5 1303.1L1812.5 1318.2L1803.4 1333.4L1794.3 1342.5L1792.8 1360.7L1794.3 1381.9L1792.8 1400.1L1791.2 1415.3L1786.7 1427.4L1785.2 1442.6L1779.1 1454.7L1777.6 1459L1773.1 1468.1L1767 1480.2L1765.5 1490.8L1751.8 1502.9L1750.3 1509L1733.6 1512L1718.5 1511.1L1715.4 1515.1L1709.4 1516.6L1706.3 1522.6L1694.2 1527.2L1682.1 1537.8L1669.9 1549.9L1660.8 1560.6L1660.2 1580.3L1659.3 1604.5L1648.7 1616.7L1639.6 1631.8L1633.6 1647L1624.5 1662.1L1609.3 1675.8L1603.2 1689.4L1591.1 1701.6L1586.5 1710.7L1575.9 1718.2L1560.8 1718.2L1545.6 1715.2L1533.5 1710.7L1525.9 1704.6L1522.9 1710.7L1527.4 1716.7L1536.5 1722.8L1541.1 1727.3L1539.5 1738L1542.6 1744L1548.6 1750.1L1545.6 1759.2L1538 1771.3L1533.5 1777.4L1518.3 1785L1494.1 1790.1L1472.8 1792.5L1469.8 1788L1469.8 1795.6L1474.3 1801.6L1472.8 1810.7" fill="none" stroke="#161616" stroke-width="1.75" stroke-linejoin="round"/>
</g>
<rect x="1432.9" y="1108.9" width="484.9" height="700.8" fill="none" stroke="#000" stroke-width="6.4"/>
<path d="M1420.9 1109H1433.4" stroke="#000" stroke-width="3" fill="none"/>
<text y="1124" font-size="39" font-weight="normal" stroke="#000" stroke-width="1.0"><tspan x="1367.9" textLength="43" lengthAdjust="spacingAndGlyphs">EQ</tspan></text>
<path d="M1420.9 1284H1433.4" stroke="#000" stroke-width="3" fill="none"/>
<text y="1299" font-size="39" font-weight="normal" stroke="#000" stroke-width="1.0"><tspan x="1350.9" textLength="60" lengthAdjust="spacingAndGlyphs">10S</tspan></text>
<path d="M1420.9 1459H1433.4" stroke="#000" stroke-width="3" fill="none"/>
<text y="1474" font-size="39" font-weight="normal" stroke="#000" stroke-width="1.0"><tspan x="1350.9" textLength="60" lengthAdjust="spacingAndGlyphs">20S</tspan></text>
<path d="M1420.9 1634H1433.4" stroke="#000" stroke-width="3" fill="none"/>
<text y="1649" font-size="39" font-weight="normal" stroke="#000" stroke-width="1.0"><tspan x="1350.9" textLength="60" lengthAdjust="spacingAndGlyphs">30S</tspan></text>
<path d="M1420.9 1809H1433.4" stroke="#000" stroke-width="3" fill="none"/>
<text y="1824" font-size="39" font-weight="normal" stroke="#000" stroke-width="1.0"><tspan x="1350.9" textLength="60" lengthAdjust="spacingAndGlyphs">40S</tspan></text>
<path d="M1502.5 1809V1822" stroke="#000" stroke-width="3.2" fill="none"/>
<text y="1855.3" font-size="39" font-weight="normal" stroke="#000" stroke-width="1.0"><tspan x="1470.5" textLength="64" lengthAdjust="spacingAndGlyphs">60W</tspan></text>
<path d="M1640.8 1809V1822" stroke="#000" stroke-width="3.2" fill="none"/>
<text y="1855.3" font-size="39" font-weight="normal" stroke="#000" stroke-width="1.0"><tspan x="1608.8" textLength="64" lengthAdjust="spacingAndGlyphs">50W</tspan></text>
<path d="M1779.1 1809V1822" stroke="#000" stroke-width="3.2" fill="none"/>
<text y="1855.3" font-size="39" font-weight="normal" stroke="#000" stroke-width="1.0"><tspan x="1747.1" textLength="64" lengthAdjust="spacingAndGlyphs">40W</tspan></text>
<path d="M1917.4 1809V1822" stroke="#000" stroke-width="3.2" fill="none"/>
<text y="1855.3" font-size="39" font-weight="normal" stroke="#000" stroke-width="1.0"><tspan x="1885.4" textLength="64" lengthAdjust="spacingAndGlyphs">30W</tspan></text>
</g>
<g id="panel-g">
<clipPath id="c6"><rect x="98.5" y="1991.5" width="487" height="701.5"/></clipPath>
<rect x="98.5" y="1991.5" width="487" height="701.5" fill="#fff8a8"/>
<g clip-path="url(#c6)" stroke-linejoin="round">
<path d="M363.8 1973.8C417.2 1983.9 361.8 1986.4 359.3 1992C356.8 1997.6 352.5 2002.1 348.7 2007.2C344.9 2012.2 339.8 2017.3 336.5 2022.3C333.3 2027.4 330.5 2031.4 329 2037.5C327.4 2043.6 326.9 2051.1 327.4 2058.7C328 2066.3 329.5 2074.9 332 2083C334.5 2091.1 338.8 2099.7 342.6 2107.2C346.4 2114.8 350.7 2121.9 354.7 2128.5C358.8 2135 362.3 2141.9 366.9 2146.7C371.4 2151.5 377 2154.7 382 2157.3C387.1 2159.8 392.1 2160.1 397.2 2161.8C402.2 2163.6 407.8 2164.4 412.4 2167.9C416.9 2171.4 420.4 2177.5 424.5 2183.1C428.5 2188.6 432.1 2196.2 436.6 2201.2C441.2 2206.3 446.2 2209.3 451.8 2213.4C457.3 2217.4 464.4 2221.5 470 2225.5C475.5 2229.6 481.1 2233.1 485.1 2237.6C489.2 2242.2 493.5 2247.7 494.2 2252.8C495 2257.9 492.7 2263.9 489.7 2268C486.7 2272 481.3 2275.5 476 2277.1C470.7 2278.6 464.9 2278.3 457.8 2277.1C450.8 2275.8 441.7 2272.3 433.6 2269.5C425.5 2266.7 416.9 2263.4 409.3 2260.4C401.7 2257.4 394.2 2254.6 388.1 2251.3C382 2248 378.5 2243.5 372.9 2240.7C367.4 2237.9 360.3 2237.1 354.7 2234.6C349.2 2232.1 344.6 2229.6 339.6 2225.5C334.5 2221.5 329 2215.9 324.4 2210.3C319.9 2204.8 316.8 2197.2 312.3 2192.2C307.7 2187.1 303.2 2183.3 297.1 2180C291.1 2176.7 283.5 2173.7 275.9 2172.4C268.3 2171.2 259.7 2171.7 251.6 2172.4C243.5 2173.2 235 2175.5 227.4 2177C219.8 2178.5 212.7 2181.5 206.1 2181.5C199.6 2181.5 195 2179.8 187.9 2177C180.9 2174.2 171.8 2168.4 163.7 2164.9C155.6 2161.3 147 2157.8 139.4 2155.8C131.8 2153.7 124.8 2153.2 118.2 2152.7C111.6 2152.2 106.1 2152.7 100 2152.7C93.9 2152.7 91.9 2189.6 81.8 2152.7C71.7 2115.8 -7.7 1961.2 39.3 1931.3C86.4 1901.5 310.5 1963.7 363.8 1973.8Z" fill="#ffe468" stroke="#1c48ff" stroke-width="3.2"/>
<path d="M292.6 1973.8C334.3 1983.9 290.8 1985.9 289.5 1992C288.3 1998.1 286.5 2003.1 285 2010.2C283.5 2017.3 281.5 2026.4 280.4 2034.5C279.4 2042.5 279.4 2051.1 278.9 2058.7C278.4 2066.3 278.4 2074.4 277.4 2079.9C276.4 2085.5 276.1 2088.8 272.9 2092.1C269.6 2095.4 263.3 2097.4 257.7 2099.7C252.1 2101.9 245.6 2102.9 239.5 2105.7C233.4 2108.5 227.4 2113.1 221.3 2116.3C215.2 2119.6 210.2 2123.2 203.1 2125.4C196 2127.7 187.4 2129 178.8 2130C170.3 2131 160.1 2131.5 151.6 2131.5C143 2131.5 135.9 2131 127.3 2130C118.7 2129 107.6 2126.7 100 2125.4C92.4 2124.2 91.9 2154.7 81.8 2122.4C71.7 2090.1 4.2 1956.1 39.3 1931.3C74.5 1906.6 250.9 1963.7 292.6 1973.8Z" fill="#ffc028" stroke="#1c48ff" stroke-width="3.2"/>
<path d="M224.3 1973.8C255.4 1983.9 224.8 1985.9 225.9 1992C226.9 1998.1 229.4 2004.1 230.4 2010.2C231.4 2016.3 232.9 2022.8 231.9 2028.4C230.9 2034 227.6 2039.3 224.3 2043.6C221.1 2047.9 216.8 2051.5 212.2 2054.2C207.7 2056.8 202.6 2058.6 197 2059.3C191.5 2060.1 185.4 2059.4 178.8 2058.7C172.3 2058 164.7 2055.8 157.6 2055.1C150.5 2054.3 143 2053.1 136.4 2054.2C129.8 2055.3 124.3 2058.7 118.2 2061.7C112.1 2064.8 106.1 2068.8 100 2072.4C93.9 2075.9 91.9 2106.5 81.8 2083C71.7 2059.5 15.6 1949.5 39.3 1931.3C63.1 1913.2 193.3 1963.7 224.3 1973.8Z" fill="#ffa000" stroke="#1c48ff" stroke-width="3.2"/>
<path d="M445.7 2055.7C450.3 2055.9 455.8 2057.7 460.9 2060.2C465.9 2062.8 472.8 2067.1 476 2070.8C479.3 2074.6 481.1 2078.4 480.6 2083C480.1 2087.5 476.3 2093.6 473 2098.1C469.7 2102.7 465.2 2107.3 460.9 2110.3C456.6 2113.2 451.8 2116 447.2 2115.7C442.7 2115.5 437.9 2112.2 433.6 2108.8C429.3 2105.3 424.6 2099.9 421.5 2095.1C418.3 2090.3 414.8 2084.5 414.8 2079.9C414.8 2075.4 418.3 2071.4 421.5 2067.8C424.6 2064.3 429.5 2060.7 433.6 2058.7C437.6 2056.7 441.2 2055.4 445.7 2055.7Z" fill="#d8ffff" stroke="#1c48ff" stroke-width="3.2"/>
<path d="M512.4 2071.5L523 2078.4L513.9 2084.5Z" fill="none" stroke="#1c48ff" stroke-width="3.2"/>
<path d="M506.4 1982.9C496.8 1984.4 506.4 1989.6 509.4 1992C512.4 1994.4 518.5 1996.4 524.6 1997.5C530.6 1998.5 539.2 1999 545.8 1998.1C552.4 1997.2 560.4 1994.5 564 1992C567.5 1989.5 576.6 1984.4 567 1982.9C557.4 1981.4 516 1981.4 506.4 1982.9Z" fill="#d8ffff" stroke="#1c48ff" stroke-width="3.2"/>
<path d="M615.5 2143.6C610.3 2106.5 592.6 2161.3 584 2167.9C575.4 2174.5 570.9 2178 564 2183.1C557.1 2188.1 548.8 2193.9 542.8 2198.2C536.7 2202.5 530.1 2203.8 527.6 2208.8C525.1 2213.9 526.8 2221.2 527.6 2228.5C528.4 2235.9 530.6 2244.7 532.1 2252.8C533.7 2260.9 535.2 2269 536.7 2277.1C538.2 2285.2 539.7 2293.2 541.2 2301.3C542.8 2309.4 544 2318.6 545.8 2325.6C547.6 2332.6 549.3 2338.7 551.9 2343.5C554.4 2348.2 557.4 2350.6 561 2354.1C564.5 2357.6 569.2 2361.7 573.1 2364.7C576.9 2367.7 576.9 2368 584 2372.3C591.1 2376.6 610.3 2428.6 615.5 2390.5C620.8 2352.4 620.8 2180.7 615.5 2143.6Z" fill="#d8ffff" stroke="#1c48ff" stroke-width="3.2"/>
<path d="M615.5 2222.5C610.3 2215.4 590.6 2228 584 2231.6C577.4 2235.1 577.4 2239.2 576.1 2243.7C574.8 2248.3 574.8 2254.8 576.1 2258.9C577.4 2262.9 577.4 2265.4 584 2268C590.6 2270.5 610.3 2281.6 615.5 2274C620.8 2266.5 620.8 2229.6 615.5 2222.5Z" fill="#98f0f8" stroke="#1c48ff" stroke-width="3.2" stroke-dasharray="9.5 6"/>
<path d="M615.5 2448.1C610.3 2443 590.6 2451.6 584 2454.2C577.4 2456.7 577.4 2460.2 576.1 2463.3C574.8 2466.3 574.8 2469.8 576.1 2472.4C577.4 2474.9 577.4 2476.4 584 2478.4C590.6 2480.5 610.3 2489.5 615.5 2484.5C620.8 2479.4 620.8 2453.2 615.5 2448.1Z" fill="#ffe468" stroke="#1c48ff" stroke-width="3.2"/>
<path d="M81.8 2195.2C91.9 2105 93.9 2195.1 100 2195.2C106.1 2195.3 111.6 2195 118.2 2195.8C124.8 2196.5 132.9 2197.8 139.4 2199.7C146 2201.7 153.5 2204 157.6 2207.3C161.8 2210.6 163.3 2213.9 164.3 2219.4C165.3 2225 163.7 2235.1 163.7 2240.7C163.7 2246.2 163.5 2249.5 164.3 2252.8C165 2256.1 165.8 2260.9 168.2 2260.4C170.7 2259.9 174 2253.1 178.8 2249.8C183.6 2246.5 191 2243.2 197 2240.7C203.1 2238.1 209.2 2235.9 215.2 2234.6C221.3 2233.3 227.4 2232.6 233.4 2233.1C239.5 2233.6 245.6 2235.1 251.6 2237.6C257.7 2240.2 263.8 2244.7 269.8 2248.3C275.9 2251.8 280.9 2255.1 288 2258.9C295.1 2262.7 304.2 2267.2 312.3 2271C320.4 2274.8 328.5 2278.6 336.5 2281.6C344.6 2284.6 352.2 2286.9 360.8 2289.2C369.4 2291.5 380 2293.5 388.1 2295.3C396.2 2297 403.8 2297.3 409.3 2299.8C414.9 2302.3 417.4 2306.1 421.5 2310.4C425.5 2314.7 429.5 2321 433.6 2325.6C437.6 2330.1 442.7 2334.7 445.7 2337.7C448.7 2340.7 450.3 2339.7 451.8 2343.5C453.3 2347.2 453.8 2354.3 454.8 2360.2C455.8 2366 455.8 2373 457.8 2378.4C459.9 2383.7 462.9 2387.5 466.9 2392C471 2396.5 477.1 2400.3 482.1 2405.6C487.2 2411 492.2 2417.3 497.3 2423.8C502.3 2430.4 507.9 2438 512.4 2445.1C517 2452.1 520.5 2459.7 524.6 2466.3C528.6 2472.9 532.1 2478.4 536.7 2484.5C541.2 2490.6 546.8 2497.1 551.9 2502.7C556.9 2508.2 561.7 2512.8 567 2517.9C572.4 2522.9 575.9 2525.9 584 2533C592.1 2540.1 610.3 2526.4 615.5 2560.3C620.8 2594.2 711.6 2706.9 615.5 2736.2C519.5 2765.5 128.3 2826.4 39.3 2736.2C-49.6 2646 71.7 2285.4 81.8 2195.2Z" fill="#d8ffff" stroke="#1c48ff" stroke-width="3.2"/>
<path d="M81.8 2390.5C84.8 2371.3 94.4 2398.6 100 2402.6C105.6 2406.7 109.1 2410.7 115.2 2414.7C121.2 2418.8 131.3 2423.3 136.4 2426.9C141.4 2430.4 142.5 2431.9 145.5 2436C148.5 2440 151.6 2446.1 154.6 2451.1C157.6 2456.2 160.8 2462.7 163.7 2466.3C166.6 2469.9 173.7 2470.4 172.2 2473C170.7 2475.5 161.6 2478 154.6 2481.5C147.6 2484.9 137.4 2490.1 130.3 2493.6C123.2 2497.1 117.2 2500.2 112.1 2502.7C107.1 2505.2 105.1 2506.2 100 2508.8C94.9 2511.3 84.8 2537.6 81.8 2517.9C78.8 2498.1 78.8 2409.7 81.8 2390.5Z" fill="#fff8a8" stroke="#1c48ff" stroke-width="3.2"/>
<path d="M81.8 2420.8C84.8 2415.8 95.7 2422.3 100 2423.8C104.3 2425.4 106.6 2426.9 107.6 2429.9C108.6 2432.9 107.3 2438.5 106.1 2442C104.8 2445.6 104 2449.1 100 2451.1C96 2453.2 84.8 2459.2 81.8 2454.2C78.8 2449.1 78.8 2425.9 81.8 2420.8Z" fill="#ffe468" stroke="#1c48ff" stroke-width="3.2"/>
<path d="M81.8 2261.9C84.8 2247 94.4 2268 100 2271C105.6 2274 110.1 2276.6 115.2 2280.1C120.2 2283.6 126.8 2287.2 130.3 2292.2C133.9 2297.3 134.9 2304.4 136.4 2310.4C137.9 2316.5 137.9 2322.9 139.4 2328.6C140.9 2334.4 142.5 2339.7 145.5 2345C148.5 2350.3 153.1 2355.6 157.6 2360.2C162.2 2364.7 167.7 2369 172.8 2372.3C177.8 2375.6 183.4 2378.4 187.9 2379.9C192.5 2381.4 196.8 2382.1 200.1 2381.4C203.4 2380.6 205.1 2378.9 207.7 2375.3C210.2 2371.8 212.7 2365.5 215.2 2360.2C217.8 2354.9 219.8 2349.2 222.8 2343.5C225.9 2337.7 229.6 2332.1 233.4 2325.6C237.2 2319.1 241.5 2309.9 245.6 2304.4C249.6 2298.8 253.4 2295 257.7 2292.2C262 2289.4 266.8 2287.4 271.3 2287.7C275.9 2287.9 280.7 2290 285 2293.7C289.3 2297.5 293.1 2304.6 297.1 2310.4C301.2 2316.2 305.2 2322.9 309.2 2328.6C313.3 2334.4 317.8 2340.5 321.4 2345C324.9 2349.5 327.2 2352.3 330.5 2355.6C333.8 2358.9 337.6 2364.2 341.1 2364.7C344.6 2365.2 347.9 2361.4 351.7 2358.6C355.5 2355.9 360.3 2350.6 363.8 2348C367.4 2345.5 369.9 2343.5 372.9 2343.5C376 2343.5 379.5 2344.7 382 2348C384.6 2351.3 386.6 2357.6 388.1 2363.2C389.6 2368.8 390.6 2374.8 391.1 2381.4C391.6 2388 391.4 2396 391.1 2402.6C390.9 2409.2 388.9 2416 389.6 2420.8C390.4 2425.6 391.9 2428.1 395.7 2431.4C399.5 2434.7 406 2438 412.4 2440.5C418.7 2443 426.5 2444.1 433.6 2446.6C440.7 2449.1 448.5 2452.4 454.8 2455.7C461.1 2459 467.5 2462 471.5 2466.3C475.5 2470.6 476.8 2475.4 479.1 2481.5C481.3 2487.5 482.9 2495.6 485.1 2502.7C487.4 2509.8 490.2 2516.8 492.7 2523.9C495.2 2531 499 2539.6 500.3 2545.1C501.6 2550.7 502.3 2554.2 500.3 2557.3C498.3 2560.3 493.2 2561.3 488.2 2563.3C483.1 2565.4 476.5 2567.4 470 2569.4C463.4 2571.4 454.8 2575.2 448.7 2575.5C442.7 2575.7 438.6 2572.9 433.6 2570.9C428.5 2568.9 423 2565.1 418.4 2563.3C413.9 2561.6 410.8 2560.3 406.3 2560.3C401.7 2560.3 396.7 2561.6 391.1 2563.3C385.6 2565.1 379.5 2568.9 372.9 2570.9C366.4 2572.9 359.3 2574.5 351.7 2575.5C344.1 2576.5 335 2576.7 327.4 2577C319.9 2577.2 313.3 2577.3 306.2 2577C299.1 2576.6 291.6 2575.4 285 2574.9C278.4 2574.4 273.4 2573.3 266.8 2574C260.2 2574.6 251.1 2578.5 245.6 2578.5C240 2578.5 236.7 2577 233.4 2574C230.1 2570.9 227.1 2565.6 225.9 2560.3C224.6 2555 224.8 2548.7 225.9 2542.1C226.9 2535.5 229.6 2528 231.9 2520.9C234.2 2513.8 236.7 2506.2 239.5 2499.7C242.3 2493.1 246.6 2486 248.6 2481.5C250.6 2476.9 252.1 2475.9 251.6 2472.4C251.1 2468.8 249.1 2465.3 245.6 2460.2C242 2455.2 235 2448.1 230.4 2442C225.9 2436 221.3 2429.9 218.3 2423.8C215.2 2417.8 214.5 2411.2 212.2 2405.6C209.9 2400.1 208.2 2393 204.6 2390.5C201.1 2388 197.3 2389.5 191 2390.5C184.7 2391.5 175.3 2395 166.7 2396.5C158.1 2398.1 146 2399.8 139.4 2399.6C132.9 2399.3 131.8 2398.1 127.3 2395C122.7 2392 116.7 2385.2 112.1 2381.4C107.6 2377.6 105.1 2375.8 100 2372.3C94.9 2368.8 84.8 2378.6 81.8 2360.2C78.8 2341.8 78.8 2276.8 81.8 2261.9Z" fill="#98f0f8" stroke="#1c48ff" stroke-width="3.2" stroke-dasharray="9.5 6"/>
<path d="M168.2 2592.2C173.3 2592.4 177.1 2595.9 181.9 2599.7C186.7 2603.5 192 2610.1 197 2614.9C202.1 2619.7 207.4 2624.8 212.2 2628.5C217 2632.3 222.8 2634.4 225.9 2637.6C228.9 2640.9 231.2 2644.7 230.4 2648.3C229.6 2651.8 225.3 2656.1 221.3 2658.9C217.3 2661.6 211.7 2664.2 206.1 2664.9C200.6 2665.7 194 2664.7 187.9 2663.4C181.9 2662.2 174.8 2660.9 169.7 2657.4C164.7 2653.8 160.9 2647.2 157.6 2642.2C154.3 2637.1 152.1 2632.1 150 2627C148 2622 145.2 2616.7 145.5 2611.9C145.7 2607.1 147.8 2601.5 151.6 2598.2C155.3 2594.9 163.2 2591.9 168.2 2592.2Z" fill="#98f0f8" stroke="#1c48ff" stroke-width="3.2" stroke-dasharray="9.5 6"/>
<path d="M236.5 2705.9C186.4 2703.5 239 2697 242.5 2691.9C246.1 2686.9 252.1 2679.5 257.7 2675.5C263.3 2671.6 269.3 2669 275.9 2668C282.5 2667 290.5 2669.7 297.1 2669.5C303.7 2669.2 308.7 2668.2 315.3 2666.5C321.9 2664.7 329.5 2660.4 336.5 2658.9C343.6 2657.4 350.7 2657.6 357.8 2657.4C364.8 2657.1 371.4 2658.6 379 2657.4C386.6 2656.1 395.7 2653.1 403.3 2649.8C410.8 2646.5 417.9 2641.2 424.5 2637.6C431.1 2634.1 436.1 2630.1 442.7 2628.5C449.3 2627 456.3 2627.5 463.9 2628.5C471.5 2629.6 480.6 2631.8 488.2 2634.6C495.8 2637.4 503.3 2640.9 509.4 2645.2C515.5 2649.5 520.5 2654.8 524.6 2660.4C528.6 2665.9 531.1 2673.3 533.7 2678.6C536.2 2683.8 538.2 2687.4 539.7 2691.9C541.2 2696.5 593.3 2703.5 542.8 2705.9C492.2 2708.2 286.5 2708.2 236.5 2705.9Z" fill="#98f0f8" stroke="#1c48ff" stroke-width="3.2" stroke-dasharray="9.5 6"/>
<path d="M289.2 1993.5L287.7 2012.3L294.1 2010.8L298.9 2019L301.4 1997.8L305.6 1995.6L326.8 1995.6L328.4 2004.1L325 2017.2L329.3 2015.7L330.8 2005.9L338.1 2002.6L344.7 2003.5L354.4 2009.3L364.1 2012.3L369.9 2014.1L370.8 2019L379 2018.1L381.4 2025.4L383.9 2033.5L382.9 2040.2L390.2 2036.9L396.9 2034.5L403.3 2035.4L409.9 2039.3L416.3 2040.2L423 2043.3L431.2 2044.2L437.5 2040.8L444.2 2040.5L449.1 2045.1L457.2 2051.4L465.1 2059.6L473.3 2067.8L480 2074.2L484.8 2079.3L491.2 2081.8L499.4 2081.2L504.2 2079.3L509.1 2083.3L511.8 2092.4L514.3 2102.1L516.7 2115.1L517.6 2127L514.9 2143.6L506.4 2158.8L494.2 2174L485.1 2186.1L479.1 2201.2L470 2216.4L460.9 2225.5L459.4 2243.7L460.9 2264.9L459.4 2283.1L457.8 2298.3L453.3 2310.4L451.8 2325.6L445.7 2337.7L444.2 2342L439.7 2351.1L433.6 2363.2L432.1 2373.8L418.4 2385.9L416.9 2392L400.2 2395L385.1 2394.1L382 2398.1L376 2399.6L372.9 2405.6L360.8 2410.2L348.7 2420.8L336.5 2432.9L327.4 2443.6L326.8 2463.3L325.9 2487.5L315.3 2499.7L306.2 2514.8L300.2 2530L291.1 2545.1L275.9 2558.8L269.8 2572.4L257.7 2584.6L253.1 2593.7L242.5 2601.2L227.4 2601.2L212.2 2598.2L200.1 2593.7L192.5 2587.6L189.5 2593.7L194 2599.7L203.1 2605.8L207.7 2610.3L206.1 2621L209.2 2627L215.2 2633.1L212.2 2642.2L204.6 2654.3L200.1 2660.4L184.9 2668L160.7 2673.1L139.4 2675.5L136.4 2671L136.4 2678.6L140.9 2684.6L139.4 2693.7" fill="none" stroke="#161616" stroke-width="1.75" stroke-linejoin="round"/>
</g>
<rect x="98.7" y="1991.9" width="486.5" height="700.8" fill="none" stroke="#000" stroke-width="6.4"/>
<path d="M87.5 1992H100" stroke="#000" stroke-width="3" fill="none"/>
<text y="2007" font-size="39" font-weight="normal" stroke="#000" stroke-width="1.0"><tspan x="34.5" textLength="43" lengthAdjust="spacingAndGlyphs">EQ</tspan></text>
<path d="M87.5 2167H100" stroke="#000" stroke-width="3" fill="none"/>
<text y="2182" font-size="39" font-weight="normal" stroke="#000" stroke-width="1.0"><tspan x="17.5" textLength="60" lengthAdjust="spacingAndGlyphs">10S</tspan></text>
<path d="M87.5 2342H100" stroke="#000" stroke-width="3" fill="none"/>
<text y="2357" font-size="39" font-weight="normal" stroke="#000" stroke-width="1.0"><tspan x="17.5" textLength="60" lengthAdjust="spacingAndGlyphs">20S</tspan></text>
<path d="M87.5 2517H100" stroke="#000" stroke-width="3" fill="none"/>
<text y="2532" font-size="39" font-weight="normal" stroke="#000" stroke-width="1.0"><tspan x="17.5" textLength="60" lengthAdjust="spacingAndGlyphs">30S</tspan></text>
<path d="M87.5 2692H100" stroke="#000" stroke-width="3" fill="none"/>
<text y="2707" font-size="39" font-weight="normal" stroke="#000" stroke-width="1.0"><tspan x="17.5" textLength="60" lengthAdjust="spacingAndGlyphs">40S</tspan></text>
<path d="M169.1 2692V2705" stroke="#000" stroke-width="3.2" fill="none"/>
<text y="2738.3" font-size="39" font-weight="normal" stroke="#000" stroke-width="1.0"><tspan x="137.1" textLength="64" lengthAdjust="spacingAndGlyphs">60W</tspan></text>
<path d="M307.4 2692V2705" stroke="#000" stroke-width="3.2" fill="none"/>
<text y="2738.3" font-size="39" font-weight="normal" stroke="#000" stroke-width="1.0"><tspan x="275.4" textLength="64" lengthAdjust="spacingAndGlyphs">50W</tspan></text>
<path d="M445.7 2692V2705" stroke="#000" stroke-width="3.2" fill="none"/>
<text y="2738.3" font-size="39" font-weight="normal" stroke="#000" stroke-width="1.0"><tspan x="413.7" textLength="64" lengthAdjust="spacingAndGlyphs">40W</tspan></text>
<path d="M584 2692V2705" stroke="#000" stroke-width="3.2" fill="none"/>
<text y="2738.3" font-size="39" font-weight="normal" stroke="#000" stroke-width="1.0"><tspan x="552" textLength="64" lengthAdjust="spacingAndGlyphs">30W</tspan></text>
</g>
<g id="panel-h">
<clipPath id="c7"><rect x="765.5" y="1991.5" width="487" height="701.5"/></clipPath>
<rect x="765.5" y="1991.5" width="487" height="701.5" fill="#d8ffff"/>
<g clip-path="url(#c7)" stroke-linejoin="round">
<path d="M748.8 2340.7C758.9 2274.3 761.4 2339.2 767 2337.7C772.6 2336.2 777.1 2333.2 782.2 2331.7C787.2 2330.1 792.3 2328.4 797.3 2328.6C802.4 2328.9 808.2 2331.1 812.5 2333.2C816.8 2335.2 819.1 2338.3 823.1 2340.7C827.1 2343.2 830.9 2346.1 836.7 2348C842.6 2350 851.9 2352.3 858 2352.6C864 2352.8 868.7 2351.3 873.1 2349.5C877.6 2347.8 882.1 2347 884.7 2342C887.2 2337 886.7 2326.8 888.3 2319.5C889.9 2312.2 890.8 2303.6 894.4 2298.3C897.9 2293 903.5 2290 909.5 2287.7C915.6 2285.4 924.2 2286.4 930.8 2284.6C937.3 2282.9 942.9 2279.6 949 2277.1C955 2274.5 961.1 2271 967.2 2269.5C973.2 2268 979.3 2267.5 985.3 2268C991.4 2268.5 998 2269.5 1003.5 2272.5C1009.1 2275.5 1014.2 2281.4 1018.7 2286.2C1023.3 2291 1026.8 2295.8 1030.8 2301.3C1034.9 2306.9 1039.2 2314 1043 2319.5C1046.8 2325.1 1051.1 2330.7 1053.6 2334.7C1056.1 2338.7 1057.1 2339.7 1058.1 2343.5C1059.1 2347.2 1058.9 2351.8 1059.6 2357.1C1060.4 2362.4 1061.4 2369.3 1062.7 2375.3C1063.9 2381.4 1065.5 2387.5 1067.2 2393.5C1069 2399.6 1070.8 2405.6 1073.3 2411.7C1075.8 2417.8 1078.9 2423.8 1082.4 2429.9C1085.9 2436 1090.5 2442.5 1094.5 2448.1C1098.6 2453.7 1102.1 2458.2 1106.7 2463.3C1111.2 2468.3 1116.3 2473.6 1121.8 2478.4C1127.4 2483.2 1133.9 2487.5 1140 2492.1C1146.1 2496.6 1152.1 2500.9 1158.2 2505.7C1164.3 2510.5 1169.8 2516.3 1176.4 2520.9C1183 2525.4 1190.6 2528.5 1197.6 2533C1204.7 2537.6 1212.3 2543.6 1218.9 2548.2C1225.4 2552.7 1231.7 2557.3 1237.1 2560.3C1242.4 2563.3 1243.4 2562.8 1251 2566.4C1258.6 2569.9 1277.3 2553.2 1282.5 2581.5C1287.8 2609.8 1378.6 2710.4 1282.5 2736.2C1186.5 2762 795.3 2802.1 706.3 2736.2C617.4 2670.3 738.7 2407.2 748.8 2340.7Z" fill="#98f0f8" stroke="#1c48ff" stroke-width="3.2" stroke-dasharray="9.5 6"/>
<path d="M1282.5 2423.8C1277.3 2414.2 1258.6 2427.4 1251 2429.9C1243.4 2432.4 1240.4 2434.5 1237.1 2439C1233.7 2443.6 1232 2452.1 1231 2457.2C1230 2462.3 1229.5 2465.5 1231 2469.3C1232.5 2473.1 1236.7 2477.4 1240.1 2479.9C1243.4 2482.5 1243.9 2483.2 1251 2484.5C1258.1 2485.8 1277.3 2497.6 1282.5 2487.5C1287.8 2477.4 1287.8 2433.4 1282.5 2423.8Z" fill="#98f0f8" stroke="#1c48ff" stroke-width="3.2" stroke-dasharray="9.5 6"/>
<path d="M748.8 2493.6C758.9 2451.9 761.9 2489 767 2486C772.1 2483 775.6 2479.2 779.1 2475.4C782.7 2471.6 785.4 2468.3 788.2 2463.3C791 2458.2 794 2451.6 795.8 2445.1C797.6 2438.5 798.3 2430.4 798.8 2423.8C799.3 2417.3 798.3 2410.2 798.8 2405.6C799.3 2401.1 799.6 2396.8 801.9 2396.5C804.1 2396.3 808.2 2400.3 812.5 2404.1C816.8 2407.9 822.1 2415.2 827.7 2419.3C833.2 2423.3 839.3 2426.4 845.8 2428.4C852.4 2430.4 860 2431.7 867.1 2431.4C874.2 2431.2 881.2 2429.4 888.3 2426.9C895.4 2424.3 902.5 2420.3 909.5 2416.3C916.6 2412.2 923.7 2407.4 930.8 2402.6C937.8 2397.8 944.9 2392.3 952 2387.5C959.1 2382.6 966.6 2377.8 973.2 2373.8C979.8 2369.8 985.9 2365.4 991.4 2363.2C997 2361 1002.8 2359.8 1006.6 2360.8C1010.4 2361.8 1011.6 2364.8 1014.2 2369.3C1016.7 2373.7 1019 2380.9 1021.7 2387.5C1024.5 2394 1027.8 2402.1 1030.8 2408.7C1033.9 2415.2 1036.4 2420.3 1039.9 2426.9C1043.5 2433.4 1048 2441.5 1052.1 2448.1C1056.1 2454.7 1060.2 2460.2 1064.2 2466.3C1068.2 2472.4 1071.8 2478.9 1076.3 2484.5C1080.9 2490.1 1086.4 2494.1 1091.5 2499.7C1096.5 2505.2 1101.6 2511.8 1106.7 2517.9C1111.7 2523.9 1116.8 2530.5 1121.8 2536C1126.9 2541.6 1131.9 2546.2 1137 2551.2C1142 2556.3 1147.1 2561.3 1152.1 2566.4C1157.2 2571.4 1161.7 2576.5 1167.3 2581.5C1172.9 2586.6 1178.9 2592.7 1185.5 2596.7C1192.1 2600.7 1199.7 2602.8 1206.7 2605.8C1213.8 2608.8 1220.6 2611.6 1228 2614.9C1235.3 2618.2 1241.9 2621.5 1251 2625.5C1260.1 2629.6 1277.3 2620.7 1282.5 2639.2C1287.8 2657.6 1378.6 2720 1282.5 2736.2C1186.5 2752.4 795.3 2776.6 706.3 2736.2C617.4 2695.8 738.7 2535.3 748.8 2493.6Z" fill="#80dcfc" stroke="#1c48ff" stroke-width="3.2" stroke-dasharray="9.5 6"/>
<path d="M748.8 2354.1C752.3 2339.9 765.2 2351.6 770 2357.1C774.8 2362.7 776.9 2375.8 777.6 2387.5C778.4 2399.1 776.1 2418.3 774.6 2426.9C773.1 2435.5 772.8 2436.5 768.5 2439C764.2 2441.5 752.1 2456.2 748.8 2442C745.5 2427.9 745.3 2368.2 748.8 2354.1Z" fill="#80dcfc" stroke="#1c48ff" stroke-width="3.2" stroke-dasharray="9.5 6"/>
<path d="M848.9 2705.9C812 2703.5 851.4 2696.5 854.9 2691.9C858.5 2687.4 864.5 2682.1 870.1 2678.6C875.7 2675.1 881.7 2672.8 888.3 2671C894.9 2669.2 902.5 2668.3 909.5 2668C916.6 2667.6 923.2 2668 930.8 2668.9C938.3 2669.7 946.9 2671.6 955 2673.1C963.1 2674.6 971.2 2676.6 979.3 2678C987.4 2679.4 995.5 2680.5 1003.5 2681.6C1011.6 2682.7 1019.7 2683.6 1027.8 2684.6C1035.9 2685.7 1045 2686.4 1052.1 2687.7C1059.1 2689 1066.2 2689.5 1070.3 2692.5C1074.3 2695.6 1113.2 2703.7 1076.3 2705.9C1039.4 2708.1 885.8 2708.2 848.9 2705.9Z" fill="#98f0f8" stroke="#1c48ff" stroke-width="3.2" stroke-dasharray="9.5 6"/>
<path d="M748.8 2523.9C751.8 2510.6 761.4 2519.9 767 2516.3C772.6 2512.8 776.6 2506.7 782.2 2502.7C787.7 2498.6 793.8 2494.4 800.4 2492.1C806.9 2489.8 814.5 2490.6 821.6 2489C828.7 2487.5 835.7 2485.5 842.8 2483C849.9 2480.5 856.5 2476.9 864 2473.9C871.6 2470.8 880.2 2467.3 888.3 2464.8C896.4 2462.3 904.5 2460.1 912.6 2458.7C920.7 2457.4 928.7 2456.8 936.8 2456.6C944.9 2456.3 953 2457 961.1 2457.2C969.2 2457.4 978.3 2457.6 985.3 2457.8C992.4 2458.1 998.5 2457.3 1003.5 2458.7C1008.6 2460.1 1011.1 2462.5 1015.7 2466.3C1020.2 2470.1 1025.8 2475.9 1030.8 2481.5C1035.9 2487 1041.5 2493.6 1046 2499.7C1050.5 2505.7 1054.1 2511.8 1058.1 2517.9C1062.2 2523.9 1066.7 2530 1070.3 2536C1073.8 2542.1 1077.6 2548.7 1079.4 2554.2C1081.1 2559.8 1081.9 2564.4 1080.9 2569.4C1079.9 2574.5 1076.6 2579.8 1073.3 2584.6C1070 2589.4 1065.7 2594.2 1061.2 2598.2C1056.6 2602.3 1051.6 2605.5 1046 2608.8C1040.4 2612.1 1034.4 2615.7 1027.8 2617.9C1021.2 2620.2 1014.2 2621.5 1006.6 2622.5C999 2623.5 989.9 2624.2 982.3 2624C974.7 2623.7 968.7 2622 961.1 2621C953.5 2620 944.9 2618.4 936.8 2617.9C928.7 2617.4 920.7 2617.4 912.6 2617.9C904.5 2618.4 896.4 2619.8 888.3 2621C880.2 2622.1 871.6 2624.2 864 2624.6C856.5 2625 848.9 2624.5 842.8 2623.4C836.7 2622.3 832.7 2620.4 827.7 2617.9C822.6 2615.5 817.5 2611.6 812.5 2608.8C807.4 2606.1 802.9 2603.3 797.3 2601.2C791.8 2599.2 784.2 2597.6 779.1 2596.7C774.1 2595.8 772.1 2596.2 767 2596.1C761.9 2596 751.8 2608.1 748.8 2596.1C745.8 2584.1 745.8 2537.2 748.8 2523.9Z" fill="#48b4f8" stroke="#1c48ff" stroke-width="3.2" stroke-dasharray="9.5 6"/>
<path d="M836.7 2558.8C837.8 2555.5 844.3 2549.9 848.9 2545.1C853.4 2540.3 859 2534.5 864 2530C869.1 2525.4 873.1 2520.6 879.2 2517.9C885.3 2515.1 892.9 2514.2 900.4 2513.3C908 2512.4 917.6 2512.1 924.7 2512.4C931.8 2512.6 937.3 2512.9 942.9 2514.8C948.5 2516.7 953.5 2519.9 958.1 2523.9C962.6 2528 966.9 2533.8 970.2 2539.1C973.5 2544.4 976.8 2552 977.8 2555.8C978.8 2559.6 979 2560.1 976.2 2561.8C973.5 2563.6 967.2 2565.1 961.1 2566.4C955 2567.6 946.9 2568.3 939.9 2569.4C932.8 2570.5 925.2 2572.3 918.6 2573C912.1 2573.8 907 2574.3 900.4 2574C893.9 2573.6 886.3 2571.9 879.2 2570.9C872.1 2569.9 864 2568.9 858 2567.9C851.9 2566.9 846.4 2566.4 842.8 2564.9C839.3 2563.3 835.7 2562.1 836.7 2558.8Z" fill="#0890f0" stroke="#1c48ff" stroke-width="3.2" stroke-dasharray="9.5 6"/>
<path d="M800.4 2255.2L841.3 2255.2" fill="none" stroke="#1c48ff" stroke-width="7" stroke-dasharray="11 5" stroke-linecap="round"/>
<path d="M748.8 2202.8C758.9 2247.7 760.9 2202 767 2201.2C773.1 2200.5 778.6 2198.7 785.2 2198.2C791.8 2197.7 798.3 2197.5 806.4 2198.2C814.5 2199 824.6 2200.7 833.7 2202.8C842.8 2204.8 852.4 2207.6 861 2210.3C869.6 2213.1 877.7 2217.3 885.3 2219.4C892.9 2221.6 898.9 2223.1 906.5 2223.1C914.1 2223.1 922.7 2221.3 930.8 2219.4C938.8 2217.6 946.9 2213.6 955 2211.9C963.1 2210.1 971.7 2208.8 979.3 2208.8C986.9 2208.8 995 2210.1 1000.5 2211.9C1006.1 2213.6 1009.1 2215.7 1012.6 2219.4C1016.2 2223.2 1018.2 2229 1021.7 2234.6C1025.3 2240.2 1029.3 2246.7 1033.9 2252.8C1038.4 2258.9 1044 2264.9 1049 2271C1054.1 2277.1 1059.6 2283.1 1064.2 2289.2C1068.7 2295.3 1071.3 2302.6 1076.3 2307.4C1081.4 2312.2 1087.4 2315.7 1094.5 2318C1101.6 2320.3 1110.2 2320.8 1118.8 2321C1127.4 2321.3 1137.5 2320.3 1146.1 2319.5C1154.7 2318.8 1163.8 2318.5 1170.3 2316.5C1176.9 2314.5 1181.5 2311.9 1185.5 2307.4C1189.5 2302.8 1191.1 2295.8 1194.6 2289.2C1198.1 2282.6 1202.2 2275 1206.7 2268C1211.3 2260.9 1216.8 2252.8 1221.9 2246.7C1226.9 2240.7 1232.2 2236.1 1237.1 2231.6C1241.9 2227 1243.4 2225 1251 2219.4C1258.6 2213.9 1277.3 2246.2 1282.5 2198.2C1287.8 2150.2 1378.6 1975.8 1282.5 1931.3C1186.5 1886.9 795.3 1886.1 706.3 1931.3C617.4 1976.6 738.7 2157.8 748.8 2202.8Z" fill="#fff8a8" stroke="#1c48ff" stroke-width="3.2"/>
<path d="M1201.3 2340.7C1201.3 2338.5 1203.3 2334.5 1205.2 2332.3C1207.1 2330 1209.5 2328.4 1212.8 2327.4C1216.1 2326.4 1220.9 2326.1 1224.9 2326.2C1229 2326.3 1232.7 2327.1 1237.1 2328C1241.4 2328.9 1243.4 2330 1251 2331.7C1258.6 2333.3 1277.3 2332.2 1282.5 2337.7C1287.8 2343.2 1287.8 2360.9 1282.5 2364.7C1277.3 2368.5 1259.6 2362.1 1251 2360.8C1242.4 2359.4 1237.1 2358.1 1231 2356.5C1224.9 2354.9 1218.6 2352.9 1214.3 2351.1C1210 2349.2 1207.4 2347.3 1205.2 2345.6C1203 2343.9 1201.3 2343 1201.3 2340.7Z" fill="#fff8a8" stroke="#1c48ff" stroke-width="3.2"/>
<path d="M748.8 2162.7C759.4 2201.3 759.4 2162.6 770 2162.7C780.6 2162.8 797.8 2163 812.5 2163.3C827.1 2163.7 845.3 2165.4 858 2164.9C870.6 2164.4 879.5 2161.2 888.3 2160.3C897.1 2159.5 903.5 2159.2 911 2159.7C918.6 2160.2 927.5 2162.1 933.8 2163.3C940.1 2164.6 943.9 2165.5 949 2167C954 2168.5 958.1 2170.8 964.1 2172.4C970.2 2174.1 978.3 2175.5 985.3 2177C992.4 2178.5 1000.5 2179 1006.6 2181.5C1012.6 2184.1 1016.7 2187.9 1021.7 2192.2C1026.8 2196.4 1032.4 2201.8 1036.9 2207.3C1041.5 2212.9 1044.5 2219.4 1049 2225.5C1053.6 2231.6 1058.6 2238.1 1064.2 2243.7C1069.8 2249.3 1076.3 2255.1 1082.4 2258.9C1088.5 2262.7 1094 2264.8 1100.6 2266.5C1107.2 2268.1 1114.7 2268.8 1121.8 2268.6C1128.9 2268.3 1137 2267.6 1143 2264.9C1149.1 2262.3 1153.2 2258.4 1158.2 2252.8C1163.3 2247.2 1168.3 2239.2 1173.4 2231.6C1178.4 2224 1183.5 2214.9 1188.5 2207.3C1193.6 2199.7 1198.1 2192.2 1203.7 2186.1C1209.3 2180 1216.3 2175 1221.9 2170.9C1227.4 2166.9 1232.2 2164.1 1237.1 2161.8C1241.9 2159.6 1243.4 2159.3 1251 2157.3C1258.6 2155.3 1277.3 2187.4 1282.5 2149.7C1287.8 2112 1378.6 1967.7 1282.5 1931.3C1186.5 1895 795.3 1892.8 706.3 1931.3C617.4 1969.9 738.2 2124.2 748.8 2162.7Z" fill="#ffe468" stroke="#1c48ff" stroke-width="3.2"/>
<path d="M748.8 2107.2C759.4 2137.6 763.2 2111.3 770 2113.3C776.9 2115.3 782.7 2117.1 789.7 2119.4C796.8 2121.6 804.9 2125 812.5 2127C820.1 2128.9 827.7 2130.5 835.2 2130.9C842.8 2131.3 850.4 2129.8 858 2129.4C865.6 2129 873.1 2128.1 880.7 2128.5C888.3 2128.8 897.1 2130 903.5 2131.5C909.8 2133 913.6 2135.8 918.6 2137.6C923.7 2139.3 927.5 2140.9 933.8 2142.1C940.1 2143.4 949 2144.4 956.5 2145.1C964.1 2145.9 970.5 2145.8 979.3 2146.7C988 2147.5 1002 2148.3 1009 2150.3C1016 2152.3 1017.3 2156 1021.1 2158.8C1024.9 2161.6 1028.6 2164.5 1031.7 2167C1034.9 2169.5 1036 2170.8 1039.9 2174C1043.8 2177.1 1050 2182 1055.1 2186.1C1060.2 2190.1 1064.7 2193.7 1070.3 2198.2C1075.8 2202.8 1082.9 2209.3 1088.5 2213.4C1094 2217.4 1098.6 2220.5 1103.6 2222.5C1108.7 2224.5 1113.7 2225.8 1118.8 2225.5C1123.8 2225.3 1128.9 2224 1133.9 2221C1139 2217.9 1144.1 2213.1 1149.1 2207.3C1154.2 2201.5 1159.7 2192.7 1164.3 2186.1C1168.8 2179.5 1172.4 2173.5 1176.4 2167.9C1180.4 2162.3 1184 2157.8 1188.5 2152.7C1193.1 2147.7 1198.1 2141.9 1203.7 2137.6C1209.3 2133.3 1216.3 2129.7 1221.9 2127C1227.4 2124.2 1232.2 2122.4 1237.1 2120.9C1241.9 2119.4 1243.4 2119.1 1251 2117.9C1258.6 2116.6 1277.3 2144.4 1282.5 2113.3C1287.8 2082.2 1378.6 1961.7 1282.5 1931.3C1186.5 1901 795.3 1902 706.3 1931.3C617.4 1960.7 738.2 2076.9 748.8 2107.2Z" fill="#ffc028" stroke="#1c48ff" stroke-width="3.2"/>
<path d="M748.8 2070.8C759.4 2096.1 764.5 2079.2 770 2083C775.6 2086.8 777.6 2090.3 782.2 2093.6C786.7 2096.9 792.3 2100.5 797.3 2102.7C802.4 2104.9 807.4 2105.9 812.5 2106.6C817.5 2107.4 822.6 2107.4 827.7 2107.2C832.7 2107.1 837.8 2106.3 842.8 2105.7C847.9 2105.1 852.9 2104.1 858 2103.6C863 2103.1 868.1 2102.6 873.1 2102.7C878.2 2102.8 883.2 2103.2 888.3 2104.2C893.4 2105.2 898.4 2107 903.5 2108.8C908.5 2110.5 913.6 2113.1 918.6 2114.8C923.7 2116.6 928.7 2118.4 933.8 2119.4C938.8 2120.4 941.4 2120.6 949 2120.9C956.5 2121.1 969.3 2120.7 979.3 2120.9C989.3 2121.1 1001.5 2120.8 1009 2122.1C1016.5 2123.4 1019.1 2125.9 1024.2 2128.5C1029.2 2131 1034.3 2134.3 1039.3 2137.6C1044.4 2140.9 1049.4 2144.9 1054.5 2148.2C1059.5 2151.5 1064.6 2154.9 1069.7 2157.3C1074.7 2159.7 1079.8 2161.7 1084.8 2162.7C1089.9 2163.7 1094.9 2163.7 1100 2163.3C1105 2162.9 1110.1 2162.3 1115.1 2160.3C1120.2 2158.3 1125.3 2154.5 1130.3 2151.2C1135.4 2147.9 1140.4 2144.4 1145.5 2140.6C1150.5 2136.8 1155.6 2132.3 1160.6 2128.5C1165.7 2124.7 1170.7 2120.6 1175.8 2117.9C1180.8 2115.1 1184.6 2113.8 1191 2111.8C1197.3 2109.8 1206.1 2107.3 1213.7 2105.7C1221.3 2104.1 1230.2 2102.9 1236.4 2102.1C1242.7 2101.2 1243.3 2101.2 1251 2100.6C1258.7 2099.9 1277.3 2126.3 1282.5 2098.1C1287.8 2069.9 1378.6 1959.1 1282.5 1931.3C1186.5 1903.5 795.3 1908.1 706.3 1931.3C617.4 1954.6 738.2 2045.6 748.8 2070.8Z" fill="#ffa000" stroke="#1c48ff" stroke-width="3.2"/>
<path d="M748.8 2046.6C759.4 2068.1 764.5 2055.9 770 2060.2C775.6 2064.5 777.6 2068.6 782.2 2072.4C786.7 2076.2 792.3 2080.5 797.3 2083C802.4 2085.5 807.4 2086.6 812.5 2087.5C817.5 2088.4 822.6 2088.7 827.7 2088.4C832.7 2088.2 837.8 2087 842.8 2086C847.9 2085 852.9 2083.2 858 2082.4C863 2081.5 868.1 2080.8 873.1 2080.9C878.2 2081 883.2 2081.9 888.3 2083C893.4 2084.1 898.4 2085.9 903.5 2087.5C908.5 2089.2 913.6 2091.5 918.6 2093C923.7 2094.5 927.5 2095.8 933.8 2096.6C940.1 2097.5 949 2098 956.5 2098.1C964.1 2098.3 970.5 2097.9 979.3 2097.5C988 2097.2 1000.3 2095.2 1009 2096C1017.7 2096.9 1024.2 2100.3 1031.7 2102.7C1039.3 2105.1 1046.9 2108.5 1054.5 2110.3C1062.1 2112 1069.7 2113.1 1077.2 2113.3C1084.8 2113.6 1092.4 2113.1 1100 2111.8C1107.6 2110.5 1115.1 2108.2 1122.7 2105.7C1130.3 2103.2 1137.9 2099.2 1145.5 2096.6C1153.1 2094.1 1160.6 2092.2 1168.2 2090.6C1175.8 2088.9 1182.1 2087.9 1191 2086.9C1199.8 2085.9 1211.3 2085.3 1221.3 2084.5C1231.3 2083.7 1240.8 2083.1 1251 2082.4C1261.2 2081.6 1277.3 2105.1 1282.5 2079.9C1287.8 2054.8 1378.6 1956.1 1282.5 1931.3C1186.5 1906.6 795.3 1912.1 706.3 1931.3C617.4 1950.6 738.2 2025.1 748.8 2046.6Z" fill="#ff3000" stroke="#1c48ff" stroke-width="3.2"/>
<path d="M1147.6 1982.9C1125.8 1993.4 1148.1 1990.9 1151.5 1994.4C1155 1998 1162.9 2001.2 1168.2 2004.1C1173.5 2007 1177.1 2009.4 1183.4 2011.7C1189.7 2014 1198.5 2015.8 1206.1 2017.8C1213.7 2019.8 1221.4 2022.2 1228.9 2023.8C1236.3 2025.5 1242.1 2026.3 1251 2027.8C1259.9 2029.3 1277.3 2049 1282.5 2032.9C1287.8 2016.9 1305 1939.7 1282.5 1931.3C1260.1 1923 1169.4 1972.4 1147.6 1982.9Z" fill="#ffa000" stroke="#1c48ff" stroke-width="3.2"/>
<path d="M1193.1 1982.9C1179.1 1993.4 1195.1 1991.6 1198.5 1994.4C1202 1997.2 1208.6 1998 1213.7 1999.6C1218.8 2001.2 1222.6 2002.9 1228.9 2004.1C1235.1 2005.4 1242.1 2006.2 1251 2007.2C1259.9 2008.2 1277.3 2022.8 1282.5 2010.2C1287.8 1997.6 1297.5 1935.9 1282.5 1931.3C1267.6 1926.8 1207.1 1972.4 1193.1 1982.9Z" fill="#ffc028" stroke="#1c48ff" stroke-width="3.2"/>
<path d="M791.3 1985.9C781.7 1987.4 791.3 1992.3 797.3 1994.4C803.4 1996.5 818.8 1998.6 827.7 1998.7C836.5 1998.8 845.8 1997.2 850.4 1995C854.9 1992.9 864.8 1987.5 854.9 1985.9C845.1 1984.4 800.9 1984.5 791.3 1985.9Z" fill="#ffa000" stroke="#1c48ff" stroke-width="3.2"/>
<path d="M760.9 2034.5C760.9 2034.3 767 2034.1 768.5 2033.8C770 2033.6 767.8 2034.9 770 2032.9C772.3 2031 777.6 2025.4 782.2 2022.3C786.7 2019.3 792.8 2016 797.3 2014.7C801.9 2013.5 804.4 2014 809.5 2014.7C814.5 2015.5 822.1 2018 827.7 2019.3C833.2 2020.6 837.8 2021.7 842.8 2022.3C847.9 2023 852.9 2023.5 858 2023.2C863 2023 868.1 2022.2 873.1 2020.8C878.2 2019.4 883.2 2017.3 888.3 2014.7C893.4 2012.2 899.4 2008.4 903.5 2005.6C907.5 2002.9 910.3 2000.3 912.6 1998.1C914.8 1995.8 916.1 1996 917.1 1992C918.1 1988 888.6 1976.8 918.6 1973.8C948.7 1970.8 1067.3 1970.8 1097.6 1973.8C1127.8 1976.8 1098.3 1988.2 1100 1992C1101.6 1995.8 1104.5 1994.8 1107.6 1996.5C1110.6 1998.3 1114.6 2000.1 1118.2 2002.6C1121.7 2005.1 1125.5 2008.7 1128.8 2011.7C1132.1 2014.7 1134.6 2018 1137.9 2020.8C1141.2 2023.6 1144.7 2026.4 1148.5 2028.4C1152.3 2030.4 1157.7 2031.8 1160.6 2032.9C1163.6 2034.1 1165 2034.7 1166.1 2035.1C1167.2 2035.5 1167.3 2035.2 1167.3 2035.4C1167.3 2035.5 1167.2 2035.6 1166.1 2036C1165 2036.3 1163.6 2036.5 1160.6 2037.5C1157.7 2038.5 1152.3 2040 1148.5 2042C1144.7 2044.1 1141.2 2047.1 1137.9 2049.6C1134.6 2052.1 1132.1 2054.2 1128.8 2057.2C1125.5 2060.2 1121.7 2064.5 1118.2 2067.8C1114.6 2071.1 1111.9 2074.4 1107.6 2076.9C1103.3 2079.4 1097.5 2081.3 1092.4 2083C1087.3 2084.6 1083.6 2086.9 1077.2 2086.9C1070.9 2086.9 1062.1 2084.6 1054.5 2083C1046.9 2081.3 1039.3 2078.9 1031.7 2076.9C1024.2 2074.9 1015.2 2071.6 1009 2070.8C1002.8 2070.1 1000.7 2071.7 994.4 2072.4C988.2 2073 979.3 2074.5 971.7 2074.8C964.1 2075 955.3 2074.5 949 2073.9C942.6 2073.2 938.8 2072.4 933.8 2070.8C928.7 2069.3 923.7 2067.1 918.6 2064.8C913.6 2062.5 908.5 2059.6 903.5 2057.2C898.4 2054.8 893.4 2052.3 888.3 2050.5C883.2 2048.8 878.2 2046.8 873.1 2046.6C868.1 2046.3 863 2047.7 858 2049C852.9 2050.3 847.9 2052.6 842.8 2054.2C837.8 2055.8 833.2 2057.5 827.7 2058.7C822.1 2060 814.5 2061.5 809.5 2061.7C804.4 2062 801.9 2062.3 797.3 2060.2C792.8 2058.2 786.7 2053.7 782.2 2049.6C777.6 2045.6 772.3 2038.4 770 2036C767.8 2033.5 770 2035.3 768.5 2035.1C767 2034.8 760.9 2034.7 760.9 2034.5Z" fill="#ff1000" stroke="#1c48ff" stroke-width="3.2"/>
<path d="M961.1 1973.8C950 1977.1 961.6 1988 959.6 1993.5C957.5 1999.1 952.5 2002.4 949 2007.2C945.4 2012 941.6 2017.9 938.3 2022.3C935.1 2026.8 931 2031.7 929.2 2033.8C927.5 2036 927.6 2034.9 927.7 2035.4C927.8 2035.9 927.6 2035.8 929.9 2036.9C932.1 2038 936.9 2040.2 941.4 2042C945.8 2043.9 951.5 2046.6 956.5 2048.1C961.6 2049.6 965.4 2050.7 971.7 2051.1C978 2051.5 988.2 2050.8 994.4 2050.5C1000.7 2050.3 1002.8 2049 1009 2049.6C1015.2 2050.2 1024.2 2052.5 1031.7 2054.2C1039.3 2055.8 1047.7 2058.5 1054.5 2059.6C1061.3 2060.8 1067.1 2061.8 1072.7 2061.1C1078.2 2060.5 1083.3 2057.9 1087.8 2055.7C1092.4 2053.5 1096.4 2050.6 1100 2048.1C1103.5 2045.6 1107 2042.8 1109.1 2040.5C1111.2 2038.2 1112.7 2036.7 1112.7 2034.5C1112.7 2032.2 1111.2 2029.4 1109.1 2026.9C1107 2024.3 1104 2021.8 1100 2019.3C1095.9 2016.8 1089.9 2014 1084.8 2011.7C1079.8 2009.4 1074.7 2007.3 1069.7 2005.6C1064.6 2004 1059.5 2003.3 1054.5 2002C1049.4 2000.7 1043.6 1999.5 1039.3 1998.1C1035 1996.6 1030.9 1997.6 1028.7 1993.5C1026.5 1989.5 1037.6 1977.1 1026.3 1973.8C1015 1970.5 972.2 1970.5 961.1 1973.8Z" fill="#e00000" stroke="#1c48ff" stroke-width="3.2"/>
<path d="M1038.7 2035.4L1076.3 2035.4" fill="none" stroke="#1c48ff" stroke-width="7" stroke-linecap="round"/>
<path d="M956.2 1993.5L954.7 2012.3L961.1 2010.8L965.9 2019L968.4 1997.8L972.6 1995.6L993.8 1995.6L995.4 2004.1L992 2017.2L996.3 2015.7L997.8 2005.9L1005.1 2002.6L1011.7 2003.5L1021.4 2009.3L1031.1 2012.3L1036.9 2014.1L1037.8 2019L1046 2018.1L1048.4 2025.4L1050.9 2033.5L1049.9 2040.2L1057.2 2036.9L1063.9 2034.5L1070.3 2035.4L1076.9 2039.3L1083.3 2040.2L1090 2043.3L1098.2 2044.2L1104.5 2040.8L1111.2 2040.5L1116.1 2045.1L1124.2 2051.4L1132.1 2059.6L1140.3 2067.8L1147 2074.2L1151.8 2079.3L1158.2 2081.8L1166.4 2081.2L1171.2 2079.3L1176.1 2083.3L1178.8 2092.4L1181.3 2102.1L1183.7 2115.1L1184.6 2127L1181.9 2143.6L1173.4 2158.8L1161.2 2174L1152.1 2186.1L1146.1 2201.2L1137 2216.4L1127.9 2225.5L1126.4 2243.7L1127.9 2264.9L1126.4 2283.1L1124.8 2298.3L1120.3 2310.4L1118.8 2325.6L1112.7 2337.7L1111.2 2342L1106.7 2351.1L1100.6 2363.2L1099.1 2373.8L1085.4 2385.9L1083.9 2392L1067.2 2395L1052.1 2394.1L1049 2398.1L1043 2399.6L1039.9 2405.6L1027.8 2410.2L1015.7 2420.8L1003.5 2432.9L994.4 2443.6L993.8 2463.3L992.9 2487.5L982.3 2499.7L973.2 2514.8L967.2 2530L958.1 2545.1L942.9 2558.8L936.8 2572.4L924.7 2584.6L920.1 2593.7L909.5 2601.2L894.4 2601.2L879.2 2598.2L867.1 2593.7L859.5 2587.6L856.5 2593.7L861 2599.7L870.1 2605.8L874.7 2610.3L873.1 2621L876.2 2627L882.2 2633.1L879.2 2642.2L871.6 2654.3L867.1 2660.4L851.9 2668L827.7 2673.1L806.4 2675.5L803.4 2671L803.4 2678.6L807.9 2684.6L806.4 2693.7" fill="none" stroke="#161616" stroke-width="1.75" stroke-linejoin="round"/>
</g>
<rect x="766.5" y="1991.9" width="484.9" height="700.8" fill="none" stroke="#000" stroke-width="6.4"/>
<path d="M754.5 1992H767" stroke="#000" stroke-width="3" fill="none"/>
<text y="2007" font-size="39" font-weight="normal" stroke="#000" stroke-width="1.0"><tspan x="701.5" textLength="43" lengthAdjust="spacingAndGlyphs">EQ</tspan></text>
<path d="M754.5 2167H767" stroke="#000" stroke-width="3" fill="none"/>
<text y="2182" font-size="39" font-weight="normal" stroke="#000" stroke-width="1.0"><tspan x="684.5" textLength="60" lengthAdjust="spacingAndGlyphs">10S</tspan></text>
<path d="M754.5 2342H767" stroke="#000" stroke-width="3" fill="none"/>
<text y="2357" font-size="39" font-weight="normal" stroke="#000" stroke-width="1.0"><tspan x="684.5" textLength="60" lengthAdjust="spacingAndGlyphs">20S</tspan></text>
<path d="M754.5 2517H767" stroke="#000" stroke-width="3" fill="none"/>
<text y="2532" font-size="39" font-weight="normal" stroke="#000" stroke-width="1.0"><tspan x="684.5" textLength="60" lengthAdjust="spacingAndGlyphs">30S</tspan></text>
<path d="M754.5 2692H767" stroke="#000" stroke-width="3" fill="none"/>
<text y="2707" font-size="39" font-weight="normal" stroke="#000" stroke-width="1.0"><tspan x="684.5" textLength="60" lengthAdjust="spacingAndGlyphs">40S</tspan></text>
<path d="M836.1 2692V2705" stroke="#000" stroke-width="3.2" fill="none"/>
<text y="2738.3" font-size="39" font-weight="normal" stroke="#000" stroke-width="1.0"><tspan x="804.1" textLength="64" lengthAdjust="spacingAndGlyphs">60W</tspan></text>
<path d="M974.4 2692V2705" stroke="#000" stroke-width="3.2" fill="none"/>
<text y="2738.3" font-size="39" font-weight="normal" stroke="#000" stroke-width="1.0"><tspan x="942.4" textLength="64" lengthAdjust="spacingAndGlyphs">50W</tspan></text>
<path d="M1112.7 2692V2705" stroke="#000" stroke-width="3.2" fill="none"/>
<text y="2738.3" font-size="39" font-weight="normal" stroke="#000" stroke-width="1.0"><tspan x="1080.7" textLength="64" lengthAdjust="spacingAndGlyphs">40W</tspan></text>
<path d="M1251 2692V2705" stroke="#000" stroke-width="3.2" fill="none"/>
<text y="2738.3" font-size="39" font-weight="normal" stroke="#000" stroke-width="1.0"><tspan x="1219" textLength="64" lengthAdjust="spacingAndGlyphs">30W</tspan></text>
</g>
<g id="panel-i">
<clipPath id="c8"><rect x="1431.9" y="1991.5" width="487" height="701.5"/></clipPath>
<rect x="1431.9" y="1991.5" width="487" height="701.5" fill="#d8ffff"/>
<g clip-path="url(#c8)" stroke-linejoin="round">
<path d="M1811.9 1973.8C1885.1 1984.3 1810.6 1989.4 1811.9 1994.4C1813.1 1999.5 1816.2 2000.5 1819.5 2004.1C1822.7 2007.8 1827.3 2012.5 1831.6 2016.3C1835.9 2020.1 1840.4 2023.6 1845.2 2026.9C1850 2030.2 1855.3 2033.4 1860.4 2036C1865.4 2038.5 1870.5 2040 1875.6 2042C1880.6 2044.1 1885.7 2045.8 1890.7 2048.1C1895.8 2050.4 1901.4 2053.4 1905.9 2055.7C1910.3 2058 1910.2 2058.7 1917.4 2061.7C1924.6 2064.8 1943.7 2068.3 1948.9 2073.9C1954.2 2079.4 1954.2 2090.6 1948.9 2095.1C1943.7 2099.7 1923.6 2098.1 1917.4 2101.2C1911.2 2104.2 1914.4 2109.5 1911.9 2113.3C1909.5 2117.1 1906.4 2120.6 1902.8 2123.9C1899.3 2127.2 1895.3 2130.7 1890.7 2133C1886.2 2135.3 1881.1 2136.7 1875.6 2137.6C1870 2138.5 1862.9 2138.5 1857.4 2138.5C1851.8 2138.5 1847.2 2138.2 1842.2 2137.6C1837.1 2136.9 1832.1 2135.1 1827 2134.5C1822 2133.9 1816.4 2133.2 1811.9 2133.9C1807.3 2134.7 1803.8 2136.7 1799.7 2139.1C1795.7 2141.5 1791.7 2144.9 1787.6 2148.2C1783.6 2151.5 1778.8 2155.7 1775.5 2158.8C1772.2 2161.9 1770.6 2162.4 1767.9 2167C1765.2 2171.5 1761.6 2179.9 1759.4 2186.1C1757.2 2192.3 1755.6 2197.7 1754.9 2204.3C1754.1 2210.9 1754.4 2218.4 1754.9 2225.5C1755.4 2232.6 1756.4 2240.2 1757.9 2246.7C1759.4 2253.3 1760.9 2258.4 1764 2264.9C1767 2271.5 1771.5 2279.1 1776.1 2286.2C1780.6 2293.2 1785.7 2300.8 1791.2 2307.4C1796.8 2314 1803.5 2319.8 1809.4 2325.6C1815.4 2331.3 1822.1 2337.2 1827 2342C1832 2346.7 1835.1 2350.3 1839.2 2354.1C1843.2 2357.9 1847 2361.9 1851.3 2364.7C1855.6 2367.5 1860.4 2368.8 1864.9 2370.8C1869.5 2372.8 1874 2374.6 1878.6 2376.8C1883.1 2379.1 1888.2 2381.4 1892.2 2384.4C1896.3 2387.5 1899.8 2391.5 1902.8 2395C1905.9 2398.6 1908 2402.4 1910.4 2405.6C1912.9 2408.9 1911 2410.2 1917.4 2414.7C1923.8 2419.3 1943.7 2423.8 1948.9 2432.9C1954.2 2442 1954.2 2462.3 1948.9 2469.3C1943.7 2476.4 1925.1 2473.6 1917.4 2475.4C1909.7 2477.2 1907.8 2478.5 1902.8 2479.9C1897.9 2481.4 1892.7 2482.9 1887.7 2483.9C1882.6 2484.9 1877.6 2485.7 1872.5 2486C1867.5 2486.4 1862.4 2486.3 1857.4 2486C1852.3 2485.8 1847.2 2485.1 1842.2 2484.5C1837.1 2483.9 1832.1 2483.4 1827 2482.4C1822 2481.4 1816.9 2479.8 1811.9 2478.4C1806.8 2477 1801.8 2475.6 1796.7 2473.9C1791.7 2472.1 1786.6 2469.8 1781.5 2467.8C1776.5 2465.8 1771.4 2463.8 1766.4 2461.7C1761.3 2459.7 1756.3 2457.7 1751.2 2455.7C1746.2 2453.7 1741.1 2451.9 1736.1 2449.6C1731 2447.3 1725.9 2444.6 1720.9 2442C1715.8 2439.5 1710.8 2437 1705.7 2434.5C1700.7 2431.9 1695.6 2429.4 1690.6 2426.9C1685.5 2424.3 1680.4 2421.3 1675.4 2419.3C1670.4 2417.3 1665.8 2416.3 1660.8 2414.7C1655.9 2413.2 1652 2411.7 1645.7 2410.2C1639.4 2408.7 1630.5 2406.8 1622.9 2405.6C1615.4 2404.5 1607.8 2404 1600.2 2403.5C1592.6 2403 1585 2402.9 1577.4 2402.6C1569.9 2402.4 1562.3 2402.5 1554.7 2402C1547.1 2401.5 1539.5 2401 1532 2399.6C1524.4 2398.2 1516.8 2396.3 1509.2 2393.5C1501.6 2390.7 1494.1 2386.9 1486.5 2382.9C1478.9 2378.9 1470 2373.3 1463.7 2369.3C1457.4 2365.2 1453.1 2361.9 1448.6 2358.6C1444 2355.4 1442 2353.3 1436.4 2349.5C1430.9 2345.8 1425.8 2405.6 1415.2 2335.9C1404.6 2266.2 1306.6 1991.7 1372.7 1931.3C1438.9 1871 1738.7 1963.3 1811.9 1973.8Z" fill="#fff8a8" stroke="#1c48ff" stroke-width="3.2"/>
<path d="M1740.6 1973.8C1801.9 1984.3 1740.1 1988.9 1740.6 1994.4C1741.1 2000 1742.4 2002.8 1743.6 2007.2C1744.9 2011.6 1746.2 2016.5 1748.2 2020.8C1750.2 2025.1 1752.7 2029.7 1755.8 2032.9C1758.8 2036.2 1762.1 2038 1766.4 2040.5C1770.7 2043 1776.5 2045.8 1781.5 2048.1C1786.6 2050.4 1791.7 2052.5 1796.7 2054.2C1801.8 2055.8 1806.8 2057.2 1811.9 2058.1C1816.9 2059 1822 2059.3 1827 2059.6C1832.1 2060 1837.1 2059.6 1842.2 2060.2C1847.2 2060.8 1852.3 2061.7 1857.4 2063.3C1862.4 2064.8 1868 2067.4 1872.5 2069.3C1877.1 2071.3 1881.6 2073.1 1884.7 2074.8C1887.7 2076.5 1890.5 2077 1890.7 2079.3C1891 2081.7 1888.7 2085.7 1886.2 2089C1883.6 2092.4 1879.6 2096.6 1875.6 2099.7C1871.5 2102.7 1866.5 2105.7 1861.9 2107.2C1857.4 2108.8 1852.6 2109.1 1848.3 2108.8C1844 2108.4 1840.2 2106.9 1836.1 2105.1C1832.1 2103.3 1828 2099.8 1824 2098.1C1820 2096.5 1816.4 2095.2 1811.9 2095.1C1807.3 2095 1801.8 2096 1796.7 2097.5C1791.7 2099.1 1785.6 2101.1 1781.5 2104.2C1777.5 2107.3 1776 2111.8 1772.4 2116.3C1768.9 2120.9 1764.6 2126.7 1760.3 2131.5C1756 2136.3 1751 2140.9 1746.7 2145.1C1742.4 2149.4 1737.8 2153.6 1734.5 2157.3C1731.3 2160.9 1728.6 2162.2 1727 2167C1725.3 2171.8 1725 2178.9 1724.5 2186.1C1724 2193.3 1723.7 2202.3 1723.9 2210.3C1724.2 2218.4 1724.9 2227 1726 2234.6C1727.2 2242.2 1728.3 2248.8 1730.6 2255.8C1732.9 2262.9 1736.2 2270.5 1739.7 2277.1C1743.2 2283.6 1747.8 2289.2 1751.8 2295.3C1755.9 2301.3 1759.9 2307.9 1764 2313.5C1768 2319 1771.9 2323.9 1776.1 2328.6C1780.3 2333.4 1786.2 2339 1789.1 2342C1792.1 2344.9 1791.7 2344.2 1793.7 2346.5C1795.7 2348.8 1798.7 2352.1 1801.3 2355.6C1803.8 2359.1 1806.3 2363.7 1808.8 2367.7C1811.4 2371.8 1813.9 2376.1 1816.4 2379.9C1818.9 2383.7 1821.7 2386.9 1824 2390.5C1826.3 2394 1828 2397.8 1830.1 2401.1C1832.1 2404.4 1834.4 2407.2 1836.1 2410.2C1837.9 2413.2 1839.7 2416.5 1840.7 2419.3C1841.7 2422.1 1842.7 2424.6 1842.2 2426.9C1841.7 2429.1 1840.2 2431.2 1837.6 2432.9C1835.1 2434.7 1831.3 2436.2 1827 2437.5C1822.7 2438.8 1816.9 2439.9 1811.9 2440.5C1806.8 2441.2 1801.8 2441.4 1796.7 2441.4C1791.7 2441.4 1786.6 2441 1781.5 2440.5C1776.5 2440 1771.4 2439.4 1766.4 2438.4C1761.3 2437.4 1756.3 2436.1 1751.2 2434.5C1746.2 2432.8 1741.1 2430.4 1736.1 2428.4C1731 2426.4 1725.9 2424.6 1720.9 2422.3C1715.8 2420.1 1710.8 2417 1705.7 2414.7C1700.7 2412.5 1695.6 2411 1690.6 2408.7C1685.5 2406.4 1680.4 2402.9 1675.4 2401.1C1670.4 2399.3 1665.8 2399.4 1660.8 2398.1C1655.9 2396.7 1652 2394.3 1645.7 2392.9C1639.4 2391.5 1630.5 2390.6 1622.9 2389.9C1615.4 2389.1 1607.8 2388.8 1600.2 2388.4C1592.6 2388 1585 2387.6 1577.4 2387.5C1569.9 2387.3 1562.3 2387.7 1554.7 2387.5C1547.1 2387.2 1539.5 2387.4 1532 2385.9C1524.4 2384.5 1516.8 2382.1 1509.2 2379C1501.6 2375.8 1492.1 2370.1 1486.5 2366.8C1480.8 2363.5 1480.5 2362.3 1475.2 2359.2C1470 2356.2 1461.8 2352.3 1455.2 2348.3C1448.7 2344.3 1442.8 2339.9 1436.1 2335.3C1429.5 2330.7 1425.8 2388.1 1415.2 2320.7C1404.6 2253.4 1318.5 1989.2 1372.7 1931.3C1427 1873.5 1679.3 1963.3 1740.6 1973.8Z" fill="#ffe468" stroke="#1c48ff" stroke-width="3.2"/>
<path d="M1673 1973.8C1723.7 1984.7 1675 1990.2 1676.9 1996.5C1678.8 2002.9 1681.7 2006.2 1684.5 2011.7C1687.3 2017.3 1689.6 2024.6 1693.6 2029.9C1697.6 2035.2 1703.5 2039.3 1708.8 2043.6C1714.1 2047.9 1719.9 2051.6 1725.4 2055.7C1731 2059.7 1737.1 2064 1742.1 2067.8C1747.2 2071.6 1754.8 2074.9 1755.8 2078.4C1756.8 2082 1751.5 2084.7 1748.2 2089C1744.9 2093.3 1740.6 2098.9 1736.1 2104.2C1731.5 2109.5 1725.4 2115.3 1720.9 2120.9C1716.3 2126.4 1712 2132.3 1708.8 2137.6C1705.5 2142.9 1703.2 2147.8 1701.2 2152.7C1699.2 2157.6 1698.3 2161.4 1696.6 2167C1695 2172.5 1692.8 2178.9 1691.2 2186.1C1689.5 2193.3 1687.9 2202.8 1686.6 2210.3C1685.4 2217.9 1684.2 2225 1683.6 2231.6C1682.9 2238.1 1681.4 2244.7 1682.7 2249.8C1683.9 2254.8 1687.2 2257.4 1691.2 2261.9C1695.1 2266.5 1701.3 2271.5 1706.3 2277.1C1711.4 2282.6 1716.9 2289.2 1721.5 2295.3C1726 2301.3 1729.6 2307.4 1733.6 2313.5C1737.7 2319.5 1742.6 2326.9 1745.8 2331.7C1748.9 2336.4 1751.1 2339.5 1752.7 2342C1754.4 2344.4 1754.2 2344.2 1755.8 2346.5C1757.3 2348.8 1760.1 2352.3 1761.8 2355.6C1763.6 2358.9 1765.5 2362.7 1766.4 2366.2C1767.2 2369.8 1767.2 2373.6 1767 2376.8C1766.7 2380.1 1766.5 2383.2 1764.9 2385.9C1763.2 2388.7 1760.1 2391.2 1757.3 2393.5C1754.5 2395.8 1751.7 2398.2 1748.2 2399.6C1744.6 2401 1740.6 2401.9 1736.1 2402C1731.5 2402.2 1725.9 2401.4 1720.9 2400.5C1715.8 2399.6 1710.8 2398.2 1705.7 2396.5C1700.7 2394.9 1695.6 2392.8 1690.6 2390.5C1685.5 2388.2 1680.4 2385.7 1675.4 2382.9C1670.4 2380.1 1665.3 2376.8 1660.8 2373.8C1656.4 2370.8 1652.5 2367 1648.7 2364.7C1644.9 2362.4 1642.4 2360.9 1638.1 2360.2C1633.8 2359.4 1629.3 2359.8 1622.9 2360.2C1616.6 2360.6 1607.8 2361.8 1600.2 2362.6C1592.6 2363.3 1585 2364.1 1577.4 2364.7C1569.9 2365.3 1562.3 2366 1554.7 2366.2C1547.1 2366.5 1539.5 2367 1532 2366.2C1524.4 2365.4 1516.8 2363.7 1509.2 2361.4C1501.6 2359 1492.1 2354.5 1486.5 2352C1480.8 2349.4 1480.5 2349.2 1475.2 2346.2C1470 2343.2 1461.8 2338.3 1455.2 2334.1C1448.7 2329.9 1442.8 2325.5 1436.1 2321C1429.5 2316.6 1425.8 2372.3 1415.2 2307.4C1404.6 2242.4 1329.8 1986.9 1372.7 1931.3C1415.7 1875.8 1622.3 1962.9 1673 1973.8Z" fill="#ffc028" stroke="#1c48ff" stroke-width="3.2"/>
<path d="M1624.5 1973.8C1666.4 1984.3 1622.2 1988.9 1624.5 1994.4C1626.7 2000 1633.3 2002.5 1638.1 2007.2C1642.9 2011.8 1647 2017 1653.3 2022.3C1659.5 2027.6 1669.2 2034.2 1675.4 2039C1681.6 2043.8 1685.5 2047.1 1690.6 2051.1C1695.6 2055.2 1701.2 2059.7 1705.7 2063.3C1710.3 2066.8 1714.8 2069.8 1717.9 2072.4C1720.9 2074.9 1723.9 2075.6 1723.9 2078.4C1723.9 2081.2 1720.9 2084.2 1717.9 2089C1714.8 2093.8 1709.5 2101.2 1705.7 2107.2C1701.9 2113.3 1698.1 2119.4 1695.1 2125.4C1692.1 2131.5 1690.2 2138.1 1687.5 2143.6C1684.9 2149.2 1682 2154.9 1679 2158.8C1676.1 2162.7 1673.5 2162.4 1669.9 2167C1666.4 2171.5 1662.4 2179.9 1657.8 2186.1C1653.3 2192.3 1647.7 2198.2 1642.6 2204.3C1637.6 2210.3 1632.5 2216.9 1627.5 2222.5C1622.4 2228 1617.4 2233.1 1612.3 2237.6C1607.3 2242.2 1600.4 2245.2 1597.2 2249.8C1593.9 2254.3 1593.1 2259.4 1592.6 2264.9C1592.1 2270.5 1593.9 2277.1 1594.1 2283.1C1594.4 2289.2 1594.6 2295.3 1594.1 2301.3C1593.6 2307.4 1593.1 2313.9 1591.1 2319.5C1589.1 2325.1 1584.9 2331.2 1582.3 2335C1579.7 2338.8 1579.8 2340.4 1575.3 2342.3C1570.8 2344.1 1562 2345.3 1555.3 2346.2C1548.6 2347.1 1542 2347.9 1535.3 2347.7C1528.6 2347.5 1522 2346.4 1515.3 2345C1508.6 2343.6 1501.9 2341.7 1495.3 2339.2C1488.6 2336.8 1481.9 2333.5 1475.2 2330.1C1468.6 2326.7 1461.8 2323 1455.2 2318.9C1448.7 2314.9 1442.8 2310.3 1436.1 2305.9C1429.5 2301.4 1425.8 2354.6 1415.2 2292.2C1404.6 2229.8 1337.9 1984.4 1372.7 1931.3C1407.6 1878.3 1582.5 1963.3 1624.5 1973.8Z" fill="#ffa000" stroke="#1c48ff" stroke-width="3.2"/>
<path d="M1597.2 1973.8C1634.6 1984.3 1595.4 1989.4 1597.2 1994.4C1598.9 1999.5 1603.5 1999.5 1607.8 2004.1C1612.1 2008.8 1617.9 2016.8 1622.9 2022.3C1628 2027.9 1633 2032.9 1638.1 2037.5C1643.2 2042 1647 2045.1 1653.3 2049.6C1659.5 2054.2 1669.7 2061 1675.4 2064.8C1681.1 2068.6 1684 2069.9 1687.5 2072.4C1691.1 2074.8 1696.1 2076.3 1696.6 2079.3C1697.1 2082.4 1693.1 2086.7 1690.6 2090.6C1688 2094.5 1684 2099.4 1681.5 2102.7C1678.9 2106 1678.8 2105.2 1675.4 2110.3C1672 2115.3 1665.3 2125.9 1660.8 2133C1656.4 2140.1 1652 2147.1 1648.7 2152.7C1645.4 2158.4 1645.7 2159.4 1641.1 2167C1636.6 2174.6 1627.7 2189.5 1621.4 2198.2C1615.1 2207 1609.3 2213.4 1603.2 2219.4C1597.2 2225.5 1591.1 2229.6 1585 2234.6C1579 2239.7 1571.1 2245.2 1566.8 2249.8C1562.5 2254.3 1561 2256.8 1559.3 2261.9C1557.5 2267 1558 2274 1556.2 2280.1C1554.5 2286.2 1552.4 2293 1548.6 2298.3C1544.8 2303.6 1539.5 2308.7 1533.5 2311.9C1527.4 2315.2 1519.8 2316.8 1512.2 2318C1504.7 2319.2 1496.1 2320.2 1488 2318.9C1479.9 2317.7 1470.8 2314.4 1463.7 2310.4C1456.6 2306.5 1450.6 2301.1 1445.5 2295.3C1440.5 2289.4 1438.5 2282.1 1433.4 2275.5C1428.3 2269 1425.3 2313.2 1415.2 2255.8C1405.1 2198.5 1342.4 1978.4 1372.7 1931.3C1403.1 1884.3 1559.8 1963.3 1597.2 1973.8Z" fill="#ff3000" stroke="#1c48ff" stroke-width="3.2"/>
<path d="M1572.9 1973.8C1606.3 1984.3 1570.9 1989.4 1572.9 1994.4C1574.9 1999.5 1580.5 1999.5 1585 2004.1C1589.6 2008.8 1595.1 2016.5 1600.2 2022.3C1605.2 2028.1 1610.3 2034 1615.4 2039C1620.4 2044.1 1625 2048.4 1630.5 2052.7C1636.1 2056.9 1643.2 2061.2 1648.7 2064.8C1654.3 2068.3 1660.1 2071.5 1663.9 2073.9C1667.7 2076.3 1671 2076.6 1671.5 2079.3C1672 2082.1 1669.2 2085.9 1666.9 2090.6C1664.6 2095.2 1661.4 2101.4 1657.8 2107.2C1654.3 2113.1 1649.7 2119.6 1645.7 2125.4C1641.6 2131.2 1637.6 2136.8 1633.6 2142.1C1629.5 2147.4 1625 2153.1 1621.4 2157.3C1617.9 2161.4 1616.4 2162.7 1612.3 2167C1608.3 2171.3 1603.2 2177.3 1597.2 2183.1C1591.1 2188.8 1583 2195.2 1575.9 2201.2C1568.9 2207.3 1561.8 2213.4 1554.7 2219.4C1547.6 2225.5 1539 2231.1 1533.5 2237.6C1527.9 2244.2 1524.9 2252.3 1521.3 2258.9C1517.8 2265.4 1515.3 2271.8 1512.2 2277.1C1509.2 2282.4 1507.2 2288.4 1503.1 2290.7C1499.1 2293 1493 2292 1488 2290.7C1482.9 2289.4 1477.1 2286.4 1472.8 2283.1C1468.5 2279.8 1464.8 2275.5 1462.2 2271C1459.6 2266.5 1457.3 2259.9 1457.1 2255.8C1456.8 2251.8 1458.1 2249.8 1460.7 2246.7C1463.3 2243.7 1467.8 2240.7 1472.8 2237.6C1477.9 2234.6 1485.5 2231.6 1491 2228.5C1496.6 2225.5 1501.9 2222.5 1506.2 2219.4C1510.5 2216.4 1516.3 2212.9 1516.8 2210.3C1517.3 2207.8 1512.5 2206.8 1509.2 2204.3C1505.9 2201.8 1501.1 2199.2 1497.1 2195.2C1493 2191.1 1489.3 2184.7 1485 2180C1480.7 2175.3 1476.1 2170.3 1471.3 2167C1466.5 2163.7 1462 2162.4 1456.1 2160.3C1450.3 2158.2 1443.3 2156 1436.4 2154.2C1429.6 2152.5 1425.8 2186.8 1415.2 2149.7C1404.6 2112.5 1346.5 1960.7 1372.7 1931.3C1399 1902 1539.5 1963.3 1572.9 1973.8Z" fill="#ff1000" stroke="#1c48ff" stroke-width="3.2"/>
<path d="M1547.1 1973.8C1576.2 1984.3 1544.6 1989.4 1547.1 1994.4C1549.6 1999.5 1557.2 2000 1562.3 2004.1C1567.3 2008.3 1572.4 2014 1577.4 2019.3C1582.5 2024.6 1587.6 2030.7 1592.6 2036C1597.7 2041.3 1602.7 2046.6 1607.8 2051.1C1612.8 2055.7 1617.9 2059.7 1622.9 2063.3C1628 2066.8 1633.8 2069.8 1638.1 2072.4C1642.4 2074.9 1648 2075.4 1648.7 2078.4C1649.5 2081.5 1645.2 2086.3 1642.6 2090.6C1640.1 2094.9 1636.8 2099.7 1633.6 2104.2C1630.3 2108.8 1626.7 2113.3 1622.9 2117.9C1619.1 2122.4 1615.1 2127 1610.8 2131.5C1606.5 2136 1601.5 2141.1 1597.2 2145.1C1592.9 2149.2 1589.1 2152.1 1585 2155.8C1581 2159.4 1578 2164.1 1572.9 2167C1567.8 2169.9 1560.3 2171.5 1554.7 2173C1549.1 2174.6 1542.5 2175.5 1539.5 2176.1C1536.6 2176.6 1537.9 2176.6 1537.1 2176.4C1536.3 2176.2 1536.8 2176.4 1534.7 2174.9C1532.6 2173.3 1529.9 2169.9 1524.4 2167C1518.9 2164 1509.2 2160.7 1501.6 2157.3C1494.1 2153.9 1486.5 2150.2 1478.9 2146.7C1471.3 2143.1 1463.2 2139.3 1456.1 2136C1449.1 2132.8 1443.3 2129.7 1436.4 2127C1429.6 2124.2 1425.8 2152 1415.2 2119.4C1404.6 2086.8 1350.8 1955.6 1372.7 1931.3C1394.7 1907.1 1518.1 1963.3 1547.1 1973.8Z" fill="#e00000" stroke="#1c48ff" stroke-width="3.2"/>
<path d="M1506.2 1973.8C1528.4 1984.3 1503.1 1990.1 1506.2 1994.4C1509.2 1998.7 1518.3 1997.2 1524.4 1999.6C1530.4 2002 1537 2004.9 1542.6 2008.7C1548.1 2012.5 1553.2 2017.8 1557.7 2022.3C1562.3 2026.9 1565.8 2031.4 1569.9 2036C1573.9 2040.5 1577.4 2045.3 1582 2049.6C1586.5 2053.9 1592.1 2058 1597.2 2061.7C1602.2 2065.5 1608.3 2069.6 1612.3 2072.4C1616.4 2075.1 1620.9 2075.9 1621.4 2078.4C1621.9 2081 1618.4 2084.2 1615.4 2087.5C1612.3 2090.8 1607.8 2094.6 1603.2 2098.1C1598.7 2101.7 1593.6 2105.5 1588.1 2108.8C1582.5 2112 1575.4 2115.1 1569.9 2117.9C1564.3 2120.6 1559.3 2122.7 1554.7 2125.4C1550.2 2128.2 1547.1 2132.4 1542.6 2134.5C1538 2136.7 1533 2138.1 1527.4 2138.5C1521.9 2138.9 1514.8 2137.9 1509.2 2137C1503.7 2136 1499.1 2134.7 1494.1 2133C1489 2131.3 1483.9 2129 1478.9 2127C1473.8 2124.9 1468.8 2122.9 1463.7 2120.9C1458.7 2118.9 1453.1 2116.7 1448.6 2114.8C1444 2113 1442 2111.4 1436.4 2109.7C1430.9 2107.9 1425.8 2133.9 1415.2 2104.2C1404.6 2074.5 1357.6 1953.1 1372.7 1931.3C1387.9 1909.6 1483.9 1963.3 1506.2 1973.8Z" fill="#b80000" stroke="#1c48ff" stroke-width="3.2"/>
<path d="M1898.3 1985.9C1889.9 1996.5 1896.8 1992.8 1898.3 1995C1899.8 1997.3 1904.2 1997.8 1907.4 1999.6C1910.6 2001.4 1910.5 2002.9 1917.4 2005.6C1924.3 2008.4 1943.7 2028.6 1948.9 2016.3C1954.2 2003.9 1957.4 1936.4 1948.9 1931.3C1940.5 1926.3 1906.7 1975.3 1898.3 1985.9Z" fill="#98f0f8" stroke="#1c48ff" stroke-width="3.2" stroke-dasharray="9.5 6"/>
<path d="M1948.9 2125.4C1943.7 2091.1 1925.6 2134 1917.4 2137.6C1909.2 2141.1 1905.3 2143.6 1899.8 2146.7C1894.4 2149.7 1890.5 2153.6 1884.7 2155.8C1878.8 2157.9 1872 2158.8 1864.9 2159.7C1857.9 2160.6 1849.3 2160.4 1842.2 2161.2C1835.1 2162.1 1828.4 2162.7 1822.5 2164.9C1816.5 2167 1811.1 2169.9 1806.4 2174C1801.7 2178 1797.6 2183.1 1794.3 2189.1C1791 2195.2 1788 2203.3 1786.7 2210.3C1785.4 2217.4 1785.9 2224.5 1786.7 2231.6C1787.5 2238.7 1789 2246.2 1791.2 2252.8C1793.5 2259.4 1796.3 2264.9 1800.3 2271C1804.4 2277.1 1809.9 2283.6 1815.5 2289.2C1821.1 2294.8 1827.1 2299.8 1833.7 2304.4C1840.3 2308.9 1847.9 2313 1854.9 2316.5C1862 2320 1869.1 2322.8 1876.2 2325.6C1883.2 2328.4 1890.5 2331.1 1897.4 2333.2C1904.3 2335.2 1908.8 2335.9 1917.4 2337.7C1926 2339.5 1943.7 2379.2 1948.9 2343.8C1954.2 2308.4 1954.2 2159.8 1948.9 2125.4Z" fill="#98f0f8" stroke="#1c48ff" stroke-width="3.2" stroke-dasharray="9.5 6"/>
<path d="M1948.9 2149.7C1943.7 2124.9 1925.5 2157.8 1917.4 2161.8C1909.3 2165.9 1906.8 2169.4 1900.4 2174C1894.1 2178.5 1886.3 2185.6 1879.2 2189.1C1872.1 2192.7 1864.5 2193.2 1858 2195.2C1851.4 2197.2 1844.6 2198.7 1839.8 2201.2C1835 2203.8 1831.4 2206.3 1829.2 2210.3C1826.9 2214.4 1825.9 2219.4 1826.1 2225.5C1826.4 2231.6 1827.9 2240.7 1830.7 2246.7C1833.5 2252.8 1837.7 2257.4 1842.8 2261.9C1847.9 2266.5 1854.4 2270.2 1861 2274C1867.6 2277.8 1875.1 2281.1 1882.2 2284.6C1889.3 2288.2 1897.6 2292.2 1903.5 2295.3C1909.3 2298.3 1909.8 2300.3 1917.4 2302.8C1925 2305.4 1943.7 2335.9 1948.9 2310.4C1954.2 2284.9 1954.2 2174.5 1948.9 2149.7Z" fill="#80dcfc" stroke="#1c48ff" stroke-width="3.2" stroke-dasharray="9.5 6"/>
<path d="M1948.9 2198.2C1943.7 2192.2 1923.7 2200.7 1917.4 2204.3C1911.1 2207.8 1911 2214.4 1911 2219.4C1911 2224.5 1911.1 2231.1 1917.4 2234.6C1923.7 2238.1 1943.7 2246.7 1948.9 2240.7C1954.2 2234.6 1954.2 2204.3 1948.9 2198.2Z" fill="#48b4f8" stroke="#1c48ff" stroke-width="3.2" stroke-dasharray="9.5 6"/>
<path d="M1415.2 2354.1C1426.3 2292.4 1432.6 2362.7 1439.5 2366.2C1446.3 2369.8 1449.6 2371.5 1456.1 2375.3C1462.7 2379.1 1471.3 2384.7 1478.9 2389C1486.5 2393.3 1494.1 2397.8 1501.6 2401.1C1509.2 2404.4 1516.8 2406.4 1524.4 2408.7C1532 2411 1539.5 2413.2 1547.1 2414.7C1554.7 2416.3 1562.3 2417 1569.9 2417.8C1577.4 2418.5 1585 2418.8 1592.6 2419.3C1600.2 2419.8 1607.8 2419.8 1615.4 2420.8C1622.9 2421.8 1631.8 2423.8 1638.1 2425.4C1644.4 2426.9 1647 2428.4 1653.3 2429.9C1659.5 2431.4 1669.2 2432.4 1675.4 2434.5C1681.6 2436.5 1685.5 2439.5 1690.6 2442C1695.6 2444.6 1700.7 2446.8 1705.7 2449.6C1710.8 2452.4 1715.8 2455.7 1720.9 2458.7C1725.9 2461.7 1731 2465 1736.1 2467.8C1741.1 2470.6 1746.2 2472.9 1751.2 2475.4C1756.3 2477.9 1761.3 2480.5 1766.4 2483C1771.4 2485.5 1776.5 2488.3 1781.5 2490.6C1786.6 2492.8 1791.7 2494.6 1796.7 2496.6C1801.8 2498.6 1806.8 2500.9 1811.9 2502.7C1816.9 2504.5 1822 2505.7 1827 2507.2C1832.1 2508.8 1837.1 2510.5 1842.2 2511.8C1847.2 2513.1 1852.3 2514.1 1857.4 2514.8C1862.4 2515.6 1867.5 2516 1872.5 2516.3C1877.6 2516.7 1882.5 2516.4 1887.7 2516.9C1892.8 2517.4 1898.5 2518.7 1903.5 2519.4C1908.4 2520 1909.8 2520.1 1917.4 2520.9C1925 2521.6 1943.7 2488 1948.9 2523.9C1954.2 2559.8 2045 2700.8 1948.9 2736.2C1852.9 2771.6 1461.7 2799.9 1372.7 2736.2C1283.8 2672.5 1404.1 2415.8 1415.2 2354.1Z" fill="#98f0f8" stroke="#1c48ff" stroke-width="3.2" stroke-dasharray="9.5 6"/>
<path d="M1415.2 2369.3C1425.8 2309.6 1429.6 2375.3 1436.4 2378.4C1443.3 2381.4 1449.1 2383.7 1456.1 2387.5C1463.2 2391.2 1471.3 2396.8 1478.9 2401.1C1486.5 2405.4 1494.1 2409.7 1501.6 2413.2C1509.2 2416.8 1516.8 2419.5 1524.4 2422.3C1532 2425.1 1539.5 2428.1 1547.1 2429.9C1554.7 2431.7 1562.3 2432.2 1569.9 2432.9C1577.4 2433.7 1585 2434 1592.6 2434.5C1600.2 2435 1607.8 2435 1615.4 2436C1622.9 2437 1631.8 2439 1638.1 2440.5C1644.4 2442 1647 2443.3 1653.3 2445.1C1659.5 2446.8 1669.2 2448.9 1675.4 2451.1C1681.6 2453.4 1685.5 2455.9 1690.6 2458.7C1695.6 2461.5 1700.7 2464.5 1705.7 2467.8C1710.8 2471.1 1715.8 2475.1 1720.9 2478.4C1725.9 2481.7 1731 2484.5 1736.1 2487.5C1741.1 2490.6 1746.2 2493.8 1751.2 2496.6C1756.3 2499.4 1761.3 2501.9 1766.4 2504.2C1771.4 2506.5 1776.5 2508.1 1781.5 2510.3C1786.6 2512.4 1791.6 2514.7 1796.7 2516.9C1801.9 2519.2 1806.3 2521.2 1812.5 2523.9C1818.6 2526.6 1826.1 2530 1833.7 2533C1841.3 2536 1849.9 2539.6 1858 2542.1C1866.1 2544.6 1872.3 2546.4 1882.2 2548.2C1892.1 2549.9 1906.3 2551.5 1917.4 2552.7C1928.5 2554 1943.7 2525.2 1948.9 2555.8C1954.2 2586.3 2045 2706.1 1948.9 2736.2C1852.9 2766.3 1461.7 2797.4 1372.7 2736.2C1283.8 2675 1404.6 2428.9 1415.2 2369.3Z" fill="#80dcfc" stroke="#1c48ff" stroke-width="3.2" stroke-dasharray="9.5 6"/>
<path d="M1415.2 2385.9C1425.8 2329.1 1429.6 2392 1436.4 2395C1443.3 2398.1 1449.1 2400.8 1456.1 2404.1C1463.2 2407.4 1471.3 2411 1478.9 2414.7C1486.5 2418.5 1494.1 2423.1 1501.6 2426.9C1509.2 2430.7 1516.8 2434.5 1524.4 2437.5C1532 2440.5 1539.5 2443.3 1547.1 2445.1C1554.7 2446.8 1562.3 2447.3 1569.9 2448.1C1577.4 2448.9 1585 2448.9 1592.6 2449.6C1600.2 2450.4 1607.8 2451.4 1615.4 2452.7C1622.9 2453.9 1631.8 2455.7 1638.1 2457.2C1644.4 2458.7 1647 2460 1653.3 2461.7C1659.5 2463.5 1669.2 2465.3 1675.4 2467.8C1681.6 2470.3 1685.5 2473.6 1690.6 2476.9C1695.6 2480.2 1700.7 2484 1705.7 2487.5C1710.8 2491.1 1715.8 2494.9 1720.9 2498.1C1725.9 2501.4 1731 2504.1 1736.1 2507.2C1741.1 2510.4 1746.1 2513.7 1751.2 2516.9C1756.4 2520.2 1761.3 2523.3 1767 2527C1772.6 2530.6 1778.6 2535 1785.2 2539.1C1791.8 2543.1 1799.3 2547.7 1806.4 2551.2C1813.5 2554.7 1822.1 2556.8 1827.6 2560.3C1833.2 2563.8 1835.2 2568.4 1839.8 2572.4C1844.3 2576.5 1849.4 2581 1854.9 2584.6C1860.5 2588.1 1866.6 2591.1 1873.1 2593.7C1879.7 2596.2 1887 2598.2 1894.4 2599.7C1901.7 2601.2 1908.3 2601.8 1917.4 2602.8C1926.5 2603.8 1943.7 2583.6 1948.9 2605.8C1954.2 2628 2045 2714.5 1948.9 2736.2C1852.9 2757.9 1461.7 2794.6 1372.7 2736.2C1283.8 2677.8 1404.6 2442.8 1415.2 2385.9Z" fill="#48b4f8" stroke="#1c48ff" stroke-width="3.2" stroke-dasharray="9.5 6"/>
<path d="M1415.2 2420.8C1418.7 2376.6 1430.4 2420.8 1436.4 2420.8C1442.5 2420.8 1445.8 2420.3 1451.6 2420.8C1457.4 2421.3 1464.2 2421.8 1471.3 2423.8C1478.4 2425.9 1486.5 2429.4 1494.1 2432.9C1501.6 2436.5 1509.2 2441.5 1516.8 2445.1C1524.4 2448.6 1532 2451.6 1539.5 2454.2C1547.1 2456.7 1554.7 2458.5 1562.3 2460.2C1569.9 2462 1577.4 2463.5 1585 2464.8C1592.6 2466 1600.2 2466.6 1607.8 2467.8C1615.4 2469.1 1622.9 2470.6 1630.5 2472.4C1638.1 2474.1 1645.8 2475.9 1653.3 2478.4C1660.7 2481 1669.2 2484.2 1675.4 2487.5C1681.6 2490.8 1685.5 2494.6 1690.6 2498.1C1695.6 2501.7 1701.2 2505.6 1705.7 2508.8C1710.3 2511.9 1713.7 2513.9 1717.9 2516.9C1722 2520 1726.5 2523.3 1730.6 2527C1734.7 2530.6 1738.2 2535 1742.7 2539.1C1747.3 2543.1 1753.6 2547.2 1757.9 2551.2C1762.2 2555.3 1766.2 2558.3 1768.5 2563.3C1770.8 2568.4 1771.3 2575.5 1771.5 2581.5C1771.8 2587.6 1771.8 2594.9 1770 2599.7C1768.2 2604.5 1765 2607.3 1760.9 2610.3C1756.9 2613.4 1751.8 2615.1 1745.8 2617.9C1739.7 2620.7 1731.6 2623.7 1724.5 2627C1717.5 2630.3 1710.4 2633.8 1703.3 2637.6C1696.2 2641.4 1689.1 2646 1682.1 2649.8C1675 2653.6 1667.4 2657.1 1660.8 2660.4C1654.3 2663.7 1649.2 2666.7 1642.6 2669.5C1636.1 2672.3 1629 2675.1 1621.4 2677.1C1613.8 2679 1605.8 2680.5 1597.2 2681C1588.6 2681.5 1579 2680.6 1569.9 2680.1C1560.8 2679.6 1551.7 2678.5 1542.6 2678C1533.5 2677.5 1523.9 2677.5 1515.3 2677.1C1506.7 2676.7 1499.1 2676.1 1491 2675.5C1482.9 2675 1473.8 2673.8 1466.8 2674C1459.7 2674.3 1454.1 2675.8 1448.6 2677.1C1443 2678.3 1439 2680.1 1433.4 2681.6C1427.8 2683.1 1418.2 2729.6 1415.2 2686.2C1412.2 2642.7 1411.7 2465 1415.2 2420.8Z" fill="#0890f0" stroke="#1c48ff" stroke-width="3.2" stroke-dasharray="9.5 6"/>
<path d="M1439.5 2516.9C1440 2509.6 1439.7 2494.5 1441 2486C1442.2 2477.6 1444.3 2472.1 1447 2466.3C1449.8 2460.5 1453.6 2454.4 1457.7 2451.1C1461.7 2447.9 1466.5 2447.1 1471.3 2446.6C1476.1 2446.1 1480.2 2446.3 1486.5 2448.1C1492.8 2449.9 1501.6 2454.4 1509.2 2457.2C1516.8 2460 1524.4 2462.5 1532 2464.8C1539.5 2467.1 1547.1 2469.1 1554.7 2470.8C1562.3 2472.6 1569.9 2473.6 1577.4 2475.4C1585 2477.2 1592.6 2479.4 1600.2 2481.5C1607.8 2483.5 1615.4 2485 1622.9 2487.5C1630.5 2490.1 1639.4 2493.6 1645.7 2496.6C1652 2499.7 1655.9 2502.7 1660.8 2505.7C1665.8 2508.8 1670.3 2511.3 1675.4 2514.8C1680.5 2518.4 1686.8 2522.4 1691.2 2527C1695.6 2531.5 1699.3 2537.1 1701.8 2542.1C1704.3 2547.2 1706.6 2552.7 1706.3 2557.3C1706.1 2561.8 1703.8 2565.6 1700.3 2569.4C1696.7 2573.2 1691.2 2576.7 1685.1 2580C1679 2583.3 1671.5 2586.1 1663.9 2589.1C1656.3 2592.2 1647.7 2594.9 1639.6 2598.2C1631.5 2601.5 1622.9 2605 1615.4 2608.8C1607.8 2612.6 1600.7 2616.9 1594.1 2621C1587.6 2625 1582 2629 1575.9 2633.1C1569.9 2637.1 1564.3 2641.9 1557.7 2645.2C1551.2 2648.5 1544.1 2651 1536.5 2652.8C1528.9 2654.6 1519.8 2655.8 1512.2 2655.8C1504.7 2655.8 1497.6 2654.6 1491 2652.8C1484.4 2651 1478.4 2648.5 1472.8 2645.2C1467.3 2641.9 1462.2 2637.6 1457.7 2633.1C1453.1 2628.5 1448.8 2623.5 1445.5 2617.9C1442.2 2612.4 1439.5 2606.3 1437.9 2599.7C1436.4 2593.2 1436.6 2586.1 1436.4 2578.5C1436.3 2570.9 1436.8 2562.3 1437 2554.2C1437.3 2546.2 1437.5 2536.2 1437.9 2530C1438.4 2523.8 1439 2524.3 1439.5 2516.9Z" fill="#0870e0" stroke="#1c48ff" stroke-width="3.2" stroke-dasharray="9.5 6"/>
<path d="M1460.7 2516.9C1461.3 2511.4 1461.7 2501.8 1463.7 2496.6C1465.7 2491.5 1469 2488.8 1472.8 2486C1476.6 2483.2 1481.7 2481.2 1486.5 2479.9C1491.3 2478.7 1496.6 2477.9 1501.6 2478.4C1506.7 2478.9 1510.5 2481 1516.8 2483C1523.1 2485 1532 2488.3 1539.5 2490.6C1547.1 2492.8 1554.7 2494.6 1562.3 2496.6C1569.9 2498.6 1577.4 2500.9 1585 2502.7C1592.6 2504.5 1600.2 2505.5 1607.8 2507.2C1615.4 2509 1625.5 2511.7 1630.5 2513.3C1635.6 2514.9 1636.3 2514.2 1638.1 2516.9C1639.9 2519.7 1640.6 2524.8 1641.1 2530C1641.6 2535.2 1641.9 2543.1 1641.1 2548.2C1640.4 2553.2 1639.9 2557 1636.6 2560.3C1633.3 2563.6 1627.5 2565.4 1621.4 2567.9C1615.4 2570.4 1607.3 2572.9 1600.2 2575.5C1593.1 2578 1586 2580.5 1579 2583.1C1571.9 2585.6 1564.3 2588.1 1557.7 2590.6C1551.2 2593.2 1545.1 2595.2 1539.5 2598.2C1534 2601.2 1529.4 2605.5 1524.4 2608.8C1519.3 2612.1 1513.8 2616.3 1509.2 2617.9C1504.7 2619.5 1501.6 2619.5 1497.1 2618.5C1492.5 2617.5 1487 2615 1481.9 2611.9C1476.9 2608.7 1470 2605.3 1466.8 2599.7C1463.5 2594.2 1463.3 2586.1 1462.2 2578.5C1461.1 2570.9 1460.4 2562.3 1460.1 2554.2C1459.7 2546.2 1460 2536.2 1460.1 2530C1460.2 2523.8 1460.1 2522.5 1460.7 2516.9Z" fill="#0850c0" stroke="#1c48ff" stroke-width="3.2" stroke-dasharray="9.5 6"/>
<path d="M1622.6 1993.5L1621.1 2012.3L1627.5 2010.8L1632.3 2019L1634.8 1997.8L1639 1995.6L1660.2 1995.6L1661.8 2004.1L1658.4 2017.2L1662.7 2015.7L1664.2 2005.9L1671.5 2002.6L1678.1 2003.5L1687.8 2009.3L1697.5 2012.3L1703.3 2014.1L1704.2 2019L1712.4 2018.1L1714.8 2025.4L1717.3 2033.5L1716.3 2040.2L1723.6 2036.9L1730.3 2034.5L1736.7 2035.4L1743.3 2039.3L1749.7 2040.2L1756.4 2043.3L1764.6 2044.2L1770.9 2040.8L1777.6 2040.5L1782.5 2045.1L1790.6 2051.4L1798.5 2059.6L1806.7 2067.8L1813.4 2074.2L1818.2 2079.3L1824.6 2081.8L1832.8 2081.2L1837.6 2079.3L1842.5 2083.3L1845.2 2092.4L1847.7 2102.1L1850.1 2115.1L1851 2127L1848.3 2143.6L1839.8 2158.8L1827.6 2174L1818.5 2186.1L1812.5 2201.2L1803.4 2216.4L1794.3 2225.5L1792.8 2243.7L1794.3 2264.9L1792.8 2283.1L1791.2 2298.3L1786.7 2310.4L1785.2 2325.6L1779.1 2337.7L1777.6 2342L1773.1 2351.1L1767 2363.2L1765.5 2373.8L1751.8 2385.9L1750.3 2392L1733.6 2395L1718.5 2394.1L1715.4 2398.1L1709.4 2399.6L1706.3 2405.6L1694.2 2410.2L1682.1 2420.8L1669.9 2432.9L1660.8 2443.6L1660.2 2463.3L1659.3 2487.5L1648.7 2499.7L1639.6 2514.8L1633.6 2530L1624.5 2545.1L1609.3 2558.8L1603.2 2572.4L1591.1 2584.6L1586.5 2593.7L1575.9 2601.2L1560.8 2601.2L1545.6 2598.2L1533.5 2593.7L1525.9 2587.6L1522.9 2593.7L1527.4 2599.7L1536.5 2605.8L1541.1 2610.3L1539.5 2621L1542.6 2627L1548.6 2633.1L1545.6 2642.2L1538 2654.3L1533.5 2660.4L1518.3 2668L1494.1 2673.1L1472.8 2675.5L1469.8 2671L1469.8 2678.6L1474.3 2684.6L1472.8 2693.7" fill="none" stroke="#161616" stroke-width="1.75" stroke-linejoin="round"/>
</g>
<rect x="1432.9" y="1991.9" width="484.9" height="700.8" fill="none" stroke="#000" stroke-width="6.4"/>
<path d="M1420.9 1992H1433.4" stroke="#000" stroke-width="3" fill="none"/>
<text y="2007" font-size="39" font-weight="normal" stroke="#000" stroke-width="1.0"><tspan x="1367.9" textLength="43" lengthAdjust="spacingAndGlyphs">EQ</tspan></text>
<path d="M1420.9 2167H1433.4" stroke="#000" stroke-width="3" fill="none"/>
<text y="2182" font-size="39" font-weight="normal" stroke="#000" stroke-width="1.0"><tspan x="1350.9" textLength="60" lengthAdjust="spacingAndGlyphs">10S</tspan></text>
<path d="M1420.9 2342H1433.4" stroke="#000" stroke-width="3" fill="none"/>
<text y="2357" font-size="39" font-weight="normal" stroke="#000" stroke-width="1.0"><tspan x="1350.9" textLength="60" lengthAdjust="spacingAndGlyphs">20S</tspan></text>
<path d="M1420.9 2517H1433.4" stroke="#000" stroke-width="3" fill="none"/>
<text y="2532" font-size="39" font-weight="normal" stroke="#000" stroke-width="1.0"><tspan x="1350.9" textLength="60" lengthAdjust="spacingAndGlyphs">30S</tspan></text>
<path d="M1420.9 2692H1433.4" stroke="#000" stroke-width="3" fill="none"/>
<text y="2707" font-size="39" font-weight="normal" stroke="#000" stroke-width="1.0"><tspan x="1350.9" textLength="60" lengthAdjust="spacingAndGlyphs">40S</tspan></text>
<path d="M1502.5 2692V2705" stroke="#000" stroke-width="3.2" fill="none"/>
<text y="2738.3" font-size="39" font-weight="normal" stroke="#000" stroke-width="1.0"><tspan x="1470.5" textLength="64" lengthAdjust="spacingAndGlyphs">60W</tspan></text>
<path d="M1640.8 2692V2705" stroke="#000" stroke-width="3.2" fill="none"/>
<text y="2738.3" font-size="39" font-weight="normal" stroke="#000" stroke-width="1.0"><tspan x="1608.8" textLength="64" lengthAdjust="spacingAndGlyphs">50W</tspan></text>
<path d="M1779.1 2692V2705" stroke="#000" stroke-width="3.2" fill="none"/>
<text y="2738.3" font-size="39" font-weight="normal" stroke="#000" stroke-width="1.0"><tspan x="1747.1" textLength="64" lengthAdjust="spacingAndGlyphs">40W</tspan></text>
<path d="M1917.4 2692V2705" stroke="#000" stroke-width="3.2" fill="none"/>
<text y="2738.3" font-size="39" font-weight="normal" stroke="#000" stroke-width="1.0"><tspan x="1885.4" textLength="64" lengthAdjust="spacingAndGlyphs">30W</tspan></text>
</g>
<text y="59.5" font-size="40" font-weight="normal" stroke="#000" stroke-width="1.5"><tspan x="706" textLength="94.3" lengthAdjust="spacingAndGlyphs">EOFs</tspan> <tspan x="824.2" textLength="35.2" lengthAdjust="spacingAndGlyphs">of</tspan> <tspan x="885" textLength="65.5" lengthAdjust="spacingAndGlyphs">DJF</tspan> <tspan x="974.4" textLength="84.7" lengthAdjust="spacingAndGlyphs">OLR:</tspan> <tspan x="1086.3" textLength="94.3" lengthAdjust="spacingAndGlyphs">SACZ</tspan></text>
<text y="110.7" font-size="40" font-weight="normal" stroke="#000" stroke-width="1.5"><tspan x="488.4" textLength="113.6" lengthAdjust="spacingAndGlyphs">CMIP5</tspan> <tspan x="628.1" textLength="99.8" lengthAdjust="spacingAndGlyphs">GCMs</tspan> <tspan x="754" textLength="198" lengthAdjust="spacingAndGlyphs">(Nonlinear</tspan> <tspan x="973.8" textLength="101.3" lengthAdjust="spacingAndGlyphs">ENSO</tspan> <tspan x="1099.7" textLength="300.8" lengthAdjust="spacingAndGlyphs">characteristics)</tspan></text>
<text y="188.4" font-size="58" font-weight="normal" stroke="#000" stroke-width="1.5"><tspan x="153.2" textLength="48.6" lengthAdjust="spacingAndGlyphs">a)</tspan> <tspan x="236" textLength="297.4" lengthAdjust="spacingAndGlyphs">NCEP/NOAA</tspan></text>
<text y="188.4" font-size="58" font-weight="normal" stroke="#000" stroke-width="1.5"><tspan x="730.9" textLength="49.1" lengthAdjust="spacingAndGlyphs">b)</tspan> <tspan x="813.8" textLength="284.1" lengthAdjust="spacingAndGlyphs">CMCC−CMS</tspan> <tspan x="1132.4" textLength="154.5" lengthAdjust="spacingAndGlyphs">(0.68)</tspan></text>
<text y="188.4" font-size="58" font-weight="normal" stroke="#000" stroke-width="1.5"><tspan x="1383.5" textLength="48.3" lengthAdjust="spacingAndGlyphs">c)</tspan> <tspan x="1464.7" textLength="313.1" lengthAdjust="spacingAndGlyphs">CMCC−CESM</tspan> <tspan x="1812.6" textLength="156.6" lengthAdjust="spacingAndGlyphs">(0.47)</tspan></text>
<text y="1071.4" font-size="58" font-weight="normal" stroke="#000" stroke-width="1.5"><tspan x="84.4" textLength="48.9" lengthAdjust="spacingAndGlyphs">d)</tspan> <tspan x="167.1" textLength="244.4" lengthAdjust="spacingAndGlyphs">BNU−ESM</tspan> <tspan x="445.3" textLength="156.1" lengthAdjust="spacingAndGlyphs">(0.79)</tspan></text>
<text y="1071.4" font-size="58" font-weight="normal" stroke="#000" stroke-width="1.5"><tspan x="728.8" textLength="48.9" lengthAdjust="spacingAndGlyphs">e)</tspan> <tspan x="809.6" textLength="287.6" lengthAdjust="spacingAndGlyphs">GISS−E2−R</tspan> <tspan x="1134.8" textLength="154.1" lengthAdjust="spacingAndGlyphs">(0.30)</tspan></text>
<text y="1071.4" font-size="58" font-weight="normal" stroke="#000" stroke-width="1.5"><tspan x="1462.7" textLength="35.7" lengthAdjust="spacingAndGlyphs">f)</tspan> <tspan x="1532.3" textLength="169.1" lengthAdjust="spacingAndGlyphs">CCSM4</tspan> <tspan x="1735.3" textLength="154.1" lengthAdjust="spacingAndGlyphs">(0.54)</tspan></text>
<text y="1954.4" font-size="58" font-weight="normal" stroke="#000" stroke-width="1.5"><tspan x="64.4" textLength="47" lengthAdjust="spacingAndGlyphs">g)</tspan> <tspan x="147.1" textLength="283.9" lengthAdjust="spacingAndGlyphs">CNRM−CM5</tspan> <tspan x="466.7" textLength="154.1" lengthAdjust="spacingAndGlyphs">(0.60)</tspan></text>
<text y="1954.4" font-size="58" font-weight="normal" stroke="#000" stroke-width="1.5"><tspan x="740.1" textLength="47" lengthAdjust="spacingAndGlyphs">h)</tspan> <tspan x="822.8" textLength="266.9" lengthAdjust="spacingAndGlyphs">GFDL−CM3</tspan> <tspan x="1123.5" textLength="154.2" lengthAdjust="spacingAndGlyphs">(0.81)</tspan></text>
<text y="1954.4" font-size="58" font-weight="normal" stroke="#000" stroke-width="1.5"><tspan x="1379.6" textLength="31.5" lengthAdjust="spacingAndGlyphs">i)</tspan> <tspan x="1444.5" textLength="335.8" lengthAdjust="spacingAndGlyphs">GFDL−ESM2M</tspan> <tspan x="1815.7" textLength="157.1" lengthAdjust="spacingAndGlyphs">(0.60)</tspan></text>
<path d="M390.5 2753L303 2775.1L390.5 2797.1Z" fill="#0630ac" stroke="#000" stroke-width="4.6" stroke-linejoin="round"/>
<path d="M1625.6 2753L1715.5 2775.1L1625.6 2797.1Z" fill="#b80000" stroke="#000" stroke-width="4.6" stroke-linejoin="round"/>
<rect x="390.5" y="2753.7" width="88.2" height="42.7" fill="#0850c0"/>
<rect x="478.7" y="2753.7" width="88.2" height="42.7" fill="#0870e0"/>
<rect x="566.9" y="2753.7" width="88.2" height="42.7" fill="#0890f0"/>
<rect x="655.2" y="2753.7" width="88.2" height="42.7" fill="#48b4f8"/>
<rect x="743.4" y="2753.7" width="88.2" height="42.7" fill="#80dcfc"/>
<rect x="831.6" y="2753.7" width="88.2" height="42.7" fill="#98f0f8"/>
<rect x="919.8" y="2753.7" width="88.2" height="42.7" fill="#d8ffff"/>
<rect x="1008" y="2753.7" width="88.2" height="42.7" fill="#fff8a8"/>
<rect x="1096.3" y="2753.7" width="88.2" height="42.7" fill="#ffe468"/>
<rect x="1184.5" y="2753.7" width="88.2" height="42.7" fill="#ffc028"/>
<rect x="1272.7" y="2753.7" width="88.2" height="42.7" fill="#ffa000"/>
<rect x="1360.9" y="2753.7" width="88.2" height="42.7" fill="#ff3000"/>
<rect x="1449.1" y="2753.7" width="88.2" height="42.7" fill="#ff1000"/>
<rect x="1537.4" y="2753.7" width="88.2" height="42.7" fill="#e00000"/>
<path d="M388 2753.7H1628.1M388 2796.4H1628.1" stroke="#000" stroke-width="6" fill="none"/>
<path d="M390.5 2753.7V2796.4M478.7 2753.7V2796.4M566.9 2753.7V2796.4M655.2 2753.7V2796.4M743.4 2753.7V2796.4M831.6 2753.7V2796.4M919.8 2753.7V2796.4M1008 2753.7V2796.4M1096.3 2753.7V2796.4M1184.5 2753.7V2796.4M1272.7 2753.7V2796.4M1360.9 2753.7V2796.4M1449.1 2753.7V2796.4M1537.4 2753.7V2796.4M1625.6 2753.7V2796.4" stroke="#000" stroke-width="4.8" fill="none"/>
<text y="2836.8" font-size="47" font-weight="bold"><tspan x="351.2" textLength="78.7" lengthAdjust="spacingAndGlyphs">−70</tspan></text>
<text y="2836.8" font-size="47" font-weight="bold"><tspan x="439.4" textLength="78.7" lengthAdjust="spacingAndGlyphs">−60</tspan></text>
<text y="2836.8" font-size="47" font-weight="bold"><tspan x="527.6" textLength="78.7" lengthAdjust="spacingAndGlyphs">−50</tspan></text>
<text y="2836.8" font-size="47" font-weight="bold"><tspan x="615.9" textLength="78.7" lengthAdjust="spacingAndGlyphs">−40</tspan></text>
<text y="2836.8" font-size="47" font-weight="bold"><tspan x="704.1" textLength="78.7" lengthAdjust="spacingAndGlyphs">−30</tspan></text>
<text y="2836.8" font-size="47" font-weight="bold"><tspan x="792.3" textLength="78.7" lengthAdjust="spacingAndGlyphs">−20</tspan></text>
<text y="2836.8" font-size="47" font-weight="bold"><tspan x="880.5" textLength="78.7" lengthAdjust="spacingAndGlyphs">−10</tspan></text>
<text y="2836.8" font-size="47" font-weight="bold"><tspan x="997.5" textLength="22" lengthAdjust="spacingAndGlyphs">0</tspan></text>
<text y="2836.8" font-size="47" font-weight="bold"><tspan x="1076.3" textLength="43" lengthAdjust="spacingAndGlyphs">10</tspan></text>
<text y="2836.8" font-size="47" font-weight="bold"><tspan x="1162.5" textLength="47" lengthAdjust="spacingAndGlyphs">20</tspan></text>
<text y="2836.8" font-size="47" font-weight="bold"><tspan x="1250.7" textLength="47" lengthAdjust="spacingAndGlyphs">30</tspan></text>
<text y="2836.8" font-size="47" font-weight="bold"><tspan x="1338.9" textLength="47" lengthAdjust="spacingAndGlyphs">40</tspan></text>
<text y="2836.8" font-size="47" font-weight="bold"><tspan x="1427.1" textLength="47" lengthAdjust="spacingAndGlyphs">50</tspan></text>
<text y="2836.8" font-size="47" font-weight="bold"><tspan x="1515.4" textLength="47" lengthAdjust="spacingAndGlyphs">60</tspan></text>
<text y="2836.8" font-size="47" font-weight="bold"><tspan x="1603.6" textLength="47" lengthAdjust="spacingAndGlyphs">70</tspan></text>
<text y="2787.5" font-size="42" stroke="#000" stroke-width="1.4"><tspan x="1740.5" textLength="45" lengthAdjust="spacingAndGlyphs">[W</tspan> <tspan x="1811.5" textLength="30.5" lengthAdjust="spacingAndGlyphs">m</tspan><tspan x="1846.6" y="2771.4" font-size="25" textLength="25" lengthAdjust="spacingAndGlyphs">−2</tspan><tspan x="1872.6" y="2787.5" textLength="14.5" lengthAdjust="spacingAndGlyphs">]</tspan></text>
</svg></body></html>
